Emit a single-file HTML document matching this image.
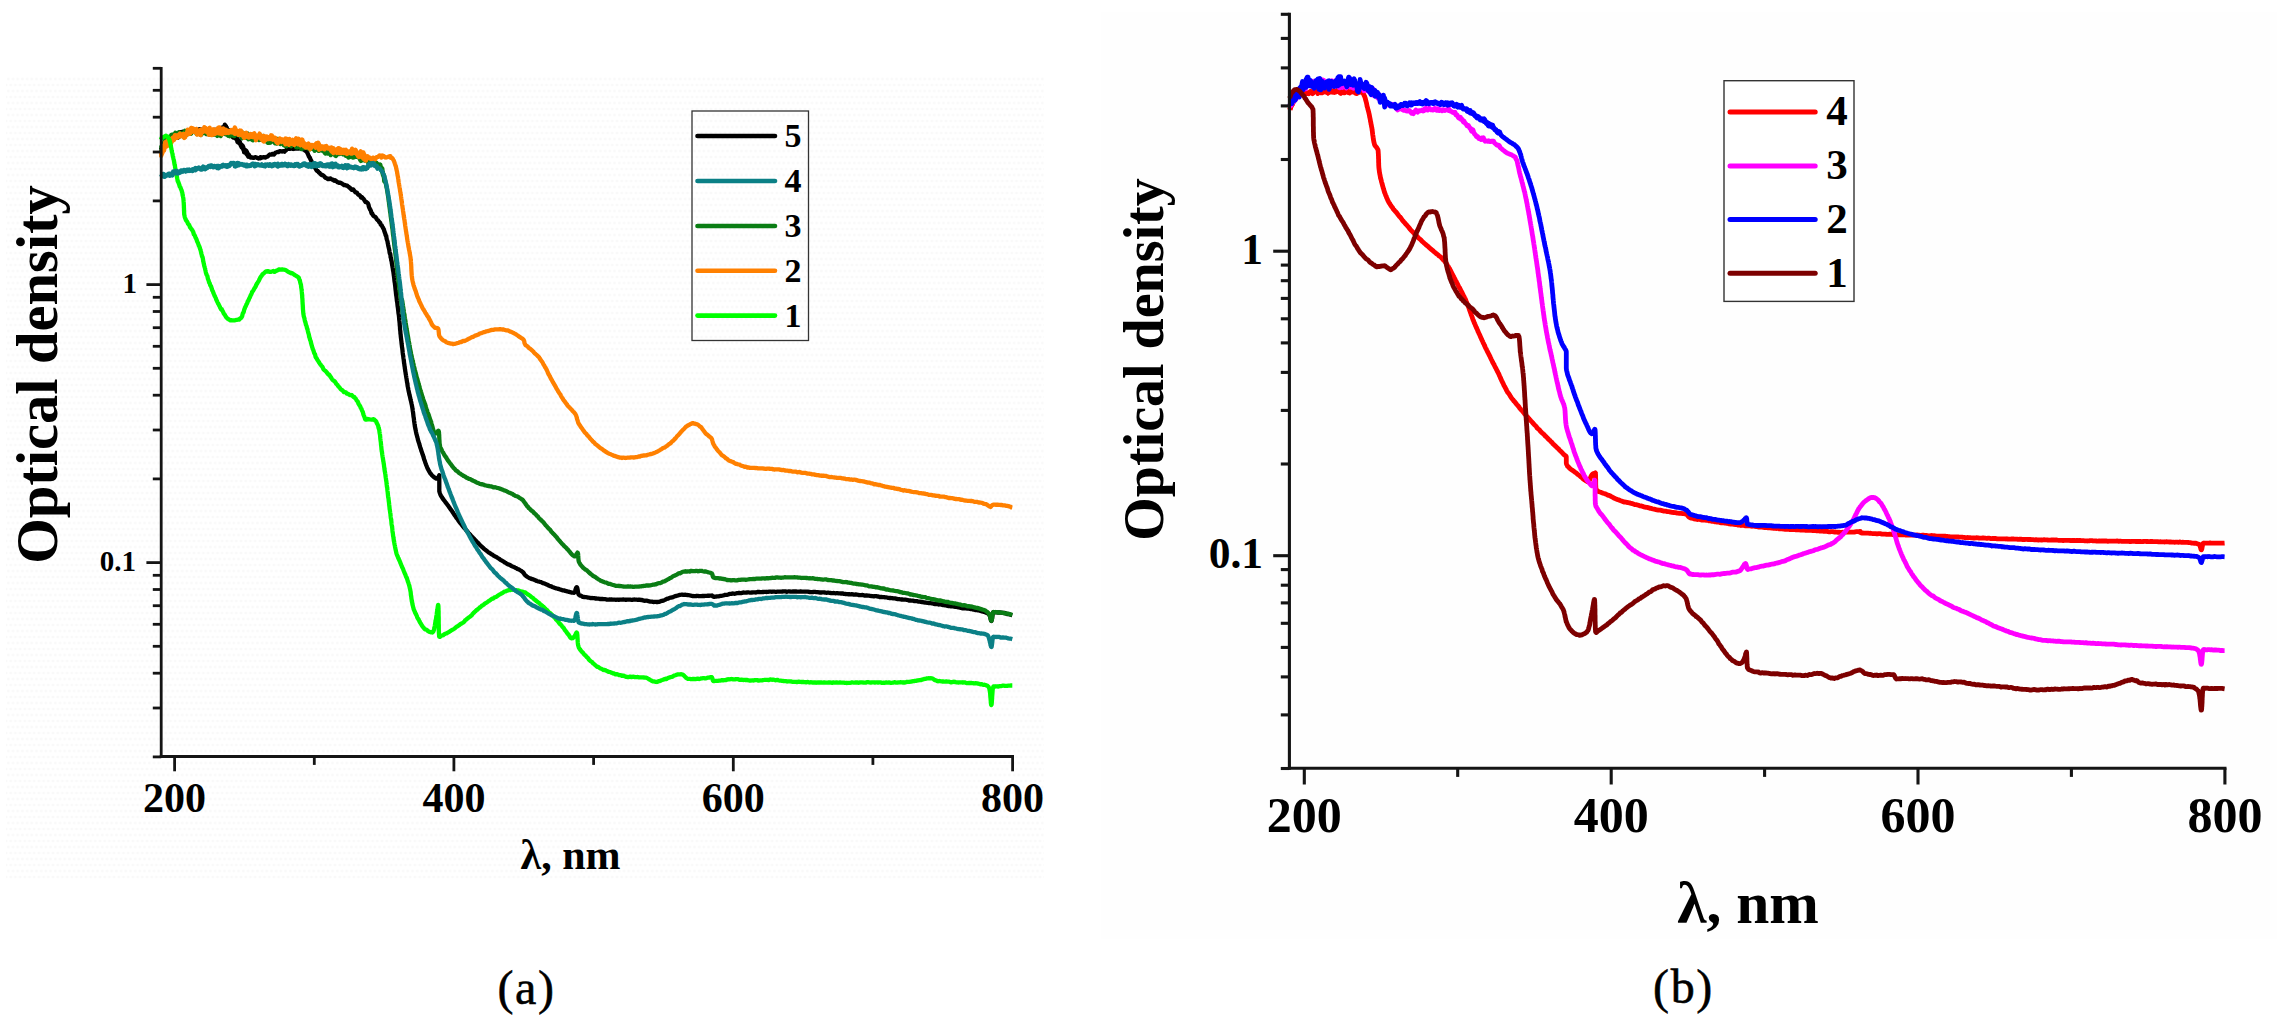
<!DOCTYPE html>
<html lang="en">
<head>
<meta charset="utf-8">
<title>Optical density spectra</title>
<style>
html,body{margin:0;padding:0;background:#fff;}
body{width:2277px;height:1033px;position:relative;overflow:hidden;font-family:"Liberation Serif",serif;}
svg text{font-family:"Liberation Serif",serif;fill:#000;}
svg text.b{font-weight:bold;}
svg text.r{font-weight:normal;stroke:#000;stroke-width:0.55px;}
</style>
</head>
<body>
<svg width="2277" height="1033" viewBox="0 0 2277 1033" style="position:absolute;left:0;top:0;display:block">
<defs>
<pattern id="dz" x="6" y="76" width="9.4" height="12" patternUnits="userSpaceOnUse">
<rect width="9.4" height="12" fill="#ffffff"/>
<circle cx="2.3" cy="3" r="1.3" fill="#f9f9f9"/><circle cx="7" cy="3" r="1.3" fill="#f9f9f9"/>
<circle cx="4.7" cy="9" r="1.3" fill="#f9f9f9"/><circle cx="0" cy="9" r="1.3" fill="#f9f9f9"/><circle cx="9.4" cy="9" r="1.3" fill="#f9f9f9"/>
</pattern>
</defs>
<rect x="0" y="0" width="2277" height="1033" fill="#ffffff"/>
<rect x="6" y="76" width="1038" height="805" fill="url(#dz)"/>
<rect x="1101" y="12" width="1176" height="927" fill="#fefefe"/>
<g id="chart-a">
<path d="M161.0 151.4 L161.3 150.9 L161.7 150.7 L162.1 148.4 L162.5 146.2 L162.9 146.5 L163.3 147.0 L163.8 147.5 L164.3 146.6 L164.8 142.9 L165.1 142.4 L165.4 143.2 L166.0 143.5 L166.6 142.0 L167.3 140.7 L168.0 140.1 L168.8 138.8 L169.6 138.9 L170.4 139.6 L171.2 138.5 L172.0 136.3 L172.8 136.1 L173.2 139.0 L173.5 139.5 L174.3 137.4 L175.1 136.7 L175.9 137.4 L176.7 137.5 L177.6 137.8 L178.4 137.4 L179.2 134.8 L180.0 132.3 L180.9 133.8 L181.7 132.9 L182.6 131.7 L183.4 133.9 L183.7 135.0 L184.3 133.3 L185.2 133.6 L186.0 134.1 L186.9 133.5 L187.8 133.1 L188.7 132.1 L189.6 131.7 L190.5 132.0 L191.4 132.4 L192.3 131.7 L193.2 130.5 L194.1 130.7 L195.1 131.7 L196.0 131.7 L196.5 131.4 L196.9 131.8 L197.8 131.9 L198.7 133.3 L199.6 133.3 L200.5 134.4 L201.4 133.0 L202.3 131.2 L203.2 132.4 L204.1 131.8 L205.0 131.5 L205.9 132.5 L206.8 134.1 L207.7 132.6 L208.6 130.7 L209.5 130.0 L210.4 130.8 L210.4 131.6 L211.3 131.6 L212.2 131.9 L213.1 131.6 L214.0 130.9 L215.0 129.8 L215.9 132.1 L216.8 130.6 L217.7 130.6 L218.5 131.0 L219.3 131.3 L219.7 131.7 L220.1 131.5 L220.8 131.0 L221.5 128.9 L222.2 129.7 L222.9 128.7 L223.5 128.7 L224.2 127.8 L224.8 127.6 L224.9 128.0 L225.4 128.1 L225.9 126.2 L226.5 127.4 L227.0 129.2 L227.5 130.2 L228.1 132.1 L228.6 131.6 L229.0 133.1 L229.2 131.2 L229.8 130.6 L230.4 132.8 L231.1 132.1 L231.7 134.1 L232.4 136.8 L233.1 137.5 L233.8 137.2 L234.4 136.7 L235.1 136.8 L235.7 136.3 L236.0 136.8 L236.3 137.2 L236.9 138.4 L237.5 140.5 L238.1 140.2 L238.6 140.1 L239.2 141.2 L239.7 143.5 L240.3 143.6 L240.6 144.0 L240.8 144.1 L241.2 144.7 L241.7 146.3 L242.1 146.8 L242.5 146.2 L242.9 146.7 L243.4 147.5 L243.8 149.8 L244.2 152.3 L244.7 151.7 L245.2 152.2 L245.3 151.0 L245.8 152.5 L246.4 154.1 L247.0 154.3 L247.6 155.4 L248.3 156.6 L249.0 155.2 L249.7 156.9" fill="none" stroke="#000000" stroke-width="4.3" stroke-linejoin="round" stroke-linecap="butt"/>
<path d="M161.0 149.7 L161.3 148.8 L161.7 148.3 L162.1 148.4 L162.5 147.5 L162.9 147.2 L163.3 147.3 L163.8 146.7 L164.3 145.2 L164.8 143.3 L165.1 142.3 L165.4 142.0 L166.0 142.0 L166.6 141.5 L167.3 140.0 L168.0 139.5 L168.8 139.7 L169.6 138.0 L170.4 138.7 L171.2 139.0 L172.0 137.2 L172.8 136.2 L173.2 136.8 L173.5 138.0 L174.3 136.6 L175.1 134.5 L175.9 135.5 L176.7 137.1 L177.6 137.1 L178.4 135.9 L179.2 133.9 L180.0 132.2 L180.9 133.4 L181.7 133.5 L182.6 133.9 L183.4 134.9 L183.7 134.0 L184.3 133.6 L185.2 133.5 L186.0 132.4 L186.9 131.5 L187.8 131.6 L188.7 133.0 L189.6 132.8 L190.5 132.1 L191.4 133.0 L192.3 131.9 L193.2 130.6 L194.1 131.8 L195.1 131.2 L196.0 130.3 L196.5 131.6 L196.9 131.3 L197.8 131.3 L198.7 131.4 L199.6 129.1 L200.5 129.4 L201.4 131.0 L202.3 131.7 L203.2 130.9 L204.1 130.3 L205.0 130.5 L205.9 131.9 L206.8 132.3 L207.7 130.2 L208.6 129.6 L209.5 131.1 L210.4 131.5 L210.4 131.4 L211.3 132.9 L212.2 133.1 L213.1 131.7 L214.0 131.7 L215.0 132.3 L215.9 131.0 L216.8 129.9 L217.7 130.5 L218.5 130.4 L219.3 130.9 L219.7 130.4 L220.1 130.6 L220.8 130.7 L221.5 129.3 L222.2 127.6 L222.9 127.2 L223.5 129.0 L224.2 127.8 L224.8 124.7 L224.9 124.8 L225.4 126.4 L225.9 126.4 L226.5 127.6 L227.0 129.2 L227.5 129.6 L228.1 129.9 L228.6 130.5 L229.0 131.5 L229.2 132.8 L229.8 134.8 L230.4 134.8 L231.1 134.2 L231.7 135.3 L232.4 134.9 L233.1 133.9 L233.8 135.9 L234.4 137.6 L235.1 137.4 L235.7 138.7 L236.0 138.4 L236.3 138.2 L236.9 138.8 L237.5 142.0 L238.1 142.4 L238.6 142.5 L239.2 141.5 L239.7 141.6 L240.3 144.1 L240.6 144.4 L240.8 145.8 L241.2 146.1 L241.7 147.3 L242.1 145.9 L242.5 145.6 L242.9 148.5 L243.4 149.4 L243.8 150.3 L244.2 151.6 L244.7 150.5 L245.2 150.1 L245.3 150.0 L245.8 150.3 L246.4 151.0 L247.0 152.1 L247.6 153.5 L248.3 154.6 L249.0 155.0 L249.7 156.7 L250.5 157.6 L251.1 157.6 L251.3 157.5 L252.1 157.3 L252.9 157.8 L253.8 157.9 L254.7 157.4 L255.6 157.2 L256.6 157.6 L257.5 158.1 L258.5 158.5 L259.4 158.2 L260.3 158.3 L260.4 157.2 L261.2 157.4 L262.0 157.6 L262.9 157.4 L263.8 157.2 L264.6 157.4 L265.5 157.6 L266.4 156.9 L267.2 156.7 L268.1 156.1 L268.9 155.3 L269.8 154.4 L270.6 154.7 L271.5 154.7 L272.0 154.0 L272.4 153.9 L273.2 154.0 L274.1 154.5 L275.0 153.4 L275.8 152.5 L276.7 152.2 L277.5 151.9 L278.4 152.2 L279.3 151.4 L280.1 151.2 L281.0 151.3 L281.9 151.5 L282.7 151.4 L283.6 151.1 L283.6 151.2 L284.5 151.7 L285.3 150.7 L286.2 150.1 L287.0 149.3 L287.9 148.9 L288.8 148.6 L289.6 148.9 L290.5 148.6 L291.4 148.0 L291.8 147.8 L292.3 148.7 L293.2 149.0 L294.1 148.8 L295.0 148.5 L295.9 148.6 L296.8 148.7 L297.7 148.7 L298.6 148.7 L299.5 148.2 L299.9 148.0 L300.4 147.8 L301.3 148.8 L302.2 148.6 L303.0 149.1 L303.8 149.6 L304.5 149.6 L304.6 149.8 L305.2 150.6 L305.8 151.0 L306.3 151.4 L306.8 152.1 L307.3 152.8 L307.8 153.8 L308.3 155.0 L308.7 156.0 L309.2 157.0 L309.6 157.4 L310.0 157.9 L310.1 158.5 L310.5 159.3 L310.9 160.2 L311.3 160.8 L311.7 161.7 L312.1 162.6 L312.5 163.3 L312.8 163.6 L313.2 164.6 L313.6 165.8 L314.1 167.0 L314.5 167.3 L315.0 167.9 L315.0 167.5 L315.5 167.8 L316.0 169.5 L316.6 170.5 L317.2 171.1 L317.8 171.0 L318.4 172.0 L319.1 172.6 L319.7 172.9 L320.4 173.9 L321.1 174.5 L321.8 175.1 L322.5 175.0 L323.2 175.5 L323.7 175.9 L323.9 175.9 L324.7 177.0 L325.5 177.9 L326.3 178.0 L327.1 178.5 L328.0 179.1 L328.9 179.0 L329.7 178.6 L330.6 178.4 L331.5 179.3 L332.4 179.6 L333.3 179.9 L334.1 180.7 L335.0 180.8 L335.3 180.3 L335.8 180.9 L336.6 181.4 L337.4 182.1 L338.3 182.4 L339.1 182.8 L339.9 182.7 L340.7 182.9 L341.6 183.4 L342.4 183.9 L343.2 184.5 L344.0 185.2 L344.8 185.0 L345.6 185.4 L346.4 185.5 L347.2 185.7 L348.0 186.4 L348.7 186.8 L349.5 187.7 L349.8 187.7 L350.3 188.1 L351.0 189.2 L351.8 189.9 L352.5 189.6 L353.3 189.4 L354.0 190.4 L354.8 191.5 L355.5 192.4 L356.3 192.5 L357.0 192.8 L357.7 194.0 L358.4 194.7 L359.1 194.8 L359.8 195.4 L360.4 196.4 L361.1 197.5 L361.4 196.9 L361.7 196.9 L362.4 197.7 L363.0 198.6 L363.7 199.1 L364.3 200.0 L364.9 201.1 L365.5 202.0 L366.1 201.9 L366.7 202.3 L367.2 202.8 L367.7 203.0 L368.2 204.0 L368.7 205.4 L368.7 206.0 L369.1 207.3 L369.4 208.0 L369.7 208.6 L370.0 209.4 L370.3 209.5 L370.6 210.1 L370.9 211.0 L371.3 212.3 L371.6 213.6 L371.7 213.1 L372.2 213.4 L372.7 214.5 L373.2 215.5 L373.8 216.2 L374.4 216.7 L375.0 216.7 L375.7 217.3 L376.3 218.3 L376.9 219.4 L377.6 220.2 L378.1 220.3 L378.7 221.3 L378.9 221.6 L379.2 222.1 L379.7 222.4 L380.2 223.0 L380.7 224.6 L381.2 225.0 L381.7 225.2 L382.2 226.5 L382.6 227.0 L383.1 228.0 L383.5 228.8 L383.9 229.4 L384.2 230.8 L384.6 231.6 L384.7 232.4 L384.9 232.7 L385.2 233.4 L385.4 234.4 L385.7 235.5 L385.9 235.4 L386.2 235.9 L386.4 237.1 L386.6 238.7 L386.9 239.7 L387.1 240.2 L387.3 240.8 L387.5 241.3 L387.7 243.0 L387.9 243.7 L388.0 244.4 L388.2 245.3 L388.4 246.4 L388.6 247.1 L388.8 248.0 L389.0 248.9 L389.0 248.9 L389.2 249.5 L389.4 250.8 L389.5 251.8 L389.7 253.0 L389.9 253.8 L390.1 253.6 L390.3 254.1 L390.5 255.7 L390.6 257.3 L390.8 257.6 L391.0 258.1 L391.2 259.9 L391.3 260.6 L391.5 260.6 L391.7 261.6 L391.8 262.9 L392.0 263.7 L392.1 264.8 L392.3 265.7 L392.5 266.7 L392.6 267.6 L392.8 268.4 L392.9 269.4 L393.0 270.1 L393.2 270.8 L393.3 271.7 L393.4 272.2 L393.5 272.8 L393.6 273.7 L393.7 274.3 L393.8 275.3 L394.0 276.3 L394.1 277.3 L394.2 278.1 L394.3 279.1 L394.4 280.2 L394.5 280.9 L394.6 281.8 L394.8 282.7 L394.9 283.6 L395.0 284.4 L395.1 285.1 L395.2 286.1 L395.3 286.9 L395.4 288.0 L395.5 289.0 L395.6 289.9 L395.7 290.9 L395.8 291.5 L395.9 292.5 L396.0 293.4 L396.1 294.2 L396.2 295.2 L396.3 295.8 L396.4 296.2 L396.5 297.0 L396.6 297.9 L396.7 298.7 L396.8 299.8 L396.9 300.8 L397.0 301.5 L397.2 302.3 L397.3 303.1 L397.4 304.1 L397.5 305.0 L397.6 305.9 L397.7 306.7 L397.9 307.8 L398.0 308.7 L398.1 309.6 L398.2 310.4 L398.3 311.3 L398.4 312.4 L398.5 313.2 L398.6 313.8 L398.8 314.8 L398.9 315.7 L399.0 316.6 L399.1 317.7 L399.2 318.4 L399.2 318.9 L399.2 319.2 L399.3 320.3 L399.4 321.0 L399.5 321.8 L399.6 322.9 L399.7 323.8 L399.7 324.7 L399.8 325.6 L399.9 326.4 L400.0 327.5 L400.0 328.5 L400.1 329.4 L400.2 330.2 L400.3 331.1 L400.4 331.9 L400.4 332.9 L400.5 333.8 L400.6 334.6 L400.7 334.8 L400.7 335.5 L400.8 336.5 L400.9 337.4 L401.0 338.2 L401.1 339.1 L401.2 340.0 L401.3 340.8 L401.4 341.5 L401.5 342.6 L401.6 343.6 L401.7 344.4 L401.8 345.1 L401.9 346.1 L402.0 347.1 L402.2 347.9 L402.3 348.8 L402.4 349.7 L402.5 350.6 L402.6 351.7 L402.7 352.7 L402.8 353.5 L402.9 354.4 L403.1 355.2 L403.2 355.9 L403.3 356.8 L403.4 357.8 L403.5 358.6 L403.7 359.4 L403.8 360.6 L403.9 361.3 L404.0 362.2 L404.1 363.3 L404.3 364.1 L404.4 365.0 L404.5 365.9 L404.7 366.8 L404.8 367.7 L404.9 368.7 L405.1 369.6 L405.2 370.4 L405.3 371.4 L405.5 372.2 L405.6 373.0 L405.7 374.0 L405.9 374.7 L406.0 375.6 L406.2 376.7 L406.3 377.4 L406.4 378.1 L406.6 379.0 L406.7 380.1 L406.9 381.1 L407.0 382.1 L407.2 382.7 L407.3 383.5 L407.5 384.6 L407.6 385.7 L407.8 386.6 L407.9 387.2 L407.9 387.2 L408.1 388.2 L408.3 389.2 L408.4 389.9 L408.6 390.8 L408.8 391.7 L409.0 392.6 L409.2 393.5 L409.4 394.6 L409.6 395.3 L409.8 396.1 L410.0 396.9 L410.2 397.8 L410.4 398.8 L410.6 399.7 L410.8 400.4 L411.0 401.3 L411.2 402.1 L411.4 403.0 L411.6 404.0 L411.8 404.8 L412.0 405.8 L412.1 406.7 L412.3 407.4 L412.3 407.4 L412.4 408.4 L412.6 409.4 L412.7 410.2 L412.8 411.1 L413.0 412.1 L413.1 412.8 L413.2 413.7 L413.3 414.7 L413.4 415.6 L413.5 416.6 L413.7 417.5 L413.8 418.1 L413.9 418.9 L414.0 420.0 L414.1 421.0 L414.2 421.8 L414.4 422.7 L414.5 423.7 L414.6 424.5 L414.8 425.5 L414.9 426.4 L415.1 427.2 L415.2 427.8 L415.2 428.1 L415.4 429.1 L415.6 429.8 L415.8 430.7 L415.9 431.4 L416.1 432.4 L416.3 433.4 L416.5 434.2 L416.8 435.2 L417.0 436.0 L417.2 436.9 L417.4 437.5 L417.7 438.5 L417.9 439.6 L418.1 440.4 L418.4 441.1 L418.6 441.9 L418.9 442.7 L419.2 443.6 L419.4 444.5 L419.7 445.4 L420.0 446.5 L420.2 447.2 L420.5 448.0 L420.8 448.9 L421.1 449.9 L421.3 450.7 L421.6 451.4 L421.9 452.2 L422.2 453.2 L422.4 453.9 L422.5 453.9 L422.8 455.0 L423.1 455.8 L423.4 456.6 L423.6 457.5 L423.9 458.4 L424.2 459.4 L424.5 460.2 L424.8 461.0 L425.1 462.0 L425.4 463.0 L425.8 463.9 L426.1 464.8 L426.4 465.5 L426.8 466.5 L427.1 467.3 L427.5 468.2 L427.9 469.1 L428.3 469.8 L428.7 470.5 L429.1 471.3 L429.5 471.9 L430.0 472.8 L430.5 473.6 L431.0 474.2 L431.2 474.2 L431.5 474.7 L432.1 475.5 L432.9 476.2 L433.6 476.8 L434.5 477.5 L435.3 478.1 L436.0 478.6 L436.7 478.7 L437.0 478.6 L437.3 478.3 L438.0 477.6 L438.6 476.7 L439.1 475.7 L439.3 475.2 L439.3 475.3 L439.3 475.3 L439.3 475.6 L439.3 476.1 L439.3 476.7 L439.3 477.5 L439.3 478.4 L439.3 479.3 L439.3 480.3 L439.3 481.5 L439.3 482.8 L439.3 483.9 L439.3 485.1 L439.3 486.4 L439.3 487.5 L439.3 488.6 L439.3 489.5 L439.3 490.2 L439.3 490.3 L439.3 491.3 L439.5 491.9 L439.7 492.6 L440.0 493.5 L440.3 494.5 L440.7 495.2 L441.1 496.0 L441.6 496.7 L442.1 497.5 L442.6 498.3 L443.2 499.2 L443.8 500.1 L444.4 500.7 L445.0 501.5 L445.6 502.5 L446.2 503.2 L446.8 503.9 L447.3 504.6 L447.9 505.3 L448.4 506.1 L448.6 506.3 L448.9 506.7 L449.4 507.6 L449.9 508.3 L450.4 509.0 L450.9 509.7 L451.4 510.3 L451.9 511.0 L452.4 511.7 L452.9 512.6 L453.4 513.3 L453.9 514.1 L454.4 514.9 L454.9 515.5 L455.5 516.4 L456.0 517.2 L456.5 517.9 L457.0 518.6 L457.6 519.1 L458.1 520.1 L458.6 520.9 L459.2 521.5 L459.7 522.3 L460.3 523.0 L460.8 523.7 L461.4 524.4 L461.9 525.0 L462.5 525.8 L463.1 526.5 L463.1 526.6 L463.6 527.2 L464.2 527.9 L464.8 528.5 L465.4 529.2 L465.9 529.8 L466.5 530.5 L467.1 531.2 L467.7 531.9 L468.3 532.7 L468.9 533.5 L469.5 533.9 L470.1 534.5 L470.7 535.4 L471.3 536.0 L472.0 536.7 L472.6 537.3 L473.2 537.9 L473.8 538.5 L474.5 539.2 L475.1 540.1 L475.7 540.7 L476.3 541.2 L477.0 542.0 L477.6 542.6 L477.6 542.4 L478.2 543.0 L478.9 543.8 L479.5 544.6 L480.2 545.3 L480.8 545.8 L481.5 546.4 L482.1 547.0 L482.8 547.6 L483.4 548.2 L484.1 548.8 L484.8 549.4 L485.2 549.7 L485.5 549.8 L486.2 550.4 L486.9 550.9 L487.6 551.6 L488.4 552.2 L489.1 552.7 L489.8 553.1 L490.6 553.6 L491.3 554.2 L492.1 554.5 L492.8 555.0 L493.6 555.7 L494.4 556.1 L495.1 556.4 L495.9 556.8 L496.7 557.2 L497.4 557.7 L498.2 558.2 L499.0 558.7 L499.8 559.3 L500.6 560.0 L501.3 560.3 L502.1 560.7 L502.9 561.2 L503.7 561.6 L504.5 562.3 L505.2 562.7 L505.6 562.8 L506.0 563.1 L506.8 563.7 L507.6 564.2 L508.4 564.5 L509.2 564.6 L510.1 565.1 L510.9 565.6 L511.7 566.1 L512.6 566.5 L513.4 566.8 L514.2 567.2 L515.1 567.7 L515.9 568.0 L516.7 568.4 L517.5 569.0 L518.3 569.3 L519.1 569.6 L519.8 570.0 L520.6 570.5 L521.3 570.9 L522.0 571.6 L522.7 571.9 L523.0 572.4 L523.3 572.6 L523.9 573.4 L524.4 574.3 L525.0 575.0 L525.6 575.6 L525.9 575.8 L526.2 576.1 L526.9 576.6 L527.6 577.0 L528.4 577.5 L529.1 577.9 L529.9 578.2 L530.7 578.6 L531.6 578.9 L532.4 579.2 L533.3 579.4 L534.1 579.8 L535.0 580.1 L535.9 580.5 L536.8 581.0 L537.7 581.3 L538.6 581.5 L539.4 581.7 L540.3 582.0 L541.2 582.2 L542.1 582.6 L542.9 583.1 L543.3 583.2 L543.8 583.3 L544.6 583.6 L545.4 583.9 L546.3 584.4 L547.1 584.6 L547.9 585.0 L548.8 585.6 L549.6 585.9 L550.4 586.2 L551.3 586.4 L552.1 586.9 L553.0 587.2 L553.8 587.5 L554.6 587.9 L555.5 588.1 L556.3 588.3 L557.2 588.5 L558.0 588.9 L558.9 589.0 L559.7 589.3 L560.6 589.6 L560.8 589.7 L561.5 589.9 L562.4 590.3 L563.3 590.4 L564.3 590.5 L565.3 590.9 L566.3 591.1 L567.3 591.4 L568.3 591.6 L569.2 591.9 L570.1 592.2 L571.0 592.4 L571.8 592.6 L572.6 592.6 L573.2 592.6 L573.8 592.8 L573.8 592.7 L574.3 592.5 L574.8 591.8 L575.2 590.7 L575.6 589.3 L576.0 588.1 L576.4 587.4 L576.7 587.1 L576.7 587.1 L576.9 587.2 L577.2 587.8 L577.4 588.6 L577.6 589.5 L577.8 590.7 L577.9 591.8 L578.2 593.0 L578.4 594.0 L578.7 594.7 L578.8 594.7 L579.1 594.9 L579.5 595.3 L580.1 595.6 L580.7 595.6 L581.5 595.9 L582.3 596.6 L583.2 596.9 L584.1 597.0 L585.0 597.1 L586.0 597.2 L587.1 597.3 L588.1 597.6 L589.2 597.7 L590.2 598.0 L591.3 598.1 L592.3 598.0 L593.3 598.2 L594.3 598.2 L595.3 598.4 L595.6 598.6 L596.1 598.5 L597.0 598.6 L597.9 598.6 L598.8 598.7 L599.7 599.0 L600.6 599.0 L601.5 599.0 L602.4 598.9 L603.3 599.1 L604.2 599.1 L605.1 599.2 L606.0 599.3 L606.9 599.6 L607.8 599.7 L608.7 599.6 L609.6 599.5 L610.5 599.6 L611.4 599.4 L612.3 599.6 L613.2 599.7 L614.1 599.7 L615.0 599.7 L615.9 599.8 L616.0 599.8 L616.8 599.7 L617.7 599.7 L618.7 599.9 L619.6 599.7 L620.5 599.7 L621.4 599.7 L622.3 599.6 L623.2 599.5 L624.1 599.6 L625.0 599.7 L625.9 599.9 L626.8 599.7 L627.7 599.7 L628.6 599.7 L629.5 599.7 L630.4 599.7 L631.3 599.8 L632.2 599.9 L633.1 599.7 L634.0 599.5 L634.9 599.6 L635.8 599.6 L636.3 599.6 L636.7 599.7 L637.6 599.8 L638.5 599.6 L639.4 599.6 L640.3 599.9 L641.2 600.0 L642.1 600.0 L643.0 600.4 L643.9 600.7 L644.8 600.8 L645.7 600.7 L646.6 600.7 L647.5 600.9 L648.4 601.1 L649.3 601.3 L650.2 601.6 L651.1 601.6 L652.0 601.7 L652.8 601.9 L653.7 602.0 L654.6 601.9 L655.5 601.8 L656.4 601.9 L656.6 602.0 L657.3 601.9 L658.1 602.0 L659.0 601.8 L659.9 601.6 L660.7 601.2 L661.6 600.9 L662.4 600.8 L663.3 600.6 L664.2 600.2 L665.0 599.8 L665.9 599.3 L666.7 598.9 L667.6 598.7 L668.2 598.6 L668.5 598.5 L669.3 598.0 L670.2 597.7 L671.1 597.6 L671.9 597.4 L672.8 597.3 L673.7 596.7 L674.5 596.4 L675.4 596.2 L676.3 595.9 L677.2 595.7 L678.0 595.5 L678.9 595.1 L679.8 594.9 L680.7 594.8 L681.5 594.7 L682.4 594.6 L682.8 594.7 L683.3 594.9 L684.2 594.8 L685.1 594.7 L686.0 594.8 L686.9 595.0 L687.8 595.1 L688.7 595.2 L689.6 595.3 L690.5 595.5 L691.4 595.8 L692.3 596.0 L693.2 596.0 L694.1 596.2 L695.0 596.2 L695.9 596.0 L696.8 596.0 L697.3 595.9 L697.7 595.9 L698.6 596.1 L699.5 596.1 L700.4 596.1 L701.4 596.1 L702.3 596.0 L703.3 596.0 L704.2 596.0 L705.2 595.9 L706.1 595.9 L707.0 595.9 L707.9 595.7 L708.8 595.9 L709.6 595.7 L710.5 595.7 L711.3 595.6 L711.8 595.5 L712.0 595.5 L712.7 596.3 L713.3 596.6 L713.4 596.6 L714.2 596.9 L715.1 596.7 L715.9 596.6 L716.8 596.4 L717.7 596.3 L718.6 596.3 L719.5 596.1 L720.4 595.9 L721.3 595.8 L722.3 595.7 L723.2 595.5 L724.1 595.2 L725.0 594.8 L725.9 594.8 L726.3 594.9 L726.8 594.8 L727.7 594.6 L728.6 594.3 L729.0 594.2 L729.5 593.9 L730.4 593.9 L731.3 593.9 L732.1 593.6 L733.0 593.5 L733.9 593.7 L734.8 593.8 L735.7 593.5 L736.6 593.2 L737.5 593.2 L738.4 593.0 L739.3 592.9 L740.2 593.1 L741.1 593.1 L742.0 592.9 L742.9 592.6 L743.8 592.5 L744.7 592.7 L745.6 592.7 L746.5 592.7 L747.4 592.3 L748.3 592.3 L749.2 592.5 L750.1 592.7 L751.0 592.6 L751.9 592.5 L752.8 592.4 L753.7 592.3 L754.6 592.3 L755.6 592.5 L756.5 592.4 L757.4 592.0 L758.1 592.1 L758.3 591.9 L759.2 592.0 L760.1 592.1 L761.0 592.2 L761.9 592.1 L762.8 592.0 L763.7 592.0 L764.6 591.8 L765.5 591.8 L766.4 592.0 L767.3 591.9 L768.2 591.8 L769.1 591.7 L770.0 591.7 L770.9 591.7 L771.8 591.8 L772.7 591.7 L773.6 591.7 L774.5 591.7 L775.4 591.8 L776.3 591.8 L777.2 591.7 L778.1 591.6 L779.0 591.6 L779.9 591.6 L780.8 591.6 L781.7 591.6 L782.6 591.5 L783.5 591.4 L784.4 591.3 L785.3 591.3 L786.2 591.6 L787.1 591.8 L787.1 591.8 L788.0 591.5 L788.9 591.3 L789.8 591.5 L790.7 591.6 L791.6 591.7 L792.5 591.5 L793.4 591.5 L794.3 591.5 L795.2 591.5 L796.1 591.5 L797.0 591.6 L797.9 591.6 L798.8 591.6 L799.7 591.6 L800.6 591.4 L801.5 591.6 L802.4 591.6 L803.3 591.6 L804.2 591.6 L805.1 591.6 L806.0 591.6 L806.9 591.6 L807.8 591.7 L808.7 591.9 L809.6 592.0 L810.5 592.1 L811.4 592.2 L812.3 592.1 L813.2 592.0 L814.1 591.9 L815.0 591.8 L815.9 592.0 L816.2 592.1 L816.8 592.1 L817.7 592.1 L818.6 592.3 L819.5 592.5 L820.4 592.4 L821.3 592.5 L822.2 592.4 L823.1 592.3 L824.0 592.4 L824.9 592.5 L825.8 592.7 L826.7 592.8 L827.6 592.7 L828.5 592.7 L829.4 592.8 L830.3 592.9 L831.2 593.1 L832.1 593.1 L833.0 593.1 L833.9 593.0 L834.8 593.2 L835.7 593.3 L836.6 593.2 L837.5 593.2 L838.4 593.4 L839.3 593.3 L840.2 593.4 L841.1 593.5 L842.0 593.4 L842.9 593.5 L843.8 593.9 L844.7 593.8 L845.2 593.8 L845.6 594.0 L846.5 594.1 L847.4 594.2 L848.3 594.3 L849.2 594.1 L850.1 594.3 L851.0 594.4 L851.9 594.2 L852.8 594.3 L853.7 594.6 L854.6 594.6 L855.5 594.5 L856.4 594.5 L857.3 594.7 L858.2 594.8 L859.1 595.1 L860.0 595.2 L860.9 595.2 L861.8 595.0 L862.7 595.0 L863.6 595.2 L864.5 595.6 L865.4 595.6 L866.3 595.4 L867.2 595.5 L868.1 595.7 L869.0 595.7 L869.9 595.8 L870.8 596.0 L871.7 596.1 L872.6 596.2 L873.5 596.4 L874.3 596.3 L874.4 596.1 L875.3 596.1 L876.2 596.2 L877.1 596.4 L878.0 596.5 L878.9 596.6 L879.7 597.0 L880.6 597.0 L881.5 597.0 L882.4 597.1 L883.3 597.1 L884.2 597.1 L885.1 597.3 L886.0 597.3 L886.9 597.5 L887.8 597.8 L888.7 597.9 L889.6 598.0 L890.5 598.0 L891.4 598.1 L892.3 598.2 L893.2 598.4 L894.1 598.4 L895.0 598.4 L895.9 598.6 L896.7 598.9 L897.6 599.1 L898.5 599.2 L899.4 599.2 L900.3 599.3 L901.2 599.5 L902.1 599.4 L903.0 599.7 L903.3 599.7 L903.9 599.7 L904.8 599.7 L905.7 599.7 L906.6 599.8 L907.5 600.0 L908.4 600.3 L909.3 600.6 L910.2 600.5 L911.1 600.6 L911.9 600.7 L912.8 600.7 L913.7 600.9 L914.6 601.2 L915.5 601.2 L916.4 601.1 L917.3 601.2 L918.2 601.6 L919.1 601.6 L920.0 601.7 L920.9 601.9 L921.8 602.0 L922.7 602.1 L923.6 602.3 L924.5 602.5 L925.4 602.5 L926.3 602.7 L927.1 602.8 L928.0 602.9 L928.9 603.1 L929.8 603.1 L930.7 603.2 L931.6 603.3 L932.4 603.3 L932.5 603.4 L933.4 603.6 L934.3 603.9 L935.2 604.1 L936.1 604.0 L937.0 604.0 L937.9 604.2 L938.7 604.5 L939.6 604.4 L940.5 604.4 L941.4 604.6 L942.3 604.8 L943.2 605.1 L944.1 605.2 L945.0 605.3 L945.9 605.4 L946.8 605.6 L947.7 605.9 L948.6 606.1 L949.4 606.0 L950.3 606.1 L951.2 606.4 L952.1 606.4 L953.0 606.4 L953.9 606.5 L954.8 606.8 L955.7 606.9 L956.6 606.8 L957.5 607.1 L958.4 607.3 L959.2 607.5 L960.1 607.6 L961.0 607.8 L961.4 607.8 L961.9 608.1 L962.8 608.3 L963.7 608.3 L964.6 608.4 L965.5 608.4 L966.4 608.4 L967.3 608.6 L968.2 608.6 L969.1 608.7 L970.0 609.0 L970.9 609.2 L971.8 609.2 L972.7 609.3 L973.6 609.7 L974.5 609.7 L975.3 610.0 L976.2 610.1 L977.1 610.1 L978.0 610.3 L978.9 610.4 L979.7 610.6 L980.6 611.0 L981.5 611.3 L981.8 611.4 L982.3 611.4 L983.3 611.7 L984.2 612.0 L985.2 612.3 L986.1 612.7 L987.0 613.0 L987.8 613.4 L988.5 613.9 L989.0 614.2 L989.0 614.1 L989.4 614.8 L989.8 615.9 L990.1 617.0 L990.4 618.0 L990.7 619.1 L990.9 620.0 L991.1 620.8 L991.4 621.0 L991.4 620.9 L991.6 620.4 L991.8 619.7 L992.0 618.8 L992.2 617.7 L992.3 616.4 L992.5 615.0 L992.7 613.8 L992.9 612.9 L993.2 612.3 L993.4 612.1 L993.5 612.1 L993.8 612.3 L994.2 612.4 L994.7 612.3 L995.2 612.2 L995.8 612.3 L996.5 612.2 L997.2 612.4 L998.0 612.5 L998.8 612.5 L999.7 612.4 L1000.6 612.6 L1001.6 612.7 L1002.6 612.9 L1003.7 613.0 L1004.8 613.0 L1005.9 613.5 L1007.1 614.0 L1008.4 614.2 L1009.6 614.4 L1010.9 614.8 L1012.3 615.1" fill="none" stroke="#000000" stroke-width="4.3" stroke-linejoin="round" stroke-linecap="butt"/>
<path d="M161.0 148.0 L161.4 146.6 L161.7 146.5 L162.1 145.3 L162.6 146.4 L163.0 148.0 L163.5 145.9 L164.0 144.0 L164.6 141.2 L165.1 140.5 L165.1 142.0 L165.7 139.8 L166.4 139.1 L167.1 140.1 L167.9 139.6 L168.7 139.5 L169.6 138.3 L170.4 138.2 L171.3 134.8 L172.1 134.7 L172.9 135.0 L173.2 136.1 L173.8 135.4 L174.6 136.9 L175.4 135.8 L176.3 136.8 L177.1 136.5 L178.0 137.3 L178.8 136.9 L179.7 134.5 L180.6 134.8 L181.4 135.4 L182.3 135.2 L183.2 136.4 L183.7 136.1 L184.1 133.0 L184.9 130.7 L185.8 133.0 L186.7 134.9 L187.6 132.9 L188.5 131.8 L189.4 132.2 L190.3 133.8 L191.2 133.7 L192.1 130.5 L193.0 132.0 L193.9 130.9 L194.8 130.1 L195.7 132.5 L196.5 131.8 L196.6 131.0 L197.5 131.1 L198.3 130.9 L199.2 132.2 L200.1 132.5 L201.0 135.0 L201.9 133.9 L202.8 132.1 L203.7 131.7 L204.6 131.4 L205.5 133.4 L206.4 133.2 L207.3 130.7 L208.2 132.7 L209.1 134.6 L210.0 134.6 L210.4 132.7 L210.9 132.1 L211.8 133.2 L212.7 134.4 L213.6 134.3 L214.5 133.6 L215.4 132.4 L216.3 131.0 L217.2 130.7 L218.1 132.6 L219.0 132.6 L219.9 134.3 L220.8 136.0 L221.7 132.7 L222.6 133.6 L223.5 132.0 L224.4 131.7 L224.4 131.8 L225.3 132.9 L226.2 133.9 L227.1 134.6 L228.0 135.6 L228.9 133.8 L229.8 134.3 L230.7 132.8 L231.6 132.0 L232.5 132.3 L233.4 132.0 L233.7 135.3 L234.3 136.0 L235.2 133.2 L236.1 132.0 L237.0 134.3 L237.9 135.0 L238.8 135.1 L239.6 133.9 L240.5 135.1 L241.4 137.1 L242.3 138.2 L243.0 135.7 L243.2 136.1 L244.1 135.4 L244.9 136.6 L245.8 137.7 L246.7 134.1 L247.6 133.4 L248.5 135.3 L249.4 137.0 L250.3 139.0 L251.1 137.4 L252.0 139.4 L252.9 138.5 L253.8 138.4 L254.6 136.4 L254.7 134.9 L255.5 137.0 L256.4 138.8 L257.3 137.3 L258.2 137.1 L259.0 138.0 L259.9 135.0 L260.8 137.4 L261.6 139.2 L262.5 137.9 L263.4 138.8 L264.3 140.7 L265.1 139.6 L266.0 138.0 L266.2 138.8 L266.9 138.6 L267.8 141.4 L268.7 142.7 L269.6 142.6 L270.5 142.6 L271.3 140.9 L272.2 138.5 L273.1 139.5 L274.0 141.7 L274.9 143.3 L275.8 143.0 L276.7 143.5 L277.6 141.7 L277.8 141.7 L278.5 139.1 L279.4 141.3 L280.3 141.5 L281.2 142.6 L282.1 142.0 L283.0 141.6 L283.9 143.3 L284.8 144.7 L285.7 145.1 L286.6 146.0 L287.5 143.5 L288.3 142.8 L289.2 142.4 L289.4 143.8 L290.1 145.7 L291.0 146.3 L291.9 143.8 L292.7 141.5 L293.6 142.8 L294.5 144.6 L295.3 145.6 L296.2 147.2 L297.1 147.4 L297.9 144.9 L298.8 143.1 L299.7 143.2 L300.5 146.4 L301.4 149.1 L302.3 148.3 L303.2 148.4 L303.3 145.8 L304.0 145.8 L304.9 146.3 L305.8 145.9 L306.7 146.8 L307.6 148.1 L308.5 148.4 L309.3 149.3 L310.2 149.3 L311.1 148.7 L312.0 147.1 L312.9 147.5 L313.8 148.9 L314.7 150.6 L315.6 149.2 L316.5 148.3 L317.3 148.8 L318.2 150.5 L319.1 149.3 L320.0 147.8 L320.9 147.3 L321.8 148.5 L322.7 150.6 L323.6 149.6 L324.5 152.2 L325.4 153.6 L326.3 151.8 L327.1 153.0 L328.0 153.6 L328.9 150.5 L329.8 152.1 L330.7 155.1 L331.6 153.9 L332.4 153.6 L332.5 153.9 L333.4 152.0 L334.2 152.1 L335.1 153.8 L336.0 156.0 L336.9 154.4 L337.8 151.9 L338.7 154.1 L339.6 153.8 L340.5 153.6 L341.4 153.4 L342.3 153.3 L343.1 154.3 L344.0 152.7 L344.9 154.5 L345.8 155.9 L346.7 155.9 L347.6 155.8 L348.5 157.1 L349.4 157.2 L350.3 156.6 L351.1 156.7 L352.0 155.5 L352.9 157.5 L353.8 157.4 L354.7 154.9 L355.5 155.9 L356.4 156.7 L357.3 154.3 L358.2 155.3 L359.0 157.5 L359.9 159.4 L360.8 160.9 L361.4 159.1 L361.6 155.4 L362.5 154.5 L363.4 155.4 L364.2 157.5 L365.1 158.3 L366.0 157.6 L366.8 158.1 L367.7 160.3 L368.5 162.1 L369.4 162.3 L370.2 160.7 L371.0 160.9 L371.8 159.0 L372.6 160.3 L373.1 162.0 L373.4 161.6 L374.2 161.1 L375.0 161.9 L375.8 163.2 L376.6 165.0 L377.3 165.8 L378.1 164.3 L378.7 165.0 L379.4 167.0 L379.9 166.9 L380.3 166.8 L380.4 167.5 L380.8 168.2 L381.2 167.6 L381.6 169.1 L381.9 168.1 L382.3 168.6 L382.6 171.4 L382.9 173.2 L383.2 173.6 L383.5 175.1 L383.8 176.8 L384.1 179.3 L384.3 181.3 L384.6 179.5 L384.8 178.8" fill="none" stroke="#0a7d14" stroke-width="4.3" stroke-linejoin="round" stroke-linecap="butt"/>
<path d="M161.0 149.5 L161.4 150.4 L161.7 149.2 L162.1 145.8 L162.6 144.4 L163.0 143.9 L163.5 144.3 L164.0 143.6 L164.6 142.6 L165.1 140.3 L165.1 143.1 L165.7 142.2 L166.4 141.6 L167.1 140.2 L167.9 139.4 L168.7 140.2 L169.6 140.2 L170.4 138.5 L171.3 138.1 L172.1 138.2 L172.9 135.7 L173.2 134.8 L173.8 136.5 L174.6 134.9 L175.4 132.8 L176.3 133.6 L177.1 134.0 L178.0 132.7 L178.8 132.3 L179.7 134.5 L180.6 135.7 L181.4 134.0 L182.3 133.0 L183.2 134.3 L183.7 134.8 L184.1 133.8 L184.9 134.6 L185.8 134.9 L186.7 132.9 L187.6 131.8 L188.5 133.0 L189.4 133.7 L190.3 133.6 L191.2 130.7 L192.1 130.3 L193.0 129.8 L193.9 129.2 L194.8 131.6 L195.7 132.4 L196.5 131.8 L196.6 134.0 L197.5 134.1 L198.3 133.5 L199.2 133.4 L200.1 133.1 L201.0 131.1 L201.9 132.9 L202.8 132.8 L203.7 130.5 L204.6 132.2 L205.5 133.0 L206.4 133.7 L207.3 132.7 L208.2 133.0 L209.1 133.2 L210.0 132.3 L210.4 133.5 L210.9 133.5 L211.8 133.5 L212.7 133.1 L213.6 134.7 L214.5 134.4 L215.4 133.4 L216.3 134.4 L217.2 135.9 L218.1 135.3 L219.0 131.9 L219.9 133.6 L220.8 133.9 L221.7 132.4 L222.6 131.9 L223.5 133.5 L224.4 131.8 L224.4 133.6 L225.3 134.2 L226.2 131.0 L227.1 131.0 L228.0 130.9 L228.9 133.3 L229.8 136.2 L230.7 135.7 L231.6 131.1 L232.5 131.7 L233.4 134.6 L233.7 135.9 L234.3 134.2 L235.2 132.5 L236.1 133.5 L237.0 133.6 L237.9 133.1 L238.8 133.0 L239.6 134.5 L240.5 134.9 L241.4 134.4 L242.3 133.7 L243.0 132.7 L243.2 134.2 L244.1 136.5 L244.9 134.9 L245.8 133.9 L246.7 137.1 L247.6 138.2 L248.5 139.2 L249.4 137.0 L250.3 134.9 L251.1 134.8 L252.0 139.1 L252.9 140.3 L253.8 136.7 L254.6 136.1 L254.7 137.4 L255.5 136.4 L256.4 136.7 L257.3 137.3 L258.2 138.7 L259.0 140.0 L259.9 139.6 L260.8 139.9 L261.6 139.0 L262.5 138.5 L263.4 136.0 L264.3 136.9 L265.1 140.0 L266.0 139.9 L266.2 140.9 L266.9 141.9 L267.8 142.9 L268.7 142.8 L269.6 142.5 L270.5 140.8 L271.3 139.5 L272.2 139.4 L273.1 139.6 L274.0 139.2 L274.9 140.1 L275.8 141.3 L276.7 141.8 L277.6 140.5 L277.8 138.9 L278.5 141.0 L279.4 142.8 L280.3 144.1 L281.2 143.3 L282.1 141.3 L283.0 142.0 L283.9 145.4 L284.8 145.5 L285.7 146.2 L286.6 146.3 L287.5 143.0 L288.3 143.4 L289.2 144.3 L289.4 144.5 L290.1 144.5 L291.0 144.2 L291.9 143.3 L292.7 141.8 L293.6 142.8 L294.5 143.3 L295.3 144.3 L296.2 144.6 L297.1 146.2 L297.9 147.1 L298.8 146.7 L299.7 146.6 L300.5 146.3 L301.4 145.8 L302.3 146.0 L303.2 146.3 L303.3 147.2 L304.0 147.5 L304.9 147.4 L305.8 146.2 L306.7 147.8 L307.6 146.7 L308.5 146.4 L309.3 147.2 L310.2 147.5 L311.1 148.2 L312.0 147.3 L312.9 146.5 L313.8 147.7 L314.7 150.5 L315.6 149.2 L316.5 147.6 L317.3 148.1 L318.2 148.2 L319.1 150.8 L320.0 148.7 L320.9 150.2 L321.8 150.4 L322.7 148.5 L323.6 150.6 L324.5 152.3 L325.4 151.9 L326.3 151.8 L327.1 152.5 L328.0 151.9 L328.9 151.7 L329.8 151.7 L330.7 151.9 L331.6 151.0 L332.4 152.3 L332.5 151.0 L333.4 150.4 L334.2 153.0 L335.1 155.4 L336.0 154.4 L336.9 152.7 L337.8 153.3 L338.7 152.6 L339.6 152.8 L340.5 152.2 L341.4 150.2 L342.3 152.3 L343.1 152.0 L344.0 151.7 L344.9 150.9 L345.8 150.9 L346.7 152.7 L347.6 156.1 L348.5 157.5 L349.4 156.2 L350.3 156.5 L351.1 154.5 L352.0 152.6 L352.9 155.1 L353.8 156.3 L354.7 155.7 L355.5 156.7 L356.4 156.9 L357.3 154.9 L358.2 154.1 L359.0 155.9 L359.9 156.7 L360.8 157.3 L361.4 159.7 L361.6 160.5 L362.5 158.5 L363.4 159.5 L364.2 160.5 L365.1 160.7 L366.0 160.7 L366.8 159.6 L367.7 161.5 L368.5 163.5 L369.4 162.1 L370.2 160.4 L371.0 162.2 L371.8 163.7 L372.6 162.6 L373.1 162.1 L373.4 163.5 L374.2 161.8 L375.0 163.2 L375.8 163.3 L376.6 163.0 L377.3 166.1 L378.1 165.9 L378.7 164.7 L379.4 166.7 L379.9 166.0 L380.3 164.5 L380.4 166.1 L380.8 168.9 L381.2 170.4 L381.6 170.6 L381.9 171.2 L382.3 172.2 L382.6 172.9 L382.9 175.0 L383.2 175.1 L383.5 175.8 L383.8 176.3 L384.1 175.2 L384.3 176.9 L384.6 180.7 L384.8 180.6 L385.0 180.5 L385.3 181.4 L385.5 182.3 L385.7 183.2 L385.9 184.0 L386.1 184.9 L386.1 185.1 L386.3 186.0 L386.4 186.7 L386.6 187.4 L386.8 188.4 L387.0 189.3 L387.1 190.2 L387.3 191.0 L387.4 192.2 L387.6 193.2 L387.7 193.8 L387.8 194.7 L388.0 195.6 L388.1 196.4 L388.2 197.1 L388.4 198.0 L388.5 199.2 L388.6 200.1 L388.7 201.1 L388.9 201.8 L389.0 202.9 L389.1 204.0 L389.2 204.5 L389.3 205.3 L389.4 206.3 L389.6 207.3 L389.7 208.2 L389.8 209.0 L389.9 209.8 L390.0 210.9 L390.1 212.0 L390.3 212.8 L390.4 213.2 L390.5 214.1 L390.5 214.3 L390.6 215.3 L390.7 216.3 L390.9 217.4 L391.0 218.2 L391.1 219.0 L391.2 219.8 L391.3 220.7 L391.5 221.6 L391.6 222.6 L391.7 223.4 L391.8 224.2 L391.9 225.3 L392.0 226.1 L392.1 226.9 L392.2 227.7 L392.4 228.5 L392.5 229.3 L392.6 230.1 L392.7 231.4 L392.8 232.4 L392.9 233.2 L393.0 234.2 L393.1 235.1 L393.2 235.8 L393.4 236.4 L393.5 237.5 L393.6 238.7 L393.7 239.7 L393.8 240.6 L393.9 241.4 L394.0 241.9 L394.1 242.7 L394.2 243.9 L394.3 244.9 L394.4 245.8 L394.5 246.6 L394.6 247.4 L394.7 248.2 L394.8 249.1 L394.9 249.2 L395.0 250.2 L395.1 251.1 L395.2 252.0 L395.3 252.9 L395.4 253.8 L395.5 254.7 L395.6 255.6 L395.7 256.3 L395.8 257.3 L395.9 258.4 L396.0 259.2 L396.1 260.1 L396.2 261.0 L396.3 261.7 L396.4 262.6 L396.5 263.6 L396.6 264.5 L396.7 265.4 L396.8 266.1 L396.9 267.0 L397.0 268.1 L397.1 269.1 L397.2 269.6 L397.3 270.7 L397.4 271.6 L397.5 272.5 L397.6 273.4 L397.7 274.4 L397.8 275.5 L397.9 276.2 L398.0 277.1 L398.1 277.9 L398.2 278.7 L398.3 279.7 L398.4 280.5 L398.5 281.4 L398.6 282.3 L398.8 283.3 L398.9 284.2 L399.0 285.1 L399.1 285.9 L399.2 287.1 L399.2 287.2 L399.3 288.0 L399.4 288.8 L399.6 289.7 L399.7 290.7 L399.8 291.8 L400.0 293.0 L400.1 294.0 L400.3 295.0 L400.4 296.2 L400.6 297.4 L400.8 298.6 L400.9 299.7 L401.1 300.9 L401.2 302.2 L401.4 303.4 L401.6 304.4 L401.7 305.9 L401.9 307.2 L402.0 308.0 L402.2 309.2 L402.3 310.1 L402.5 311.0 L402.6 312.0 L402.7 312.9 L402.9 314.0 L403.0 314.8 L403.1 315.3 L403.2 316.0 L403.3 316.5 L403.3 317.2 L403.4 317.8 L403.5 317.9 L403.5 318.3 L403.5 318.7 L403.6 319.0 L403.6 319.1 L403.6 318.8 L403.5 318.6 L403.5 318.3 L403.5 317.7 L403.4 317.0 L403.3 316.3 L403.3 315.3 L403.2 313.9 L403.1 312.6 L403.0 311.3 L402.9 309.7 L402.8 308.5 L402.7 307.2 L402.6 306.3 L402.5 305.0 L402.4 303.7 L402.3 302.5 L402.2 301.4 L402.2 301.0 L402.1 300.6 L402.1 300.1 L402.1 300.1 L402.1 300.1 L402.1 299.9 L402.1 300.3 L402.1 300.5 L402.2 300.6 L402.2 300.8 L402.3 301.1 L402.3 301.3 L402.4 301.8 L402.5 302.4 L402.5 302.8 L402.6 303.5 L402.7 303.9 L402.8 304.3 L402.9 305.2 L403.0 305.9 L403.1 306.7 L403.3 307.5 L403.4 308.5 L403.5 309.2 L403.7 310.2 L403.8 311.0 L403.9 312.0 L404.1 313.2 L404.3 314.1 L404.4 314.9 L404.6 315.9 L404.7 317.3 L404.9 318.4 L405.1 319.3 L405.3 320.4 L405.5 321.4 L405.6 322.5 L405.8 323.7 L406.0 325.0 L406.2 326.2 L406.4 327.3 L406.6 328.7 L406.8 329.9 L407.0 331.0 L407.2 332.2 L407.4 333.3 L407.6 334.5 L407.8 335.7 L408.0 336.9 L408.2 338.0 L408.4 339.1 L408.6 340.4 L408.8 341.3 L409.0 342.4 L409.2 343.4 L409.4 344.8 L409.6 346.0 L409.8 347.0 L409.9 347.9 L410.1 348.6 L410.3 349.6 L410.5 350.6 L410.7 351.5 L410.8 352.4 L410.9 352.6 L411.0 353.4 L411.2 354.3 L411.4 355.0 L411.6 355.8 L411.8 356.8 L412.0 357.9 L412.2 358.8 L412.4 359.7 L412.6 360.6 L412.8 361.2 L413.0 362.1 L413.2 363.0 L413.4 363.8 L413.6 364.7 L413.8 365.9 L414.0 366.8 L414.3 367.7 L414.5 368.4 L414.7 369.2 L414.9 370.2 L415.1 371.0 L415.4 371.9 L415.6 372.9 L415.8 373.6 L416.0 374.4 L416.3 375.3 L416.5 376.3 L416.7 377.2 L417.0 378.0 L417.2 378.8 L417.4 379.4 L417.7 380.4 L417.9 381.4 L418.2 382.1 L418.4 382.9 L418.6 383.8 L418.9 384.7 L419.1 385.6 L419.4 386.5 L419.5 387.2 L419.6 387.7 L419.9 388.5 L420.1 389.4 L420.4 390.1 L420.6 390.8 L420.9 391.7 L421.2 392.5 L421.4 393.5 L421.7 394.3 L422.0 395.4 L422.2 396.1 L422.5 396.7 L422.8 397.9 L423.1 398.9 L423.3 399.5 L423.6 400.4 L423.9 401.0 L424.2 402.0 L424.5 402.8 L424.8 403.7 L425.1 404.3 L425.4 405.2 L425.6 406.4 L425.9 407.5 L426.2 408.1 L426.5 409.0 L426.8 409.8 L427.1 410.6 L427.4 411.6 L427.7 412.5 L428.0 413.1 L428.3 414.1 L428.6 414.9 L428.9 415.6 L429.2 416.8 L429.5 417.7 L429.8 418.3 L430.1 419.3 L430.4 420.0 L430.7 420.9 L431.0 421.9 L431.2 422.1 L431.3 422.7 L431.6 423.8 L431.9 424.8 L432.2 425.8 L432.4 426.5 L432.7 427.7 L433.0 429.0 L433.3 429.9 L433.6 430.9 L433.9 431.7 L434.3 432.4 L434.6 433.0 L435.0 433.6 L435.4 433.6 L435.5 433.6 L436.0 433.4 L436.7 432.7 L437.5 431.5 L438.2 430.8 L438.4 430.7 L438.5 430.8 L438.6 431.0 L438.8 431.2 L438.9 431.8 L439.0 432.5 L439.0 433.4 L439.1 434.3 L439.2 435.2 L439.2 436.4 L439.3 437.8 L439.3 439.1 L439.4 440.0 L439.5 441.3 L439.5 442.4 L439.6 443.1 L439.7 444.1 L439.9 445.0 L439.9 445.3 L440.1 446.5 L440.3 447.2 L440.6 448.0 L440.9 448.6 L441.3 449.1 L441.7 450.0 L442.1 451.1 L442.6 451.9 L443.1 452.6 L443.6 453.5 L444.0 454.2 L444.5 455.2 L445.0 456.0 L445.5 456.5 L445.7 456.7 L446.0 457.4 L446.5 458.0 L446.9 458.9 L447.4 459.5 L447.9 460.4 L448.5 461.2 L449.0 461.8 L449.5 462.5 L450.1 463.3 L450.6 463.9 L451.2 464.7 L451.8 465.5 L452.3 466.3 L452.9 466.9 L453.5 467.8 L454.1 468.3 L454.7 468.9 L455.4 469.8 L456.0 470.5 L456.6 470.8 L457.3 471.3 L457.3 471.3 L458.0 471.8 L458.6 472.5 L459.3 473.2 L460.1 473.6 L460.8 474.1 L461.6 474.6 L462.3 475.0 L463.1 475.6 L463.9 476.1 L464.7 476.4 L465.5 476.9 L466.3 477.6 L467.1 477.8 L467.9 478.2 L468.7 478.8 L469.6 479.0 L470.4 479.2 L471.2 479.8 L471.8 480.0 L472.0 480.1 L472.8 480.6 L473.6 480.9 L474.4 481.2 L475.2 481.6 L476.0 482.1 L476.9 482.6 L477.7 482.8 L478.5 483.2 L479.4 483.7 L479.4 483.6 L480.2 484.0 L481.1 484.3 L481.9 484.2 L482.8 484.3 L483.7 484.8 L484.6 485.1 L485.4 485.3 L486.3 485.5 L487.2 485.8 L488.1 486.0 L489.0 486.0 L489.9 486.3 L490.7 486.4 L491.6 486.5 L492.5 486.8 L493.4 487.3 L494.3 487.3 L495.1 487.2 L496.0 487.5 L496.9 487.8 L497.8 488.0 L498.6 488.2 L499.5 488.4 L499.8 488.7 L500.3 488.8 L501.2 489.1 L502.0 489.4 L502.8 489.7 L503.7 490.2 L504.5 490.5 L505.3 490.7 L506.2 491.0 L507.0 491.5 L507.8 492.0 L508.7 492.4 L509.5 492.7 L510.3 493.0 L511.1 493.5 L511.9 493.8 L512.7 494.1 L513.5 494.8 L514.3 495.0 L514.3 495.1 L515.1 495.7 L515.9 496.0 L516.8 496.3 L517.6 496.6 L518.4 497.0 L519.2 497.7 L520.0 498.2 L520.8 498.6 L521.5 499.2 L522.2 499.5 L522.9 500.1 L523.0 500.4 L523.4 500.9 L523.9 501.6 L524.4 502.2 L524.9 502.9 L525.4 503.6 L525.9 504.3 L525.9 504.4 L526.4 505.1 L527.0 506.0 L527.6 506.5 L528.2 507.1 L528.8 508.2 L529.5 508.6 L530.1 509.1 L530.8 510.0 L531.4 510.7 L532.1 510.9 L532.8 511.4 L533.4 512.2 L534.1 513.1 L534.8 513.6 L535.4 514.1 L536.1 514.8 L536.7 515.6 L537.3 516.0 L537.5 516.1 L538.0 516.7 L538.6 517.7 L539.2 518.4 L539.8 518.9 L540.4 519.4 L541.0 520.0 L541.6 520.5 L542.2 521.3 L542.9 521.8 L543.5 522.4 L544.1 523.2 L544.7 524.0 L545.3 524.8 L545.9 525.5 L546.5 526.1 L547.1 526.7 L547.7 527.5 L548.3 528.2 L548.9 528.9 L549.5 529.2 L550.1 529.8 L550.7 530.7 L551.3 531.7 L551.9 532.3 L552.1 532.3 L552.5 532.9 L553.1 533.6 L553.7 534.2 L554.3 534.7 L554.9 535.4 L555.5 536.1 L556.1 536.7 L556.7 537.3 L557.3 538.2 L557.9 539.0 L558.5 539.7 L559.1 540.3 L559.7 541.0 L560.3 541.8 L560.9 542.4 L561.5 543.1 L562.1 543.8 L562.7 544.3 L563.3 544.9 L563.9 545.7 L564.6 546.4 L565.2 546.9 L565.8 547.5 L566.4 548.1 L566.6 548.2 L567.1 548.9 L567.7 549.5 L568.4 550.1 L569.0 551.0 L569.7 551.7 L570.3 552.6 L571.0 553.5 L571.7 554.2 L572.3 554.9 L573.0 555.3 L573.6 555.8 L574.2 556.2 L574.7 556.4 L574.8 556.3 L575.5 555.7 L576.2 554.7 L576.8 553.7 L577.4 553.0 L577.6 552.6 L577.7 552.7 L577.8 552.9 L578.0 553.5 L578.1 554.3 L578.2 555.5 L578.3 556.4 L578.3 557.6 L578.4 558.8 L578.5 560.0 L578.7 561.0 L578.8 561.5 L578.9 561.7 L579.1 562.3 L579.5 563.0 L579.9 563.7 L580.4 564.5 L580.9 565.1 L581.5 565.8 L582.2 566.6 L582.9 567.5 L583.6 568.1 L584.3 568.7 L585.1 569.4 L585.8 569.7 L586.6 570.1 L587.4 570.9 L588.1 571.6 L588.9 572.4 L589.6 573.0 L589.8 573.0 L590.2 573.6 L590.9 574.2 L591.6 574.6 L592.4 575.2 L593.1 575.9 L593.8 576.2 L594.5 576.6 L595.3 577.1 L596.0 577.6 L596.8 578.2 L597.6 578.8 L598.4 579.3 L599.1 579.7 L599.9 580.1 L600.7 580.7 L601.5 581.0 L602.3 581.4 L603.1 581.6 L603.9 582.0 L604.3 582.2 L604.7 582.3 L605.6 582.5 L606.4 582.7 L607.2 583.1 L608.1 583.6 L609.0 583.9 L609.8 583.9 L610.7 584.1 L611.6 584.5 L612.5 584.8 L613.4 585.0 L614.3 585.3 L615.1 585.7 L616.0 585.9 L616.9 585.9 L617.8 585.8 L618.7 586.0 L618.9 585.9 L619.6 585.9 L620.5 586.2 L621.4 586.2 L622.3 586.3 L623.2 586.5 L624.1 586.6 L625.0 586.6 L625.9 586.7 L626.8 586.6 L627.7 586.4 L628.6 586.5 L629.5 586.6 L630.4 586.5 L631.3 586.6 L632.2 586.7 L633.1 586.9 L633.4 586.9 L634.0 586.8 L634.9 586.7 L635.8 586.7 L636.7 586.6 L637.6 586.6 L638.5 586.6 L639.4 586.5 L640.3 586.3 L641.2 586.4 L642.1 586.2 L643.0 586.1 L643.9 585.8 L644.8 585.8 L645.7 585.6 L646.6 585.4 L647.5 585.4 L648.4 585.7 L649.3 585.4 L650.2 585.3 L650.8 585.3 L651.1 585.2 L652.0 585.0 L652.8 584.7 L653.7 584.6 L654.6 584.5 L655.5 584.4 L656.4 584.1 L657.3 583.6 L658.2 583.3 L659.0 583.2 L659.9 583.2 L660.7 582.9 L661.6 582.5 L662.4 581.9 L662.4 581.9 L663.2 581.7 L664.1 581.5 L664.9 581.1 L665.6 580.8 L666.4 580.3 L667.2 579.7 L668.0 579.2 L668.8 578.9 L669.5 578.4 L670.3 578.0 L671.1 577.7 L671.9 577.1 L672.7 576.5 L673.5 576.0 L674.1 575.8 L674.3 575.8 L675.1 575.5 L675.9 575.0 L676.7 574.6 L677.6 574.1 L678.4 573.5 L679.2 573.1 L680.1 573.3 L680.9 572.9 L681.8 572.3 L682.6 571.8 L683.5 571.7 L684.4 571.7 L685.2 571.2 L685.7 571.4 L686.1 571.6 L687.0 571.5 L687.9 571.4 L688.8 571.4 L689.7 571.5 L690.6 571.0 L691.5 570.9 L692.4 571.1 L693.3 571.2 L694.2 571.1 L695.1 571.1 L696.0 570.9 L696.9 570.8 L697.3 571.1 L697.8 571.3 L698.8 571.2 L699.7 570.9 L700.8 570.8 L701.8 570.9 L702.8 571.2 L703.9 571.5 L704.9 571.5 L705.9 571.5 L706.8 571.8 L707.8 572.1 L708.6 572.3 L709.5 572.5 L710.2 572.7 L710.9 573.1 L711.4 573.3 L711.8 573.5 L711.9 573.5 L712.3 574.3 L712.5 575.3 L712.8 576.2 L713.1 577.2 L713.3 577.3 L713.6 577.6 L714.2 577.7 L714.9 577.9 L715.6 578.1 L716.5 578.2 L717.4 578.2 L718.4 578.2 L719.4 578.6 L720.4 578.4 L721.4 578.6 L722.5 578.9 L723.5 579.0 L724.5 579.1 L725.5 579.4 L726.3 579.6 L726.4 579.6 L727.2 580.0 L728.1 580.0 L728.9 580.2 L729.0 580.2 L729.8 580.1 L730.7 580.3 L731.6 580.4 L732.4 580.1 L733.3 580.1 L734.2 580.2 L735.1 580.3 L736.0 580.4 L736.9 580.3 L737.8 580.1 L738.7 579.9 L739.6 579.9 L740.5 579.8 L741.4 579.6 L742.3 579.7 L743.2 579.7 L744.1 579.6 L745.0 579.6 L745.9 579.8 L746.8 579.7 L747.7 579.5 L748.7 579.3 L749.6 579.1 L750.5 579.1 L751.4 579.2 L752.3 579.1 L753.2 579.0 L754.1 579.1 L755.0 579.0 L755.9 578.7 L756.8 578.7 L757.7 578.7 L758.1 578.7 L758.6 578.6 L759.5 578.6 L760.4 578.7 L761.3 578.6 L762.2 578.4 L763.1 578.4 L764.0 578.4 L764.9 578.5 L765.8 578.4 L766.7 578.2 L767.6 578.1 L768.5 578.3 L769.4 578.2 L770.3 578.1 L771.2 578.0 L772.1 577.7 L773.0 577.8 L773.9 577.8 L774.8 577.9 L775.7 577.6 L776.6 577.3 L777.5 577.4 L778.4 577.6 L779.3 577.7 L780.2 577.7 L781.1 577.8 L782.0 577.7 L782.9 577.7 L783.8 577.5 L784.7 577.2 L785.6 577.4 L786.5 577.4 L787.1 577.3 L787.4 577.4 L788.3 577.4 L789.2 577.3 L790.1 577.3 L791.0 577.3 L791.9 577.4 L792.8 577.4 L793.7 577.4 L794.6 577.2 L795.5 577.3 L796.4 577.3 L797.3 577.4 L798.2 577.6 L799.1 577.7 L800.0 577.7 L800.9 577.8 L801.8 578.0 L802.7 577.8 L803.6 577.9 L804.5 577.8 L805.4 577.9 L806.3 578.0 L807.2 578.0 L808.1 578.2 L809.0 578.3 L809.9 578.2 L810.8 578.3 L811.7 578.3 L812.6 578.2 L813.5 578.4 L814.4 578.6 L815.3 578.8 L816.2 578.8 L816.2 578.9 L817.1 578.9 L818.0 579.2 L818.9 579.2 L819.8 579.2 L820.7 579.3 L821.6 579.4 L822.5 579.6 L823.4 579.7 L824.3 579.5 L825.2 579.3 L826.1 579.4 L827.0 579.7 L827.8 580.0 L828.7 580.1 L829.6 580.1 L830.5 580.2 L831.4 580.2 L832.3 580.4 L833.2 580.6 L834.1 580.5 L835.0 580.8 L835.9 580.8 L836.8 581.0 L837.7 581.1 L838.6 581.2 L839.5 581.2 L840.4 581.4 L841.3 581.6 L842.1 581.8 L843.0 582.2 L843.9 582.1 L844.8 582.1 L845.2 582.1 L845.7 582.0 L846.6 582.1 L847.5 582.4 L848.4 582.7 L849.3 582.6 L850.2 582.8 L851.1 582.9 L852.0 583.2 L852.8 583.4 L853.7 583.6 L854.6 583.7 L855.5 583.7 L856.4 584.0 L857.3 584.0 L858.2 584.2 L859.1 584.4 L860.0 584.4 L860.9 584.4 L861.7 584.7 L862.6 584.7 L863.5 584.8 L864.4 585.0 L865.3 585.4 L866.2 585.4 L867.1 585.4 L868.0 585.9 L868.9 586.3 L869.7 586.4 L870.6 586.3 L871.5 586.4 L872.4 586.7 L873.3 586.9 L874.2 586.9 L874.3 586.8 L875.1 587.1 L876.0 587.3 L876.8 587.2 L877.7 587.4 L878.6 587.7 L879.5 587.9 L880.4 588.1 L881.3 588.3 L882.1 588.5 L883.0 588.5 L883.9 588.5 L884.8 589.0 L885.7 589.4 L886.6 589.6 L887.5 589.5 L888.3 589.6 L889.2 590.0 L890.1 590.2 L891.0 590.3 L891.9 590.4 L892.7 590.4 L893.6 590.7 L894.5 590.8 L895.4 591.0 L896.3 591.2 L897.2 591.2 L898.0 591.3 L898.9 591.6 L899.8 592.0 L900.7 592.1 L901.6 592.3 L902.4 592.6 L903.3 592.9 L903.3 592.8 L904.2 592.8 L905.1 593.0 L906.0 593.2 L906.9 593.3 L907.7 593.4 L908.6 593.7 L909.5 594.0 L910.4 594.5 L911.3 594.5 L912.1 594.6 L913.0 594.8 L913.9 595.2 L914.8 595.2 L915.7 595.3 L916.5 595.5 L917.4 595.7 L918.3 596.0 L919.2 596.3 L920.0 596.2 L920.9 596.6 L921.8 597.0 L922.7 597.0 L923.6 597.1 L924.4 597.1 L925.3 597.2 L926.2 597.7 L927.1 598.1 L928.0 598.1 L928.8 598.1 L929.7 598.5 L930.6 598.8 L931.5 599.1 L932.4 599.2 L932.4 599.1 L933.2 599.2 L934.1 599.3 L935.0 599.7 L935.9 599.9 L936.8 600.2 L937.7 600.4 L938.5 600.4 L939.4 600.5 L940.3 600.5 L941.2 600.6 L942.1 601.0 L943.0 601.2 L943.8 601.3 L944.7 601.6 L945.6 601.8 L946.5 602.0 L947.4 601.9 L948.3 602.0 L949.1 602.5 L950.0 602.7 L950.9 602.8 L951.8 602.9 L952.7 603.1 L953.6 603.3 L954.5 603.3 L955.3 603.4 L956.2 603.8 L957.1 603.8 L958.0 604.1 L958.9 604.3 L959.8 604.5 L960.6 604.6 L961.4 605.0 L961.5 605.1 L962.4 605.3 L963.3 605.4 L964.2 605.2 L965.1 605.3 L966.0 605.7 L966.9 606.2 L967.8 606.3 L968.7 606.2 L969.6 606.4 L970.5 606.5 L971.4 606.5 L972.3 606.7 L973.2 607.0 L974.1 607.4 L975.0 607.5 L975.8 607.8 L976.7 607.8 L977.6 607.9 L978.4 608.4 L979.3 608.5 L980.1 608.8 L981.0 609.2 L981.8 609.2 L981.8 609.1 L982.6 609.7 L983.5 609.9 L984.4 610.1 L985.3 610.5 L986.1 611.2 L987.0 611.8 L987.7 612.3 L988.3 613.0 L988.9 613.7 L989.0 613.9 L989.3 614.4 L989.6 615.1 L989.9 615.9 L990.2 617.3 L990.5 618.4 L990.7 619.3 L990.9 620.0 L991.2 620.4 L991.4 620.7 L991.4 620.8 L991.6 620.4 L991.8 619.7 L992.0 618.7 L992.1 617.7 L992.3 616.3 L992.5 615.0 L992.7 614.0 L992.9 613.0 L993.2 612.3 L993.4 612.1 L993.5 612.2 L993.8 612.2 L994.2 612.2 L994.7 612.1 L995.3 612.0 L995.9 612.1 L996.5 612.2 L997.2 612.4 L998.0 612.5 L998.8 612.3 L999.7 612.5 L1000.6 612.6 L1001.6 612.7 L1002.6 612.8 L1003.7 612.9 L1004.8 613.3 L1005.9 613.5 L1007.1 613.5 L1008.4 613.7 L1009.6 614.1 L1010.9 614.5 L1012.3 615.0" fill="none" stroke="#0a7d14" stroke-width="4.3" stroke-linejoin="round" stroke-linecap="butt"/>
<path d="M161.0 152.9 L161.2 154.2 L161.5 152.4 L161.8 151.4 L162.1 150.7 L162.4 152.8 L162.8 149.0 L163.2 148.0 L163.6 148.5 L164.1 150.6 L164.5 147.4 L165.0 143.7 L165.1 143.6 L165.5 142.6 L166.0 142.0 L166.7 141.9 L167.3 140.8 L168.0 141.6 L168.7 139.0 L169.5 140.6 L170.2 142.2 L170.9 142.4 L171.0 143.6 L171.7 141.7 L172.5 140.8 L173.3 139.5 L174.1 139.9 L174.9 135.2 L175.7 136.4 L176.6 136.7 L177.4 137.6 L178.3 135.6 L179.2 136.1 L180.0 136.4 L180.9 134.7 L181.8 135.6 L182.6 136.2 L183.5 134.4 L183.7 133.7 L184.3 135.4 L185.2 137.1 L186.0 134.2 L186.9 133.5 L187.7 129.6 L188.5 130.0 L189.4 132.5 L190.2 133.4 L191.1 131.9 L191.9 130.9 L192.8 128.2 L193.7 128.9 L194.5 131.5 L195.4 131.2 L196.3 129.6 L196.5 128.9 L197.1 133.4 L198.0 133.9 L198.9 131.4 L199.8 130.8 L200.7 129.6 L201.6 131.7 L202.5 131.6 L203.4 129.6 L204.3 127.3 L205.2 128.1 L206.1 129.1 L207.0 132.2 L207.9 132.3 L208.8 134.7 L209.7 133.3 L210.4 131.8 L210.6 134.6 L211.5 135.1 L212.4 132.0 L213.3 129.2 L214.2 132.5 L215.1 134.0 L216.0 132.8 L216.9 129.9 L217.8 128.1 L218.7 127.4 L219.6 127.4 L220.5 129.7 L221.4 133.6 L222.3 134.3 L223.2 131.4 L224.1 130.8 L224.4 132.8 L225.0 133.1 L225.9 133.1 L226.8 131.5 L227.7 131.3 L228.6 132.9 L229.5 131.2 L230.4 131.9 L231.3 130.7 L232.2 131.3 L233.1 131.2 L233.7 131.1 L234.0 131.5 L234.9 133.9 L235.8 132.4 L236.6 131.2 L237.5 132.5 L238.4 134.9 L239.3 132.4 L240.1 130.5 L241.0 130.7 L241.9 132.8 L242.8 132.7 L243.0 133.0 L243.7 135.3 L244.5 137.8 L245.4 136.7 L246.3 136.1 L247.2 134.6 L248.1 136.3 L249.0 137.1 L249.8 136.7 L250.7 136.0 L251.6 134.6 L252.5 137.0 L253.4 135.6 L254.3 134.4 L254.6 135.9 L255.2 136.6 L256.0 136.4 L256.9 137.5 L257.8 137.8 L258.7 136.2 L259.6 135.5 L260.4 136.1 L261.3 136.4 L262.2 137.4 L263.1 141.0 L264.0 141.6 L264.9 137.0 L265.8 137.6 L266.2 136.6 L266.6 136.4 L267.5 138.4 L268.4 138.6 L269.3 137.1 L270.2 138.9 L271.1 139.0 L272.0 137.8 L272.9 139.7 L273.8 139.4 L274.7 137.9 L275.6 138.1 L276.4 139.7 L277.3 140.7 L277.8 143.3 L278.2 141.0 L279.1 139.9 L280.0 141.5 L280.9 139.9 L281.8 139.7 L282.7 140.0 L283.6 140.7 L284.5 141.8 L285.4 144.4 L286.3 142.0 L287.2 141.7 L288.1 143.7 L289.0 144.8 L289.4 141.1 L289.9 140.3 L290.8 142.5 L291.7 140.8 L292.6 139.9 L293.4 140.7 L294.3 142.6 L295.2 141.0 L296.1 138.2 L297.0 142.1 L297.9 144.2 L298.7 143.1 L299.6 141.9 L300.5 142.2 L301.4 140.5 L302.3 145.0 L303.1 143.7 L304.0 142.9 L304.9 145.7 L305.8 147.6 L306.7 144.6 L307.6 144.3 L308.4 143.6 L309.2 144.4 L309.3 147.5 L310.2 149.2 L311.1 146.4 L312.0 145.0 L312.9 145.5 L313.8 145.7 L314.7 145.0 L315.6 144.3 L316.4 143.3 L317.3 144.1 L318.2 146.6 L319.1 149.7 L320.0 147.3 L320.9 148.8 L321.8 147.0 L322.7 146.5 L323.6 148.5 L324.5 149.3 L325.4 146.6 L326.3 146.0 L327.1 147.7 L328.0 148.3 L328.9 147.9 L329.8 148.1 L330.7 147.7 L331.6 147.4 L332.5 150.3 L333.4 153.1 L334.3 152.1 L335.2 149.9 L336.0 150.2 L336.9 149.7 L337.8 148.6 L338.2 148.5 L338.7 150.0 L339.6 153.1 L340.5 152.1 L341.4 149.5 L342.2 150.0 L343.1 150.6 L344.0 149.8 L344.9 150.3 L345.8 149.7 L346.7 152.2 L347.6 153.4 L348.4 152.1 L349.3 152.7 L350.2 153.2 L351.1 153.7 L352.0 153.7 L352.9 151.3 L353.7 152.6 L354.6 152.9 L355.5 150.8 L356.4 153.8 L357.3 154.8 L358.1 156.2 L359.0 155.8 L359.9 156.5 L360.7 156.7 L361.4 156.1 L361.6 156.6 L362.5 154.8 L363.3 152.4 L364.2 154.3 L365.1 156.6 L365.9 158.3 L366.8 157.3 L367.6 157.9" fill="none" stroke="#ff8000" stroke-width="4.3" stroke-linejoin="round" stroke-linecap="butt"/>
<path d="M161.0 155.2 L161.2 155.9 L161.5 155.0 L161.8 154.4 L162.1 153.5 L162.4 148.6 L162.8 146.8 L163.2 145.8 L163.6 147.3 L164.1 148.6 L164.5 147.0 L165.0 145.2 L165.1 142.4 L165.5 143.4 L166.0 143.7 L166.7 146.5 L167.3 145.9 L168.0 144.3 L168.7 142.4 L169.5 142.4 L170.2 141.8 L170.9 139.6 L171.0 138.9 L171.7 138.8 L172.5 137.8 L173.3 137.3 L174.1 137.2 L174.9 137.1 L175.7 137.7 L176.6 135.6 L177.4 137.2 L178.3 135.9 L179.2 134.4 L180.0 133.5 L180.9 134.7 L181.8 135.2 L182.6 135.1 L183.5 134.2 L183.7 135.8 L184.3 138.0 L185.2 135.7 L186.0 133.7 L186.9 134.7 L187.7 133.8 L188.5 134.0 L189.4 133.5 L190.2 130.6 L191.1 127.9 L191.9 129.9 L192.8 131.6 L193.7 130.7 L194.5 131.7 L195.4 132.1 L196.3 130.8 L196.5 133.2 L197.1 134.5 L198.0 133.9 L198.9 133.8 L199.8 134.5 L200.7 135.0 L201.6 132.5 L202.5 131.5 L203.4 131.7 L204.3 129.2 L205.2 127.8 L206.1 129.4 L207.0 132.1 L207.9 132.0 L208.8 128.5 L209.7 127.8 L210.4 130.2 L210.6 131.4 L211.5 132.1 L212.4 133.7 L213.3 134.5 L214.2 133.3 L215.1 132.4 L216.0 129.6 L216.9 129.2 L217.8 131.8 L218.7 133.3 L219.6 133.5 L220.5 133.4 L221.4 133.6 L222.3 132.2 L223.2 128.4 L224.1 129.4 L224.4 132.1 L225.0 131.8 L225.9 129.8 L226.8 132.3 L227.7 131.2 L228.6 130.9 L229.5 132.2 L230.4 132.1 L231.3 130.0 L232.2 132.5 L233.1 131.8 L233.7 130.2 L234.0 129.5 L234.9 127.5 L235.8 129.6 L236.6 131.6 L237.5 130.9 L238.4 131.4 L239.3 132.3 L240.1 133.6 L241.0 135.0 L241.9 133.8 L242.8 133.5 L243.0 135.7 L243.7 137.5 L244.5 134.9 L245.4 134.0 L246.3 132.8 L247.2 136.3 L248.1 137.4 L249.0 137.5 L249.8 135.2 L250.7 134.0 L251.6 136.8 L252.5 136.9 L253.4 133.9 L254.3 133.2 L254.6 135.9 L255.2 137.6 L256.0 140.3 L256.9 136.6 L257.8 135.4 L258.7 135.4 L259.6 133.6 L260.4 135.7 L261.3 139.6 L262.2 138.0 L263.1 135.9 L264.0 135.8 L264.9 138.8 L265.8 139.9 L266.2 138.9 L266.6 138.1 L267.5 139.1 L268.4 139.2 L269.3 138.3 L270.2 138.5 L271.1 135.2 L272.0 135.7 L272.9 138.1 L273.8 138.5 L274.7 137.8 L275.6 140.3 L276.4 142.2 L277.3 141.5 L277.8 141.2 L278.2 141.9 L279.1 140.7 L280.0 138.5 L280.9 140.2 L281.8 141.9 L282.7 139.4 L283.6 139.9 L284.5 139.6 L285.4 138.5 L286.3 138.7 L287.2 140.8 L288.1 141.9 L289.0 141.1 L289.4 138.8 L289.9 140.2 L290.8 142.4 L291.7 143.8 L292.6 143.9 L293.4 144.3 L294.3 144.9 L295.2 143.8 L296.1 141.5 L297.0 141.8 L297.9 140.2 L298.7 138.8 L299.6 140.1 L300.5 145.3 L301.4 141.5 L302.3 139.6 L303.1 142.5 L304.0 146.4 L304.9 145.3 L305.8 145.0 L306.7 144.4 L307.6 145.3 L308.4 147.6 L309.2 147.2 L309.3 146.0 L310.2 147.4 L311.1 147.7 L312.0 146.0 L312.9 146.3 L313.8 146.1 L314.7 145.7 L315.6 147.7 L316.4 146.4 L317.3 144.4 L318.2 142.7 L319.1 144.5 L320.0 148.1 L320.9 146.2 L321.8 147.1 L322.7 147.2 L323.6 148.5 L324.5 148.5 L325.4 146.6 L326.3 147.0 L327.1 148.1 L328.0 148.4 L328.9 148.1 L329.8 148.2 L330.7 150.2 L331.6 151.6 L332.5 150.1 L333.4 148.2 L334.3 149.4 L335.2 149.9 L336.0 151.3 L336.9 152.9 L337.8 150.4 L338.2 149.2 L338.7 148.2 L339.6 148.7 L340.5 150.0 L341.4 153.0 L342.2 151.7 L343.1 151.0 L344.0 153.1 L344.9 150.4 L345.8 152.5 L346.7 154.0 L347.6 153.0 L348.4 151.6 L349.3 151.4 L350.2 151.9 L351.1 152.1 L352.0 148.7 L352.9 150.6 L353.7 152.5 L354.6 151.1 L355.5 149.7 L356.4 151.6 L357.3 152.7 L358.1 155.6 L359.0 157.0 L359.9 154.1 L360.7 151.2 L361.4 152.8 L361.6 153.5 L362.5 156.7 L363.3 158.8 L364.2 158.4 L365.1 160.2 L365.9 160.6 L366.8 158.4 L367.6 156.2 L368.5 157.2 L369.3 157.3 L370.2 158.6 L371.0 159.0 L371.9 159.5 L372.7 158.7 L373.1 157.6 L373.6 158.8 L374.5 159.6 L375.3 159.3 L376.2 157.5 L377.1 156.9 L377.9 156.9 L378.8 156.0 L379.7 155.4 L380.6 156.0 L381.4 157.6 L381.8 156.3 L382.3 155.5 L383.3 155.8 L384.3 156.5 L385.2 157.4 L386.2 157.5 L387.2 157.2 L388.1 156.8 L389.0 156.6 L389.8 156.1 L390.5 156.2 L390.5 157.8 L391.1 157.5 L391.7 158.0 L392.3 158.1 L392.8 158.9 L393.3 159.8 L393.8 160.6 L394.2 161.7 L394.6 162.8 L394.8 163.6 L394.9 163.7 L395.1 164.5 L395.4 165.3 L395.6 165.9 L395.9 166.6 L396.1 167.6 L396.3 168.8 L396.5 169.6 L396.7 170.4 L396.9 171.2 L397.1 172.1 L397.2 173.3 L397.4 174.1 L397.5 175.0 L397.7 175.8 L397.8 176.5 L398.0 177.2 L398.1 178.3 L398.3 179.0 L398.4 179.9 L398.5 181.3 L398.7 182.3 L398.8 183.1 L399.0 183.9 L399.1 184.8 L399.2 185.3 L399.3 185.7 L399.4 186.6 L399.6 187.4 L399.7 188.1 L399.9 189.2 L400.0 190.1 L400.1 191.1 L400.3 192.0 L400.4 192.7 L400.6 193.8 L400.7 194.7 L400.8 195.3 L401.0 196.2 L401.1 197.1 L401.2 197.8 L401.3 198.8 L401.5 199.9 L401.6 200.6 L401.7 201.4 L401.9 202.5 L402.0 203.7 L402.1 204.6 L402.2 205.2 L402.4 206.0 L402.5 207.0 L402.6 207.9 L402.8 208.7 L402.9 209.6 L403.0 210.7 L403.1 211.5 L403.3 212.1 L403.4 213.3 L403.5 214.3 L403.6 214.5 L403.7 215.1 L403.8 216.1 L403.9 216.9 L404.1 217.5 L404.2 218.7 L404.3 219.5 L404.5 220.1 L404.6 221.0 L404.7 222.1 L404.9 223.0 L405.0 224.1 L405.1 224.9 L405.2 225.8 L405.4 226.8 L405.5 227.6 L405.6 228.6 L405.8 229.5 L405.9 230.3 L406.0 231.3 L406.2 232.1 L406.3 232.7 L406.4 233.7 L406.6 234.6 L406.7 235.4 L406.8 236.2 L407.0 237.2 L407.1 238.3 L407.2 239.2 L407.4 240.2 L407.5 240.9 L407.7 241.7 L407.8 242.6 L407.9 243.2 L408.0 243.4 L408.1 244.2 L408.3 245.3 L408.4 246.4 L408.6 247.3 L408.8 247.9 L408.9 248.9 L409.1 250.0 L409.3 250.7 L409.5 251.6 L409.6 252.5 L409.8 253.5 L410.0 254.5 L410.1 255.4 L410.3 256.2 L410.4 256.9 L410.5 257.6 L410.6 258.5 L410.7 259.4 L410.8 259.9 L410.8 260.3 L410.9 261.4 L411.0 262.2 L411.0 263.1 L411.1 263.9 L411.2 265.0 L411.2 266.0 L411.3 266.7 L411.3 267.7 L411.3 268.6 L411.4 269.5 L411.4 270.4 L411.5 271.2 L411.5 272.1 L411.6 272.9 L411.6 273.8 L411.7 274.7 L411.8 275.8 L411.9 276.6 L412.0 277.5 L412.0 277.6 L412.1 278.3 L412.2 279.3 L412.4 280.1 L412.6 281.2 L412.8 282.1 L413.0 282.7 L413.2 283.5 L413.4 284.5 L413.7 285.7 L414.0 286.3 L414.2 287.0 L414.5 288.1 L414.8 288.9 L415.1 289.7 L415.4 290.4 L415.7 291.1 L416.0 292.1 L416.0 292.3 L416.2 292.9 L416.5 293.8 L416.8 294.7 L417.1 295.8 L417.5 296.7 L417.8 297.5 L418.1 298.1 L418.5 298.9 L418.8 299.9 L419.2 300.9 L419.5 301.7 L419.9 302.4 L420.3 303.2 L420.7 304.0 L421.0 304.7 L421.4 305.5 L421.8 306.5 L421.8 306.3 L422.2 307.2 L422.7 308.2 L423.1 308.9 L423.5 309.6 L424.0 310.3 L424.5 311.1 L424.9 311.9 L425.4 312.8 L425.9 313.6 L426.4 314.3 L426.9 315.3 L427.3 315.9 L427.8 316.5 L428.3 317.2 L428.8 318.0 L428.8 318.1 L429.2 319.1 L429.7 319.8 L430.1 320.5 L430.5 321.3 L431.0 322.2 L431.4 323.2 L431.8 324.3 L432.3 325.0 L432.8 325.6 L433.3 326.2 L433.9 326.6 L434.5 327.3 L434.6 327.5 L435.2 327.8 L436.3 327.9 L437.3 328.1 L438.0 328.4 L438.1 328.5 L438.3 329.1 L438.5 329.7 L438.6 330.6 L438.7 331.5 L438.8 332.5 L438.9 333.7 L439.0 334.7 L439.2 335.7 L439.3 335.6 L439.5 336.2 L439.9 336.9 L440.5 337.6 L441.1 338.4 L441.8 339.2 L442.6 339.8 L443.3 340.4 L444.1 340.8 L444.9 341.1 L445.1 341.1 L445.6 341.8 L446.4 342.3 L447.3 342.5 L448.1 343.0 L449.0 343.2 L449.9 343.4 L450.8 343.6 L451.7 343.7 L452.6 343.9 L453.2 344.1 L453.5 343.9 L454.3 343.8 L455.2 343.8 L456.1 343.5 L457.0 343.2 L457.9 343.0 L458.7 342.7 L459.6 342.3 L460.5 342.0 L461.3 342.1 L461.3 341.9 L462.2 341.4 L463.0 341.0 L463.9 341.0 L464.7 340.9 L465.5 340.6 L466.3 340.2 L467.1 339.8 L467.9 339.2 L468.8 338.8 L469.6 338.5 L470.4 338.0 L471.2 337.5 L472.0 337.0 L472.8 336.8 L473.0 337.0 L473.7 336.5 L474.5 336.0 L475.3 335.4 L476.2 335.4 L477.0 335.1 L477.8 334.8 L478.7 334.3 L479.5 333.7 L480.3 333.3 L481.2 333.2 L482.0 332.9 L482.9 332.5 L483.7 332.2 L484.6 332.0 L484.6 332.1 L485.4 331.7 L486.3 331.4 L487.2 331.2 L488.0 331.0 L488.9 330.9 L489.8 330.5 L490.7 330.1 L491.5 330.0 L492.4 329.9 L493.3 329.8 L494.2 329.6 L495.1 329.4 L496.0 329.4 L496.2 329.4 L496.9 329.3 L497.8 329.4 L498.7 329.4 L499.6 329.2 L500.5 329.2 L501.4 329.4 L502.0 329.5 L502.3 329.5 L503.2 329.4 L504.1 329.7 L505.0 330.0 L505.9 330.3 L506.7 330.3 L507.6 330.4 L508.5 330.6 L509.3 331.2 L510.1 331.6 L510.2 331.4 L511.0 331.8 L511.8 332.3 L512.6 332.6 L513.4 332.9 L514.2 333.4 L515.0 333.8 L515.8 334.2 L516.6 334.8 L517.3 335.3 L518.1 335.7 L518.8 336.4 L519.4 336.9 L519.6 336.7 L520.4 337.4 L521.2 338.0 L522.1 338.4 L522.8 338.9 L523.4 339.5 L523.8 340.3 L523.8 340.1 L524.1 340.8 L524.3 341.6 L524.4 342.8 L524.7 343.6 L524.7 343.4 L525.0 344.2 L525.5 345.0 L526.1 345.5 L526.8 345.9 L527.6 346.5 L528.4 347.4 L529.2 348.2 L529.9 348.5 L530.7 349.2 L531.1 349.5 L531.3 349.7 L532.0 350.4 L532.6 350.9 L533.3 351.6 L534.0 352.6 L534.6 353.2 L535.3 353.7 L535.9 354.3 L536.5 354.7 L537.2 355.4 L537.8 356.2 L538.4 356.6 L539.0 357.2 L539.5 358.0 L540.0 358.6 L540.0 359.0 L540.6 359.7 L541.1 360.4 L541.6 361.1 L542.0 361.6 L542.5 362.4 L543.0 363.4 L543.4 364.2 L543.9 364.9 L544.3 365.6 L544.7 366.4 L545.1 367.3 L545.6 367.8 L546.0 368.6 L546.4 369.4 L546.8 370.1 L547.2 371.0 L547.6 371.9 L548.0 373.1 L548.4 374.0 L548.8 374.6 L549.2 375.1 L549.6 376.0 L550.1 376.9 L550.5 377.7 L550.9 378.5 L551.3 379.3 L551.8 379.9 L552.2 380.8 L552.6 381.7 L552.7 381.8 L553.1 382.6 L553.6 383.3 L554.0 384.0 L554.5 384.8 L554.9 385.6 L555.4 386.4 L555.8 387.1 L556.3 388.2 L556.8 389.0 L557.2 389.6 L557.7 390.4 L558.1 391.3 L558.6 392.0 L559.1 392.7 L559.5 393.4 L560.0 393.9 L560.5 394.7 L560.9 395.8 L561.4 396.6 L561.9 397.4 L562.4 398.1 L562.9 399.0 L563.4 399.8 L563.9 400.6 L564.4 401.0 L564.9 401.7 L565.4 402.5 L565.9 403.2 L566.4 403.8 L567.0 404.5 L567.1 404.8 L567.5 405.6 L568.1 406.2 L568.7 406.7 L569.3 407.4 L570.0 408.1 L570.7 408.8 L571.3 409.4 L572.0 410.1 L572.6 411.0 L573.2 411.6 L573.8 412.1 L574.4 412.7 L574.9 413.4 L575.4 414.1 L575.8 414.9 L575.9 415.0 L576.1 415.6 L576.4 416.4 L576.7 417.3 L576.9 418.4 L577.2 419.5 L577.4 420.0 L577.7 420.8 L578.0 421.9 L578.2 422.5 L578.3 422.9 L578.7 423.6 L579.1 424.3 L579.5 424.8 L580.0 425.5 L580.5 426.4 L581.0 427.3 L581.5 427.8 L582.0 428.4 L582.6 429.3 L583.1 430.1 L583.7 430.8 L584.3 431.7 L584.9 432.6 L585.5 433.1 L586.1 433.6 L586.6 434.3 L587.2 435.1 L587.5 435.3 L587.8 435.9 L588.4 436.4 L589.0 436.9 L589.6 437.8 L590.2 438.5 L590.8 439.3 L591.4 439.7 L592.0 440.5 L592.6 441.2 L593.3 441.9 L593.9 442.3 L594.6 443.0 L595.2 444.0 L595.9 444.4 L596.6 444.8 L597.3 445.4 L597.9 446.0 L598.6 446.5 L599.1 446.9 L599.3 447.2 L600.0 447.7 L600.7 448.3 L601.5 448.8 L602.2 449.1 L603.0 449.7 L603.7 450.4 L604.5 450.7 L605.2 451.4 L606.0 451.9 L606.8 452.4 L607.6 452.9 L608.4 453.3 L609.2 453.7 L610.0 454.0 L610.7 454.2 L610.8 454.2 L611.6 454.7 L612.5 455.0 L613.3 455.5 L614.1 455.9 L615.0 456.0 L615.9 456.4 L616.7 456.6 L617.6 457.0 L618.5 457.1 L619.4 457.5 L620.3 457.6 L621.1 457.7 L622.0 458.0 L622.3 457.9 L622.9 457.6 L623.8 457.7 L624.7 457.8 L625.6 458.0 L626.5 457.8 L627.4 457.7 L628.3 457.7 L629.2 457.7 L630.1 457.5 L631.0 457.4 L632.0 457.4 L632.9 457.4 L633.8 457.5 L634.7 457.4 L635.6 457.2 L636.4 457.1 L636.9 457.1 L637.3 457.0 L638.2 456.6 L639.0 456.5 L639.9 456.5 L640.0 456.3 L640.8 456.0 L641.7 455.9 L642.6 455.6 L643.5 455.5 L644.4 455.5 L645.3 455.3 L646.1 455.4 L647.0 455.1 L647.9 454.8 L648.8 454.5 L649.7 454.3 L650.5 453.9 L650.9 454.1 L651.4 454.1 L652.2 453.8 L653.1 453.4 L653.9 453.2 L654.7 452.8 L655.6 452.4 L656.4 452.0 L657.2 451.7 L658.0 451.2 L658.8 450.7 L659.6 450.3 L660.4 449.8 L661.2 449.2 L661.8 449.0 L662.0 448.8 L662.7 448.2 L663.5 447.8 L664.3 447.7 L665.0 447.2 L665.8 446.7 L666.5 446.1 L667.3 445.7 L668.0 445.0 L668.7 444.3 L669.4 443.9 L670.1 443.6 L670.8 443.0 L671.5 442.2 L672.2 441.4 L672.7 441.0 L672.8 441.0 L673.5 440.5 L674.1 439.7 L674.7 439.0 L675.3 438.5 L675.9 437.8 L676.5 437.0 L677.1 436.1 L677.7 435.6 L678.3 435.1 L678.9 434.4 L679.5 433.9 L679.9 433.2 L680.1 432.9 L680.7 432.3 L681.3 431.6 L682.0 430.8 L682.6 430.2 L683.2 429.6 L683.8 429.1 L684.5 428.3 L685.1 427.6 L685.8 426.8 L686.5 426.3 L686.5 426.4 L687.2 425.9 L688.0 425.4 L688.7 425.1 L689.5 424.6 L690.4 424.0 L690.8 423.9 L691.2 423.9 L692.0 423.4 L692.9 423.1 L693.4 423.2 L693.8 423.5 L694.7 423.6 L695.6 423.9 L696.3 424.1 L696.4 424.1 L697.2 424.3 L698.0 424.8 L698.8 425.4 L699.5 426.2 L700.2 426.7 L700.3 426.7 L700.9 427.0 L701.5 427.7 L702.1 428.6 L702.6 429.4 L703.2 430.1 L703.7 430.8 L704.2 431.4 L704.8 432.3 L705.3 433.0 L705.9 433.7 L706.5 434.3 L706.8 434.2 L707.1 434.5 L707.8 435.1 L708.6 435.9 L709.4 436.6 L710.1 437.1 L710.8 437.7 L711.4 438.1 L711.5 438.3 L711.8 438.8 L712.1 439.7 L712.3 440.5 L712.6 441.5 L712.8 442.5 L713.1 443.2 L713.3 443.8 L713.4 444.0 L713.8 444.7 L714.3 445.5 L714.7 446.5 L715.3 447.2 L715.8 447.7 L716.4 448.6 L716.9 449.4 L717.5 450.2 L718.1 450.9 L718.8 451.6 L719.4 452.1 L719.9 452.7 L720.0 452.8 L720.6 453.6 L721.2 454.3 L721.8 455.1 L722.5 455.6 L723.1 455.9 L723.8 456.3 L724.5 456.9 L725.2 457.7 L725.9 458.3 L726.6 458.6 L727.1 458.9 L727.4 459.3 L728.1 459.9 L728.9 460.5 L729.7 460.9 L730.5 461.1 L731.3 461.4 L732.1 461.7 L732.9 462.0 L733.8 462.5 L734.6 463.2 L735.4 463.6 L736.3 463.9 L737.1 464.0 L738.0 464.3 L738.8 464.5 L739.7 464.7 L740.0 465.0 L740.5 465.3 L741.4 465.6 L742.2 465.8 L743.1 466.0 L743.9 466.6 L744.8 466.8 L745.7 466.7 L746.5 467.1 L747.2 467.5 L747.4 467.6 L748.3 467.4 L749.2 467.6 L750.1 467.9 L750.9 467.8 L751.8 467.8 L752.7 467.8 L753.6 467.9 L754.5 467.9 L755.4 468.1 L756.3 468.0 L757.2 468.2 L758.1 468.4 L759.0 468.4 L759.9 468.3 L760.9 468.3 L761.8 468.4 L762.7 468.4 L763.6 468.6 L764.5 468.6 L765.4 468.8 L766.3 468.9 L767.2 468.7 L768.1 468.6 L769.0 468.6 L769.9 468.9 L770.5 468.9 L770.8 468.8 L771.7 468.8 L772.6 469.1 L773.5 469.4 L774.4 469.5 L775.3 469.4 L776.2 469.3 L777.1 469.4 L778.0 469.4 L778.9 469.4 L779.8 469.6 L780.7 469.9 L781.6 470.0 L782.4 470.1 L783.3 470.0 L784.2 470.1 L785.1 470.5 L786.0 470.6 L786.9 470.7 L787.8 470.7 L788.7 471.0 L789.6 471.0 L790.5 471.0 L791.4 471.2 L792.3 471.6 L793.2 471.7 L794.1 471.6 L795.0 471.6 L795.9 471.7 L796.8 472.2 L797.6 472.3 L798.5 472.2 L799.4 472.2 L799.5 472.0 L800.3 472.4 L801.2 472.7 L802.1 472.8 L803.0 472.9 L803.9 472.9 L804.8 472.9 L805.7 473.0 L806.6 473.3 L807.5 473.6 L808.4 473.6 L809.2 473.6 L810.1 473.8 L811.0 473.9 L811.9 474.4 L812.8 474.4 L813.7 474.3 L814.6 474.6 L815.5 474.9 L816.4 475.0 L817.3 475.2 L818.1 475.1 L819.0 475.4 L819.9 475.5 L820.8 475.7 L821.7 475.9 L822.6 475.6 L823.5 475.7 L824.4 475.9 L825.3 475.9 L826.2 476.0 L827.1 476.4 L828.0 476.7 L828.6 476.7 L828.8 476.9 L829.7 477.1 L830.6 477.1 L831.5 477.0 L832.4 477.2 L833.3 477.3 L834.2 477.4 L835.1 477.6 L836.0 477.7 L836.9 477.9 L837.8 477.9 L838.7 477.9 L839.6 477.8 L840.5 477.9 L841.4 478.1 L842.3 478.3 L843.2 478.5 L844.1 478.5 L845.0 478.7 L845.9 479.1 L846.7 479.1 L847.6 479.1 L848.5 479.1 L849.4 479.4 L850.3 479.6 L851.2 479.5 L852.1 479.6 L853.0 479.8 L853.9 479.7 L854.8 479.7 L855.7 479.8 L856.6 480.2 L857.4 480.4 L857.6 480.6 L858.3 480.7 L859.2 480.9 L860.1 481.0 L861.0 481.1 L861.9 481.2 L862.7 481.3 L863.6 481.4 L864.5 481.7 L865.4 482.0 L866.3 482.1 L867.1 482.4 L868.0 482.7 L868.9 482.5 L869.8 482.8 L870.7 483.1 L871.5 483.3 L872.4 483.4 L873.3 483.8 L874.2 484.3 L874.3 484.0 L875.1 484.2 L875.9 484.4 L876.8 484.5 L877.7 484.7 L878.6 485.0 L879.5 484.9 L880.3 485.1 L881.2 485.5 L882.1 485.7 L883.0 486.1 L883.9 486.2 L884.7 486.6 L885.6 486.7 L886.5 486.9 L887.4 487.0 L888.3 487.1 L889.2 487.3 L890.0 487.6 L890.9 487.6 L891.8 487.8 L892.7 487.8 L893.6 487.9 L894.4 488.4 L895.3 488.6 L896.2 488.6 L897.1 488.9 L898.0 489.0 L898.9 489.0 L899.7 489.3 L900.6 489.7 L901.5 490.0 L902.4 490.2 L903.3 490.5 L903.3 490.3 L904.2 490.2 L905.1 490.3 L905.9 490.7 L906.8 490.8 L907.7 490.8 L908.6 490.9 L909.5 491.1 L910.4 491.4 L911.3 491.7 L912.1 491.8 L913.0 492.0 L913.9 492.2 L914.8 492.1 L915.7 492.2 L916.6 492.4 L917.5 492.4 L918.4 492.8 L919.3 493.1 L920.1 493.1 L921.0 493.1 L921.9 493.3 L922.8 493.5 L923.7 493.5 L924.6 493.6 L925.5 493.9 L926.4 494.1 L927.3 494.2 L928.2 494.6 L929.0 494.9 L929.9 494.9 L930.8 494.8 L931.7 495.0 L932.4 495.3 L932.6 495.3 L933.5 495.4 L934.4 495.5 L935.3 495.6 L936.2 495.9 L937.0 495.9 L937.9 495.9 L938.8 496.0 L939.7 496.5 L940.6 496.6 L941.5 496.6 L942.4 496.6 L943.3 496.6 L944.2 496.7 L945.1 497.1 L945.9 497.2 L946.8 497.4 L947.7 497.7 L948.6 498.0 L949.5 498.0 L950.4 498.0 L951.3 498.2 L952.2 498.2 L953.1 498.3 L954.0 498.6 L954.9 498.9 L955.7 499.0 L956.6 499.0 L957.5 499.2 L958.4 499.2 L959.3 499.2 L960.2 499.7 L961.1 499.8 L961.4 499.6 L962.0 499.6 L962.9 500.0 L963.8 500.3 L964.7 500.4 L965.6 500.7 L966.5 500.7 L967.4 500.8 L968.3 500.8 L969.2 500.8 L970.1 500.9 L971.0 501.0 L971.9 501.0 L972.8 501.2 L973.8 501.6 L974.7 501.8 L975.6 501.9 L976.5 501.9 L977.4 502.0 L978.2 502.4 L979.1 502.5 L980.0 502.5 L980.9 502.7 L981.7 502.8 L982.6 503.0 L983.5 503.6 L984.3 503.8 L985.1 504.0 L985.9 504.3 L986.1 504.1 L986.8 504.5 L987.5 505.1 L988.3 505.6 L989.1 506.2 L989.8 506.5 L990.5 506.8 L990.6 506.9 L991.3 506.2 L992.0 505.4 L992.8 504.9 L993.4 504.9 L993.5 504.7 L994.3 504.6 L995.1 504.7 L996.0 504.8 L996.8 504.6 L997.6 504.7 L998.4 504.9 L999.3 504.9 L1000.1 504.9 L1001.0 505.0 L1001.9 505.0 L1002.8 505.4 L1003.7 505.4 L1004.6 505.4 L1005.5 505.6 L1006.4 505.8 L1007.4 505.9 L1008.3 506.1 L1009.3 506.4 L1010.3 506.7 L1011.3 507.3 L1012.3 507.5" fill="none" stroke="#ff8000" stroke-width="4.3" stroke-linejoin="round" stroke-linecap="butt"/>
<path d="M161.0 139.7 L161.5 138.0 L162.0 137.8 L162.6 137.4 L163.3 137.0 L163.4 137.0 L164.1 136.8 L165.0 136.1 L165.9 135.7 L166.3 135.9 L166.6 136.0 L167.3 136.2 L167.9 137.0 L168.5 138.2 L168.9 139.1 L169.2 139.4 L169.3 139.4 L169.6 140.2 L169.8 141.6 L170.1 142.4 L170.3 143.4 L170.5 144.3 L170.7 145.5 L170.9 146.3 L171.0 147.0 L171.2 147.9 L171.3 148.4 L171.5 149.5 L171.7 150.0 L171.8 151.2 L172.0 152.4 L172.1 152.4 L172.2 152.8 L172.4 153.5 L172.6 154.6 L172.8 155.9 L173.0 156.8 L173.2 157.2 L173.3 157.9 L173.5 159.0 L173.7 159.6 L173.9 160.5 L174.1 161.6 L174.3 162.8 L174.4 163.7 L174.6 164.6 L174.8 165.3 L175.0 166.1 L175.0 166.4 L175.1 167.5 L175.3 168.1 L175.5 169.0 L175.6 169.8 L175.8 170.9 L175.9 171.9 L176.1 172.7 L176.2 173.6 L176.4 174.6 L176.5 175.1 L176.7 175.8 L176.9 176.7 L177.1 177.8 L177.2 178.4 L177.4 179.3 L177.6 180.6 L177.9 181.6 L177.9 181.4 L178.1 181.4 L178.4 182.3 L178.7 183.3 L179.1 184.1 L179.4 185.4 L179.8 186.7 L180.2 187.1 L180.6 187.7 L180.9 188.9 L181.3 189.7 L181.6 190.4 L181.8 191.1 L182.0 191.8 L182.0 192.1 L182.2 192.4 L182.4 193.4 L182.6 195.0 L182.8 195.9 L183.0 196.4 L183.1 197.1 L183.3 198.1 L183.4 198.9 L183.5 200.1 L183.6 201.5 L183.7 202.2 L183.7 202.6 L183.7 202.9 L183.8 203.9 L183.8 204.9 L183.9 205.3 L183.9 206.2 L183.9 207.3 L184.0 208.5 L184.0 209.7 L184.0 210.3 L184.1 210.6 L184.1 211.6 L184.1 212.4 L184.2 213.5 L184.2 214.7 L184.3 214.4 L184.4 215.3 L184.6 216.1 L184.8 217.2 L185.1 218.0 L185.4 218.7 L185.7 219.6 L186.1 220.5 L186.6 220.9 L187.0 221.5 L187.5 222.4 L188.0 223.7 L188.5 224.2 L189.0 224.7 L189.5 225.8 L190.0 227.2 L190.5 227.7 L191.0 228.5 L191.5 229.2 L192.0 229.8 L192.4 230.4 L192.8 231.2 L193.0 231.4 L193.2 231.8 L193.6 233.6 L193.9 234.4 L194.3 234.8 L194.7 235.4 L195.1 236.2 L195.4 237.3 L195.8 238.1 L196.2 238.8 L196.5 239.3 L196.9 240.6 L197.3 241.9 L197.6 242.3 L198.0 243.2 L198.3 244.0 L198.6 245.0 L198.9 245.9 L199.3 246.4 L199.6 247.1 L199.8 248.1 L200.1 248.9 L200.2 249.0 L200.4 249.8 L200.7 250.7 L200.9 251.2 L201.1 252.5 L201.4 253.8 L201.6 254.5 L201.8 255.2 L202.0 256.4 L202.2 256.5 L202.5 256.9 L202.7 257.8 L202.9 258.7 L203.1 260.2 L203.2 261.2 L203.4 261.6 L203.6 262.8 L203.8 263.5 L204.0 264.6 L204.2 265.7 L204.4 266.5 L204.7 267.3 L204.9 268.1 L205.1 268.7 L205.3 269.9 L205.6 271.1 L205.8 272.2 L206.0 273.0 L206.0 273.1 L206.3 273.8 L206.6 274.7 L206.8 275.1 L207.1 275.4 L207.4 276.2 L207.7 277.8 L207.9 278.8 L208.2 279.6 L208.5 280.2 L208.8 281.3 L209.1 282.5 L209.4 282.9 L209.7 283.3 L210.0 284.4 L210.3 285.5 L210.7 285.7 L211.0 286.3 L211.3 287.2 L211.6 288.2 L212.0 289.6 L212.3 290.4 L212.6 290.9 L213.0 291.6 L213.3 292.6 L213.3 292.7 L213.7 293.5 L214.0 294.3 L214.4 295.2 L214.7 296.3 L215.1 296.5 L215.5 297.5 L215.9 298.4 L216.2 299.5 L216.6 300.3 L217.0 301.2 L217.4 302.1 L217.8 302.9 L218.2 303.7 L218.6 304.2 L219.0 305.3 L219.5 306.0 L219.9 307.0 L220.4 308.1 L220.8 308.9 L221.3 309.5 L221.8 309.3 L222.0 309.8 L222.2 310.6 L222.7 311.1 L223.2 312.2 L223.8 313.6 L224.3 314.3 L224.8 314.8 L225.4 315.9 L226.0 316.9 L226.5 317.5 L227.1 318.2 L227.8 318.8 L228.4 319.0 L229.1 319.7 L229.8 319.9 L230.5 320.4 L230.7 320.4 L231.2 320.2 L232.1 320.4 L233.0 320.4 L234.0 320.3 L235.0 320.3 L236.1 319.9 L237.0 319.8 L237.9 319.7 L238.7 319.7 L239.4 319.6 L239.4 318.9 L239.9 318.8 L240.4 318.2 L240.9 318.0 L241.3 317.7 L241.7 317.0 L242.1 316.4 L242.4 315.1 L242.8 313.5 L243.1 312.7 L243.4 312.6 L243.8 311.7 L244.1 310.1 L244.5 308.9 L244.8 308.4 L245.2 307.0 L245.2 307.1 L245.6 306.5 L246.0 305.6 L246.4 304.5 L246.8 303.9 L247.1 303.4 L247.5 302.2 L247.9 301.1 L248.3 300.6 L248.7 299.9 L249.0 299.0 L249.4 298.1 L249.8 297.5 L250.2 296.5 L250.6 295.5 L250.9 294.9 L251.3 294.2 L251.7 293.2 L252.1 292.0 L252.5 291.4 L252.9 291.0 L253.3 290.4 L253.8 289.5 L254.2 288.7 L254.6 288.0 L255.1 287.5 L255.5 286.8 L256.0 285.7 L256.4 284.6 L256.9 283.9 L256.9 283.5 L257.4 283.0 L257.9 282.2 L258.4 281.4 L258.8 280.7 L259.4 279.5 L259.9 278.3 L260.4 277.5 L260.9 276.6 L261.5 275.9 L262.0 275.2 L262.6 274.2 L263.2 273.9 L263.8 273.4 L264.5 272.6 L265.1 272.1 L265.8 271.4 L266.5 271.4 L267.0 271.6 L267.2 271.1 L267.9 271.1 L268.8 271.3 L269.7 271.8 L270.6 271.9 L271.6 271.5 L272.6 271.3 L273.5 270.9 L274.3 271.5 L274.4 271.8 L275.3 271.6 L276.2 270.7 L277.0 270.7 L277.9 270.2 L278.8 269.5 L279.6 269.4 L280.5 269.6 L281.3 269.7 L281.6 269.6 L282.2 269.4 L283.1 269.7 L283.9 269.7 L284.8 269.8 L285.7 270.0 L286.5 270.6 L287.4 271.3 L288.2 271.9 L289.1 272.1 L289.9 272.7 L290.7 273.1 L291.5 273.4 L291.7 273.0 L292.3 273.2 L293.2 273.9 L294.1 274.6 L294.9 275.1 L295.8 275.6 L296.6 276.1 L297.4 276.7 L298.1 277.1 L298.6 277.5 L299.0 278.3 L299.0 278.4 L299.3 279.3 L299.5 279.7 L299.8 280.3 L300.0 281.2 L300.2 282.3 L300.5 283.3 L300.6 283.9 L300.8 284.3 L301.0 285.1 L301.1 286.6 L301.3 287.9 L301.4 288.8 L301.5 289.1 L301.6 290.1 L301.7 290.8 L301.8 291.9 L301.9 292.7 L301.9 293.4 L302.0 294.0 L302.1 294.7 L302.2 295.8 L302.2 297.3 L302.3 298.3 L302.4 298.4 L302.4 299.2 L302.5 300.4 L302.5 301.6 L302.6 302.6 L302.6 303.5 L302.7 303.9 L302.7 304.8 L302.8 305.6 L302.8 306.4 L302.9 307.4 L302.9 308.4 L303.0 309.9 L303.1 310.5 L303.1 310.9 L303.2 312.0 L303.3 313.3 L303.3 313.1 L303.4 314.1 L303.6 315.1 L303.7 316.0 L303.9 316.8 L304.1 317.3 L304.3 317.9 L304.5 318.6 L304.7 319.9 L304.9 320.9 L305.2 321.7 L305.4 322.5 L305.7 323.4 L305.9 324.8 L306.2 325.2 L306.4 325.7 L306.7 326.7 L306.9 327.8 L307.2 328.7 L307.4 329.0 L307.7 330.3 L307.7 330.4 L307.9 331.3 L308.2 332.5 L308.4 333.3 L308.6 333.8 L308.9 334.9 L309.1 336.3 L309.3 337.2 L309.6 337.8 L309.8 338.5 L310.0 339.6 L310.3 340.3 L310.5 340.8 L310.8 341.6 L311.0 342.9 L311.3 343.9 L311.5 344.9 L311.8 345.5 L312.0 346.6 L312.3 347.3 L312.6 348.4 L312.8 349.1 L313.1 349.6 L313.4 350.3 L313.7 351.3 L314.0 352.3 L314.3 353.3 L314.6 353.7 L315.0 354.3 L315.3 355.6 L315.6 357.0 L316.0 357.7 L316.4 357.9 L316.4 358.0 L316.7 358.7 L317.1 359.3 L317.6 360.1 L318.0 360.8 L318.5 361.4 L318.9 362.2 L319.5 363.1 L320.0 363.9 L320.5 364.4 L321.1 365.3 L321.6 365.9 L322.2 366.5 L322.8 367.6 L323.3 369.0 L323.9 369.7 L324.5 370.3 L325.1 370.7 L325.7 371.1 L326.3 371.8 L326.9 372.6 L327.5 373.4 L328.1 374.2 L328.7 374.8 L329.3 374.6 L329.5 375.2 L329.9 376.1 L330.4 376.6 L331.0 377.4 L331.6 378.5 L332.1 379.2 L332.7 380.0 L333.3 380.4 L333.9 380.9 L334.4 381.2 L335.0 381.7 L335.6 382.8 L336.2 383.7 L336.8 384.3 L337.4 384.8 L338.0 385.9 L338.6 386.6 L339.2 387.1 L339.8 387.8 L340.5 388.9 L341.1 389.6 L341.8 389.9 L342.4 390.3 L343.1 391.0 L343.8 392.0 L344.0 392.2 L344.5 392.1 L345.2 392.1 L346.0 392.5 L346.9 393.7 L347.7 393.7 L348.6 394.2 L349.4 394.8 L350.2 395.2 L351.1 395.0 L351.9 395.2 L352.6 396.1 L353.3 396.8 L354.0 397.3 L354.2 396.9 L354.6 397.4 L355.1 398.1 L355.7 398.6 L356.2 399.6 L356.7 400.6 L357.2 401.1 L357.7 401.6 L358.2 402.8 L358.6 403.9 L359.1 404.7 L359.5 405.3 L359.9 405.7 L360.4 406.9 L360.8 407.9 L361.2 408.5 L361.4 408.8 L361.6 409.2 L362.0 410.5 L362.4 411.2 L362.8 412.0 L363.1 413.3 L363.4 414.5 L363.8 415.6 L364.1 416.2 L364.5 417.1 L364.9 418.4 L365.3 419.5 L365.7 419.5 L366.2 419.3 L366.7 419.5 L366.8 419.3 L367.5 419.0 L368.4 419.1 L369.4 419.3 L370.4 419.5 L371.5 419.7 L372.4 419.6 L373.1 419.4 L373.1 419.1 L373.8 419.3 L374.5 419.8 L375.1 420.6 L375.7 420.9 L376.3 421.8 L376.8 423.2 L377.3 424.0 L377.7 424.7 L378.1 425.7 L378.3 426.4 L378.3 426.6 L378.5 427.6 L378.7 428.3 L378.9 428.9 L379.1 429.5 L379.3 430.1 L379.4 431.3 L379.6 432.6 L379.7 433.3 L379.8 433.9 L380.0 434.8 L380.1 435.7 L380.2 437.0 L380.3 438.4 L380.4 439.3 L380.5 440.1 L380.6 440.8 L380.7 441.3 L380.8 442.0 L380.9 443.1 L381.0 444.2 L381.1 445.3 L381.2 446.1 L381.3 446.9 L381.4 448.2 L381.5 449.4 L381.6 449.8 L381.7 450.9 L381.8 451.3 L381.8 451.4 L382.0 452.2 L382.1 453.2 L382.2 454.3 L382.4 455.3 L382.5 456.2 L382.6 456.9 L382.8 457.6 L382.9 458.6 L383.0 459.3 L383.2 460.2 L383.3 461.4 L383.5 462.0 L383.6 462.7 L383.7 463.7 L383.9 464.3 L384.0 465.6 L384.1 466.7 L384.3 467.5 L384.4 468.6 L384.6 470.0 L384.7 470.8 L384.8 471.5 L385.0 472.2 L385.1 472.8 L385.2 473.6 L385.4 474.6 L385.5 475.5 L385.6 476.4 L385.7 477.3 L385.9 478.5 L386.0 479.0 L386.1 480.1 L386.1 480.4 L386.2 480.9 L386.4 481.6 L386.5 482.8 L386.6 484.1 L386.7 484.8 L386.8 485.4 L386.9 486.4 L387.0 487.0 L387.2 487.5 L387.3 488.9 L387.4 490.2 L387.5 491.1 L387.6 491.6 L387.7 492.2 L387.8 493.6 L387.9 494.4 L388.0 495.5 L388.1 496.5 L388.2 497.2 L388.3 497.8 L388.5 498.6 L388.6 499.5 L388.7 500.5 L388.8 501.4 L388.9 502.2 L389.0 502.7 L389.1 503.7 L389.2 504.9 L389.3 505.7 L389.4 506.5 L389.5 507.4 L389.6 508.8 L389.8 509.9 L389.9 510.4 L390.0 511.4 L390.1 511.9 L390.2 512.8 L390.4 513.5 L390.5 514.8 L390.5 515.0 L390.6 515.9 L390.7 517.0 L390.8 517.8 L390.9 518.4 L391.1 519.1 L391.2 520.1 L391.3 520.9 L391.4 522.0 L391.5 523.4 L391.6 524.2 L391.7 524.9 L391.9 525.7 L392.0 526.2 L392.1 527.2 L392.2 527.8 L392.3 528.9 L392.4 530.2 L392.5 531.2 L392.6 532.2 L392.8 532.9 L392.9 533.8 L393.0 534.8 L393.1 536.0 L393.3 536.8 L393.4 537.0 L393.5 538.2 L393.7 539.4 L393.8 540.1 L393.9 540.9 L394.1 541.5 L394.2 542.3 L394.4 543.4 L394.5 544.3 L394.7 545.1 L394.9 545.7 L395.0 546.6 L395.2 547.7 L395.4 548.7 L395.6 549.7 L395.8 550.3 L396.0 551.5 L396.2 552.4 L396.3 552.8 L396.4 553.2 L396.6 553.9 L396.9 554.7 L397.2 555.5 L397.6 556.1 L397.9 557.2 L398.3 558.2 L398.7 558.6 L399.0 559.7 L399.4 560.4 L399.8 561.3 L400.2 562.3 L400.5 563.2 L400.9 564.1 L401.0 564.3 L401.2 565.0 L401.6 565.7 L401.9 566.5 L402.2 567.4 L402.6 568.0 L403.0 568.7 L403.3 569.8 L403.7 570.8 L404.0 571.6 L404.4 572.4 L404.7 573.4 L405.1 574.0 L405.4 574.7 L405.8 575.9 L406.1 576.7 L406.5 577.3 L406.8 578.2 L407.1 578.9 L407.4 579.9 L407.7 581.1 L408.0 581.9 L408.3 582.6 L408.6 583.4 L408.8 584.1 L409.1 585.0 L409.3 585.9 L409.5 586.6 L409.7 587.5 L409.7 587.7 L409.9 588.5 L410.1 589.4 L410.3 590.1 L410.4 590.9 L410.6 591.8 L410.7 592.6 L410.8 593.6 L410.9 594.9 L411.1 596.0 L411.2 596.5 L411.3 597.1 L411.4 598.4 L411.6 599.4 L411.7 600.1 L411.8 601.1 L412.0 601.9 L412.2 602.5 L412.3 603.4 L412.5 604.5 L412.6 604.6 L412.7 605.4 L413.0 606.4 L413.2 607.4 L413.5 608.3 L413.7 609.2 L414.0 610.0 L414.4 610.8 L414.7 611.6 L415.0 612.4 L415.4 613.1 L415.7 613.8 L416.1 614.6 L416.5 615.3 L416.9 616.3 L417.3 617.5 L417.7 618.2 L418.1 618.8 L418.4 619.3 L418.5 619.2 L418.9 620.1 L419.3 621.0 L419.8 622.0 L420.3 622.8 L420.7 623.5 L421.2 624.2 L421.8 625.4 L422.3 626.2 L422.8 626.8 L423.4 627.4 L424.0 628.2 L424.6 629.0 L425.2 629.4 L425.7 629.4 L425.9 629.4 L426.7 629.8 L427.6 630.7 L428.6 631.4 L429.5 631.9 L430.5 632.1 L431.3 632.4 L432.0 632.4 L432.4 632.5 L432.4 632.5 L432.8 632.1 L433.1 631.7 L433.4 631.4 L433.7 630.5 L434.0 629.9 L434.2 628.9 L434.4 628.0 L434.6 626.8 L434.8 625.8 L435.0 624.5 L435.2 623.2 L435.4 622.1 L435.5 620.9 L435.7 620.2 L435.9 619.6 L435.9 619.4 L436.1 618.4 L436.2 617.4 L436.4 616.1 L436.6 615.1 L436.8 613.9 L436.9 612.6 L437.1 611.5 L437.3 610.2 L437.4 609.2 L437.6 608.3 L437.7 607.2 L437.8 606.5 L437.9 606.0 L438.0 605.5 L438.1 605.0 L438.2 605.0 L438.2 604.9 L438.2 604.9 L438.3 605.1 L438.3 605.6 L438.4 605.9 L438.4 606.6 L438.4 607.3 L438.5 608.1 L438.5 608.8 L438.5 609.9 L438.6 611.1 L438.6 612.3 L438.6 613.2 L438.6 614.3 L438.6 615.7 L438.7 616.9 L438.7 618.2 L438.7 619.3 L438.7 620.6 L438.7 622.0 L438.7 623.6 L438.8 625.1 L438.8 626.2 L438.8 627.4 L438.8 628.7 L438.8 630.1 L438.9 631.5 L438.9 632.5 L438.9 633.1 L439.0 633.7 L439.0 634.6 L439.1 635.3 L439.1 636.1 L439.2 636.7 L439.2 636.7 L439.3 636.5 L439.3 636.6 L439.4 636.6 L439.6 636.9 L440.1 636.8 L440.6 636.3 L441.4 635.7 L442.2 635.5 L443.1 635.2 L444.1 634.4 L445.1 633.8 L446.2 633.5 L447.2 633.0 L448.2 632.4 L449.1 631.9 L450.0 631.3 L450.4 631.0 L450.8 630.8 L451.5 630.3 L452.3 629.7 L453.1 629.4 L453.8 629.0 L454.6 628.5 L455.3 627.9 L456.1 627.2 L456.8 626.6 L457.6 626.3 L458.3 625.8 L459.0 625.3 L459.8 624.6 L460.5 624.0 L461.2 623.7 L461.9 623.2 L462.7 622.8 L463.4 622.4 L464.1 621.8 L464.8 621.1 L464.9 620.7 L465.5 620.0 L466.2 619.6 L466.9 619.0 L467.5 618.4 L468.2 618.0 L468.9 617.3 L469.5 617.0 L470.2 616.6 L470.8 616.0 L471.5 615.4 L472.2 614.7 L472.8 613.7 L473.5 613.0 L474.1 612.5 L474.8 611.7 L475.4 611.3 L476.1 610.5 L476.8 609.8 L477.5 609.6 L478.1 608.9 L478.8 608.5 L479.4 607.7 L479.5 607.5 L480.2 607.2 L481.0 606.6 L481.7 605.8 L482.4 605.5 L483.1 605.1 L483.9 604.5 L484.6 603.7 L485.3 603.2 L486.1 602.9 L486.8 602.5 L487.6 601.9 L488.3 601.3 L489.1 600.8 L489.8 600.5 L490.6 599.8 L491.3 599.3 L492.1 598.7 L492.9 598.6 L493.7 598.1 L494.4 597.3 L495.2 597.2 L496.0 597.0 L496.8 596.4 L496.9 596.3 L497.6 595.9 L498.4 595.3 L499.2 594.8 L500.0 594.3 L500.8 593.9 L501.6 593.3 L502.4 593.1 L503.2 592.5 L504.0 591.8 L504.9 591.5 L505.7 591.3 L506.5 590.9 L507.4 590.7 L508.2 590.2 L509.1 589.9 L509.9 590.0 L510.8 590.0 L511.4 589.6 L511.6 589.5 L512.5 589.6 L513.4 589.8 L514.3 589.8 L515.2 590.0 L516.1 590.2 L517.0 590.4 L517.9 590.4 L518.9 590.6 L519.7 591.0 L520.6 591.4 L521.5 591.6 L522.3 591.6 L523.0 591.8 L523.2 592.0 L524.0 592.4 L524.8 592.3 L525.5 592.6 L526.3 593.2 L527.1 593.7 L527.8 594.4 L528.6 594.7 L529.3 595.2 L530.1 595.7 L530.8 596.4 L531.5 597.1 L532.2 597.5 L533.0 598.0 L533.7 598.8 L534.4 599.4 L535.1 599.9 L535.8 600.5 L536.5 601.2 L537.2 601.6 L537.5 601.9 L537.9 602.2 L538.6 602.7 L539.3 603.1 L540.0 603.9 L540.7 604.4 L541.4 605.1 L542.1 605.7 L542.7 606.2 L543.4 606.7 L544.1 607.3 L544.8 608.1 L545.4 608.8 L546.1 609.5 L546.8 610.0 L547.4 610.5 L548.1 611.5 L548.7 612.2 L549.4 612.7 L550.0 613.0 L550.7 613.5 L551.3 614.2 L551.9 614.8 L552.1 615.1 L552.6 615.5 L553.2 616.1 L553.8 616.8 L554.4 617.3 L555.0 617.8 L555.6 618.8 L556.2 619.7 L556.8 620.2 L557.4 620.9 L558.0 621.3 L558.6 622.2 L559.2 623.1 L559.8 623.9 L560.4 624.1 L561.0 624.9 L561.6 625.6 L562.1 626.3 L562.7 627.0 L563.3 627.7 L563.7 628.0 L563.9 628.3 L564.5 629.3 L565.1 630.3 L565.7 631.0 L566.3 631.8 L566.9 632.7 L567.5 633.7 L568.1 634.1 L568.7 634.9 L569.3 635.9 L569.8 636.8 L570.4 637.5 L571.0 638.0 L571.6 638.3 L572.1 638.3 L572.4 638.2 L572.7 638.1 L573.3 637.7 L574.0 636.8 L574.6 636.0 L575.3 635.0 L575.8 633.8 L576.3 632.9 L576.6 632.5 L576.7 632.6 L576.8 632.6 L577.0 632.7 L577.1 633.3 L577.2 634.1 L577.3 634.8 L577.4 635.6 L577.4 636.6 L577.5 637.6 L577.6 638.9 L577.6 640.2 L577.7 641.4 L577.8 642.7 L577.9 643.6 L578.0 644.6 L578.2 645.5 L578.2 645.6 L578.4 646.0 L578.7 647.1 L579.0 648.0 L579.4 648.5 L579.9 649.3 L580.4 650.0 L581.0 650.7 L581.6 651.5 L582.2 652.2 L582.9 652.6 L583.5 653.5 L584.2 654.4 L584.8 655.0 L585.5 655.5 L586.2 656.3 L586.8 657.0 L586.9 657.2 L587.4 657.5 L588.0 658.1 L588.6 659.1 L589.2 659.9 L589.9 660.5 L590.5 661.1 L591.2 661.5 L591.9 661.9 L592.5 662.7 L593.2 663.4 L593.9 663.8 L594.6 664.6 L595.3 665.3 L596.1 665.8 L596.8 666.6 L597.5 666.9 L598.3 667.0 L598.5 667.1 L599.0 667.5 L599.8 668.1 L600.6 668.5 L601.4 668.8 L602.2 669.3 L603.0 669.8 L603.8 670.0 L604.7 670.0 L605.5 670.3 L606.4 670.7 L607.2 671.0 L608.1 671.6 L609.0 671.8 L609.8 672.0 L610.7 672.3 L611.6 672.8 L612.4 673.1 L613.1 673.4 L613.3 673.4 L614.1 673.5 L615.0 674.1 L615.9 674.4 L616.7 674.2 L617.6 674.4 L618.5 674.8 L619.4 675.2 L620.3 675.1 L621.1 675.3 L622.0 675.9 L622.9 675.7 L623.8 675.6 L624.7 676.2 L625.6 676.6 L626.5 676.9 L627.3 677.0 L628.2 677.1 L629.1 676.9 L630.0 676.6 L630.5 676.8 L630.9 677.1 L631.8 677.0 L632.7 676.7 L633.6 676.7 L634.5 677.0 L635.4 677.1 L636.4 677.2 L637.3 677.0 L638.2 677.1 L639.1 677.3 L640.0 677.3 L640.9 677.4 L641.8 677.3 L642.7 677.3 L643.6 677.5 L644.4 677.5 L645.0 677.6 L645.3 677.6 L646.2 677.7 L647.0 678.0 L647.8 678.5 L648.6 679.0 L649.5 679.5 L650.3 680.0 L651.1 680.5 L651.9 680.9 L652.7 681.3 L653.6 681.4 L654.4 681.5 L655.2 681.7 L655.2 681.6 L656.1 681.8 L656.9 682.0 L657.8 681.7 L658.7 681.2 L659.5 681.1 L660.4 680.8 L661.3 680.3 L662.2 680.0 L663.0 679.7 L663.9 679.4 L664.8 679.1 L665.3 678.8 L665.6 679.1 L666.5 679.0 L667.4 678.3 L668.3 677.8 L669.1 677.6 L670.0 677.4 L670.9 677.0 L671.8 676.8 L672.7 676.6 L673.5 675.9 L674.4 675.5 L675.3 675.2 L676.1 674.9 L677.0 674.7 L677.9 674.4 L678.7 674.4 L679.5 674.3 L680.3 674.3 L681.1 674.2 L681.3 674.2 L681.9 674.4 L682.7 674.6 L683.4 675.1 L684.1 675.7 L684.9 676.6 L685.6 677.2 L686.3 678.0 L687.0 678.4 L687.8 678.8 L688.6 678.8 L688.6 678.8 L689.4 678.8 L690.3 679.0 L691.1 679.1 L692.0 679.1 L692.9 679.0 L693.8 678.9 L694.7 679.1 L695.6 679.1 L696.6 678.8 L697.5 678.6 L698.4 678.9 L699.3 679.0 L700.3 678.7 L701.2 678.4 L702.1 678.3 L703.0 678.2 L703.1 678.2 L703.9 678.2 L704.9 678.4 L706.0 678.3 L707.0 677.9 L708.0 677.7 L709.0 677.6 L709.9 677.3 L710.7 677.2 L711.4 677.1 L711.8 677.1 L711.9 677.3 L712.2 677.9 L712.5 678.8 L712.7 679.9 L713.0 680.7 L713.3 680.9 L713.4 681.1 L713.9 681.1 L714.6 680.9 L715.3 680.8 L716.1 680.9 L717.0 680.8 L718.0 680.8 L719.0 680.7 L720.0 680.6 L721.0 680.4 L722.1 680.1 L723.2 680.3 L724.2 680.1 L725.2 680.1 L726.1 680.0 L726.3 679.8 L727.0 679.5 L727.9 679.5 L728.7 679.2 L729.0 679.3 L729.6 679.4 L730.5 679.2 L731.4 679.0 L732.3 679.2 L733.2 679.4 L734.1 679.3 L735.0 679.4 L735.9 679.2 L736.8 679.2 L737.7 679.2 L738.6 679.4 L739.5 679.9 L740.4 679.9 L741.3 679.7 L742.2 679.7 L743.1 680.0 L744.0 679.9 L744.9 679.9 L745.8 680.1 L746.7 679.9 L747.6 680.1 L748.5 680.3 L749.4 680.5 L750.3 680.6 L751.2 680.5 L752.1 680.3 L753.0 680.5 L753.9 680.4 L754.8 680.2 L755.7 680.1 L756.6 680.1 L757.5 680.1 L758.1 680.4 L758.4 680.6 L759.3 680.5 L760.2 680.3 L761.1 680.3 L762.0 680.4 L762.9 680.2 L763.8 680.0 L764.7 679.8 L765.6 679.8 L766.5 679.9 L767.4 679.9 L768.3 680.0 L769.2 680.0 L769.7 679.7 L770.1 679.3 L771.0 679.5 L771.9 679.8 L772.8 679.6 L773.7 679.6 L774.6 680.0 L775.5 680.3 L776.4 680.0 L777.3 679.8 L778.2 680.2 L779.1 680.5 L780.0 680.7 L780.9 680.7 L781.8 680.8 L782.7 680.9 L783.6 681.1 L784.5 681.2 L785.4 681.2 L786.3 681.2 L787.1 681.5 L787.2 681.4 L788.1 681.3 L789.0 681.3 L789.9 681.3 L790.8 681.4 L791.7 681.7 L792.5 681.8 L793.4 681.9 L794.3 681.9 L795.2 681.8 L796.1 681.9 L797.0 682.1 L797.9 681.9 L798.8 681.7 L799.7 681.9 L800.6 681.9 L801.6 682.0 L802.5 682.0 L803.4 682.0 L804.3 682.1 L805.2 682.2 L806.1 682.3 L807.0 682.1 L807.9 682.0 L808.8 682.3 L809.7 682.5 L810.6 682.2 L811.5 682.4 L812.4 682.5 L813.3 682.6 L814.2 682.4 L815.1 682.5 L816.0 682.6 L816.2 682.8 L816.9 682.6 L817.8 682.5 L818.7 682.4 L819.6 682.5 L820.5 682.4 L821.4 682.5 L822.3 682.6 L823.2 682.6 L824.1 682.4 L825.0 682.5 L825.9 682.7 L826.8 682.6 L827.7 682.6 L828.6 682.5 L829.5 682.4 L830.4 682.5 L831.3 682.7 L832.2 682.9 L833.1 682.4 L834.0 682.5 L834.9 682.7 L835.8 682.5 L836.7 682.4 L837.6 682.7 L838.5 682.7 L839.4 682.5 L840.3 682.5 L841.2 682.6 L842.1 682.7 L843.0 682.7 L843.9 682.6 L844.8 682.8 L845.2 682.9 L845.7 682.8 L846.6 683.0 L847.5 682.9 L848.4 682.9 L849.3 682.9 L850.2 682.8 L851.1 682.7 L852.0 682.3 L852.9 682.5 L853.8 682.7 L854.7 682.6 L855.6 682.5 L856.5 682.4 L857.4 682.5 L858.3 682.8 L859.2 682.7 L860.1 682.4 L861.0 682.3 L861.9 682.3 L862.8 682.5 L863.7 682.6 L864.6 682.7 L865.5 682.7 L866.4 682.4 L867.3 682.2 L868.2 682.2 L869.1 682.3 L870.0 682.5 L870.9 682.6 L871.8 682.4 L872.7 682.4 L873.6 682.3 L874.3 682.3 L874.5 682.6 L875.4 682.5 L876.3 682.3 L877.2 682.4 L878.1 682.6 L879.0 682.4 L879.9 682.3 L880.8 682.4 L881.7 682.9 L882.6 682.9 L883.5 682.7 L884.4 682.8 L885.3 682.6 L886.3 682.4 L887.2 682.6 L888.1 682.6 L889.0 682.4 L889.9 682.6 L890.8 682.8 L891.7 682.8 L892.6 682.7 L893.5 682.6 L894.4 682.2 L895.3 682.4 L896.2 682.6 L897.1 682.6 L898.0 682.5 L898.9 682.3 L899.8 682.3 L900.7 682.2 L901.6 682.3 L902.5 682.5 L903.3 682.4 L903.4 682.5 L904.2 682.5 L905.1 682.5 L906.0 682.2 L906.9 681.9 L907.8 681.8 L908.7 681.8 L909.6 681.9 L910.5 681.7 L911.4 681.5 L912.3 681.4 L913.2 681.2 L914.1 681.1 L915.0 680.8 L915.9 680.9 L916.7 680.7 L917.6 680.4 L917.9 680.3 L918.5 680.3 L919.4 680.1 L920.3 680.1 L921.2 680.0 L922.1 679.6 L923.0 679.3 L923.8 679.1 L924.7 678.8 L925.6 678.9 L926.5 678.5 L927.4 678.4 L928.3 678.3 L929.1 678.1 L929.5 678.3 L930.0 678.3 L930.8 678.2 L931.7 678.3 L932.6 678.5 L933.4 679.0 L934.2 679.8 L935.1 680.2 L935.9 680.4 L936.8 680.8 L937.7 681.2 L938.2 681.3 L938.5 681.2 L939.4 681.0 L940.3 681.2 L941.2 681.3 L942.1 681.5 L943.0 681.4 L943.8 681.6 L944.7 681.7 L945.6 681.5 L946.5 681.5 L947.4 681.6 L948.3 681.7 L949.3 681.7 L950.2 682.1 L951.1 682.3 L952.0 682.1 L952.9 682.0 L953.8 681.7 L954.7 681.8 L955.6 682.2 L956.5 682.3 L957.4 682.4 L958.3 682.5 L959.2 682.4 L960.1 682.3 L961.0 682.4 L961.4 682.4 L961.9 682.3 L962.8 682.6 L963.7 682.3 L964.6 682.3 L965.6 682.7 L966.5 683.0 L967.4 683.1 L968.3 683.2 L969.2 682.9 L970.1 682.9 L971.0 683.1 L971.9 683.0 L972.9 683.2 L973.8 683.4 L974.7 683.3 L975.6 683.1 L976.5 683.3 L977.3 683.3 L978.2 683.7 L979.1 683.8 L980.0 684.1 L980.8 684.3 L981.7 684.1 L981.8 684.3 L982.6 684.6 L983.5 684.8 L984.5 684.7 L985.5 685.0 L986.5 685.4 L987.4 685.8 L988.1 686.5 L988.7 687.1 L989.0 687.7 L989.0 687.8 L989.2 688.3 L989.4 688.9 L989.6 690.0 L989.8 691.0 L989.9 691.8 L990.1 692.8 L990.2 694.0 L990.3 695.7 L990.4 696.9 L990.5 697.8 L990.6 699.0 L990.7 700.3 L990.8 701.4 L990.8 702.4 L990.9 703.3 L991.0 703.8 L991.1 704.5 L991.2 704.9 L991.3 705.1 L991.4 704.9 L991.4 704.7 L991.5 704.7 L991.6 704.4 L991.7 703.6 L991.8 702.7 L991.8 701.9 L991.9 700.9 L992.0 699.6 L992.1 698.5 L992.1 697.3 L992.2 696.1 L992.3 694.9 L992.4 693.6 L992.5 692.1 L992.6 690.7 L992.7 689.6 L992.8 689.0 L992.9 688.3 L993.1 687.6 L993.2 687.0 L993.4 686.8 L993.4 686.6 L993.6 686.4 L993.9 686.3 L994.4 686.4 L994.8 686.5 L995.4 686.5 L996.1 686.3 L996.8 686.3 L997.6 686.5 L998.5 686.5 L999.4 686.2 L1000.4 686.1 L1001.4 686.1 L1002.5 685.7 L1003.6 685.6 L1004.8 685.8 L1005.9 685.8 L1007.2 685.8 L1008.4 685.6 L1009.7 685.6 L1011.0 685.5 L1012.3 685.5" fill="none" stroke="#00ff00" stroke-width="4.3" stroke-linejoin="round" stroke-linecap="butt"/>
<path d="M161.0 176.1 L161.9 176.1 L162.8 175.7 L163.6 176.7 L164.5 176.9 L165.3 175.7 L166.2 174.9 L167.1 174.8 L167.9 174.2 L168.8 173.6 L169.7 173.6 L170.5 174.1 L171.4 174.5 L172.3 173.8 L173.2 172.2 L173.2 171.3 L174.0 171.6 L174.9 172.3 L175.8 173.1 L176.7 172.0 L177.6 171.2 L178.4 172.9 L179.3 173.1 L180.2 171.8 L181.1 170.4 L182.0 170.7 L182.9 171.3 L183.8 171.1 L184.6 170.1 L184.9 170.5 L185.5 171.4 L186.4 170.0 L187.3 170.9 L188.2 170.2 L189.1 171.0 L190.0 170.8 L190.8 170.4 L191.7 170.3 L192.6 171.0 L193.5 170.2 L194.4 168.9 L195.3 168.0 L196.2 169.0 L197.1 169.0 L198.0 168.1 L198.8 167.5 L199.7 168.2 L200.6 168.4 L201.5 168.4 L202.3 169.3 L202.4 168.5 L203.3 166.6 L204.2 167.2 L205.1 169.2 L206.0 168.6 L206.9 168.0 L207.8 167.1 L208.7 167.0 L209.6 166.6 L210.5 165.6 L211.4 165.3 L212.3 166.2 L213.2 166.3 L214.1 165.9 L215.0 166.2 L215.9 166.6 L216.8 167.9 L217.6 166.9 L218.5 168.2 L219.4 167.1 L219.7 166.5 L220.3 166.2 L221.2 166.5 L222.1 166.6 L223.0 166.0 L223.9 165.7 L224.8 165.8 L225.7 166.1 L226.6 166.8 L227.5 166.8 L228.4 165.1 L229.3 165.0 L230.2 164.7 L231.1 164.0 L232.0 163.6 L232.9 163.4 L233.8 163.5 L234.7 164.3 L234.8 166.4 L235.5 166.5 L236.4 165.9 L237.3 165.6 L238.2 164.0 L239.1 165.1 L240.0 164.3 L240.9 164.2 L241.8 164.0 L242.7 164.8 L243.6 165.3 L244.5 164.7 L245.4 165.5 L246.4 166.4 L247.3 166.4 L248.2 166.0 L249.1 165.6 L250.0 165.1 L250.9 164.9 L251.8 164.2 L252.7 163.6 L253.6 164.1 L254.5 164.9 L254.6 166.3 L255.4 165.9 L256.3 165.7 L257.2 164.6 L258.1 164.5 L259.0 164.9 L259.9 165.1 L260.8 165.2 L261.7 164.4 L262.6 165.5 L263.5 165.8 L264.4 164.9 L265.3 164.5 L266.2 165.2 L267.1 165.0 L268.0 164.4 L268.9 165.2 L269.8 164.2 L270.7 164.8 L271.6 166.2 L272.5 165.2 L273.4 164.4 L274.3 165.3 L275.2 164.1 L276.1 164.9 L277.0 165.3 L277.8 166.6 L277.9 166.5 L278.8 165.9 L279.7 165.3 L280.6 165.0 L281.5 163.9 L282.4 164.0 L283.3 165.3 L284.2 165.4 L285.1 163.9 L286.0 164.4 L286.9 165.4 L287.8 166.1 L288.7 165.4 L289.6 165.2 L290.5 165.8 L291.4 165.7 L292.3 165.1 L293.2 165.7 L294.1 166.2 L295.0 166.0 L295.9 165.0 L296.8 164.0 L297.7 164.7 L298.6 165.8 L299.5 165.7 L300.4 166.0 L301.3 165.8 L302.2 165.4 L303.1 163.8 L304.0 163.4 L304.9 163.3 L305.8 164.5 L306.7 165.3 L307.6 164.3 L308.5 164.5 L309.4 164.9 L310.0 165.8 L310.3 165.9 L311.2 167.0 L312.1 166.7 L313.0 166.5 L313.9 165.9 L314.8 166.0 L315.7 164.0 L316.6 163.8 L317.5 165.1 L317.9 165.4 L318.4 165.9 L319.3 165.6 L320.2 165.2 L321.1 164.3 L322.0 165.6 L322.9 166.1 L323.8 166.0 L324.7 165.4 L325.6 165.2 L326.5 164.7 L327.4 164.6 L328.3 165.8 L329.2 166.5 L330.1 165.2 L331.0 163.8 L331.9 163.4 L332.8 163.7 L333.7 165.4 L334.6 166.5 L335.5 166.4 L336.4 165.6 L337.3 166.4 L338.2 167.4 L339.1 167.3 L340.0 167.3 L340.9 166.7 L341.8 165.9 L342.7 166.9 L343.6 167.9 L344.5 166.8 L345.4 165.1 L346.3 165.5 L346.9 167.1 L347.2 168.0 L348.1 167.7 L349.0 166.5 L350.0 167.4 L350.9 167.1 L351.9 167.4 L352.8 167.5 L353.8 168.1 L354.8 167.0 L355.7 167.5 L356.7 168.0 L357.6 167.5 L358.5 168.2 L359.5 169.3 L360.4 169.0 L361.2 169.2 L362.1 168.1 L362.9 167.1 L363.7 167.1 L364.5 168.6 L365.2 168.8 L365.8 169.1 L366.0 168.6 L366.6 168.2 L367.2 168.1 L367.8 167.0 L368.3 165.5 L368.9 165.1 L369.5 163.9 L370.1 164.4 L370.2 165.4 L370.8 165.5 L371.6 164.4 L372.4 163.6 L373.3 163.0 L374.1 163.7 L375.0 165.2 L375.9 165.6 L376.7 165.8 L377.5 166.7" fill="none" stroke="#0b8086" stroke-width="4.3" stroke-linejoin="round" stroke-linecap="butt"/>
<path d="M161.0 177.0 L161.9 175.4 L162.8 174.1 L163.6 173.9 L164.5 174.9 L165.3 176.3 L166.2 175.6 L167.1 175.5 L167.9 175.3 L168.8 174.6 L169.7 175.8 L170.5 174.0 L171.4 174.5 L172.3 175.4 L173.2 173.9 L173.2 173.1 L174.0 172.7 L174.9 172.4 L175.8 170.8 L176.7 171.8 L177.6 173.5 L178.4 172.6 L179.3 171.9 L180.2 172.1 L181.1 172.1 L182.0 171.8 L182.9 171.3 L183.8 170.1 L184.6 170.8 L184.9 170.7 L185.5 171.2 L186.4 170.5 L187.3 169.6 L188.2 169.7 L189.1 169.5 L190.0 170.5 L190.8 170.3 L191.7 170.0 L192.6 169.2 L193.5 170.2 L194.4 169.7 L195.3 170.3 L196.2 169.6 L197.1 168.1 L198.0 168.4 L198.8 168.2 L199.7 168.9 L200.6 169.6 L201.5 169.3 L202.3 168.7 L202.4 167.4 L203.3 167.8 L204.2 168.4 L205.1 168.5 L206.0 167.5 L206.9 167.9 L207.8 167.5 L208.7 165.9 L209.6 166.1 L210.5 166.9 L211.4 165.9 L212.3 165.9 L213.2 167.3 L214.1 167.2 L215.0 166.6 L215.9 166.5 L216.8 166.1 L217.6 165.8 L218.5 165.9 L219.4 166.8 L219.7 167.3 L220.3 166.1 L221.2 165.8 L222.1 165.4 L223.0 164.8 L223.9 165.8 L224.8 166.1 L225.7 165.2 L226.6 165.5 L227.5 165.2 L228.4 166.1 L229.3 166.1 L230.2 164.3 L231.1 162.9 L232.0 163.4 L232.9 163.0 L233.8 163.0 L234.7 164.3 L234.8 165.5 L235.5 164.7 L236.4 163.8 L237.3 162.8 L238.2 163.1 L239.1 163.4 L240.0 164.4 L240.9 164.3 L241.8 164.4 L242.7 164.5 L243.6 164.7 L244.5 165.5 L245.4 165.2 L246.4 164.6 L247.3 164.9 L248.2 165.6 L249.1 166.0 L250.0 165.6 L250.9 165.8 L251.8 164.6 L252.7 164.1 L253.6 163.8 L254.5 164.8 L254.6 163.9 L255.4 164.0 L256.3 165.1 L257.2 164.5 L258.1 164.4 L259.0 165.4 L259.9 165.3 L260.8 165.5 L261.7 165.1 L262.6 165.7 L263.5 166.0 L264.4 165.8 L265.3 166.4 L266.2 165.1 L267.1 164.7 L268.0 165.3 L268.9 165.8 L269.8 164.9 L270.7 164.7 L271.6 165.5 L272.5 166.0 L273.4 164.7 L274.3 163.9 L275.2 164.8 L276.1 165.4 L277.0 164.8 L277.8 164.5 L277.9 163.6 L278.8 164.6 L279.7 165.3 L280.6 165.7 L281.5 165.7 L282.4 165.5 L283.3 164.7 L284.2 164.9 L285.1 163.7 L286.0 164.4 L286.9 166.0 L287.8 165.6 L288.7 164.0 L289.6 164.9 L290.5 164.7 L291.4 164.4 L292.3 165.1 L293.2 165.6 L294.1 165.8 L295.0 164.2 L295.9 164.3 L296.8 164.3 L297.7 163.9 L298.6 166.0 L299.5 166.6 L300.4 165.1 L301.3 165.1 L302.2 165.0 L303.1 165.0 L304.0 164.8 L304.9 165.2 L305.8 164.7 L306.7 166.0 L307.6 166.4 L308.5 166.7 L309.4 164.4 L310.0 164.2 L310.3 164.0 L311.2 164.7 L312.1 165.1 L313.0 164.0 L313.9 163.1 L314.8 163.2 L315.7 165.0 L316.6 166.3 L317.5 166.2 L317.9 165.0 L318.4 164.0 L319.3 164.0 L320.2 163.2 L321.1 163.5 L322.0 165.3 L322.9 165.1 L323.8 165.1 L324.7 165.2 L325.6 166.4 L326.5 166.4 L327.4 164.8 L328.3 164.5 L329.2 164.9 L330.1 166.5 L331.0 166.6 L331.9 166.1 L332.8 167.2 L333.7 165.8 L334.6 164.0 L335.5 163.6 L336.4 165.1 L337.3 165.8 L338.2 165.5 L339.1 166.3 L340.0 166.9 L340.9 166.4 L341.8 167.1 L342.7 167.8 L343.6 166.8 L344.5 166.0 L345.4 166.6 L346.3 167.4 L346.9 168.1 L347.2 166.2 L348.1 165.2 L349.0 166.5 L350.0 166.9 L350.9 166.7 L351.9 167.3 L352.8 167.7 L353.8 168.0 L354.8 166.7 L355.7 166.6 L356.7 167.2 L357.6 167.6 L358.5 168.8 L359.5 168.7 L360.4 168.5 L361.2 169.5 L362.1 169.3 L362.9 169.4 L363.7 169.2 L364.5 168.4 L365.2 168.2 L365.8 168.1 L366.0 167.4 L366.6 167.7 L367.2 168.0 L367.8 166.6 L368.3 165.3 L368.9 165.8 L369.5 163.7 L370.1 163.9 L370.2 164.6 L370.8 164.5 L371.6 163.3 L372.4 163.7 L373.3 164.4 L374.1 165.7 L375.0 165.9 L375.9 166.3 L376.7 167.3 L377.5 168.7 L378.3 167.6 L378.9 167.9 L378.9 167.8 L379.6 168.4 L380.2 169.0 L380.8 169.9 L381.4 170.5 L381.9 171.1 L382.4 171.9 L382.9 172.8 L383.2 173.6 L383.2 173.6 L383.6 174.4 L383.9 175.2 L384.2 176.0 L384.4 176.9 L384.7 177.9 L384.9 178.8 L385.2 179.6 L385.4 180.4 L385.6 181.5 L385.8 182.4 L386.0 183.1 L386.2 184.1 L386.4 184.8 L386.6 185.6 L386.7 186.6 L386.9 187.8 L387.1 188.6 L387.3 189.4 L387.4 190.3 L387.6 191.0 L387.6 191.2 L387.8 192.2 L387.9 193.2 L388.1 193.9 L388.2 194.9 L388.4 195.7 L388.5 196.3 L388.7 197.5 L388.8 198.5 L389.0 199.4 L389.1 200.1 L389.3 200.9 L389.4 201.6 L389.5 202.7 L389.7 203.6 L389.8 204.4 L389.9 205.3 L390.1 206.3 L390.2 207.4 L390.3 207.9 L390.4 208.7 L390.5 209.5 L390.7 210.6 L390.8 211.6 L390.9 212.5 L391.0 213.4 L391.2 214.4 L391.3 215.3 L391.4 216.2 L391.5 216.9 L391.6 217.6 L391.8 218.6 L391.9 219.5 L391.9 220.2 L392.0 220.5 L392.1 221.4 L392.2 222.2 L392.4 223.0 L392.5 224.0 L392.6 225.1 L392.7 225.8 L392.8 226.7 L392.9 227.7 L393.1 228.5 L393.2 229.4 L393.3 230.4 L393.4 231.2 L393.5 232.1 L393.6 233.0 L393.7 233.7 L393.8 234.7 L393.9 236.0 L394.1 236.9 L394.2 237.6 L394.3 238.6 L394.4 239.5 L394.5 240.4 L394.6 241.0 L394.7 241.7 L394.8 242.6 L394.9 243.7 L395.0 244.9 L395.1 245.8 L395.3 246.5 L395.4 247.3 L395.5 248.5 L395.6 249.4 L395.7 250.0 L395.8 250.9 L395.9 251.8 L396.0 252.7 L396.1 253.5 L396.2 254.4 L396.3 254.9 L396.3 255.2 L396.5 256.2 L396.6 257.3 L396.7 258.2 L396.8 259.1 L396.9 259.9 L397.0 260.9 L397.1 261.9 L397.3 262.6 L397.4 263.5 L397.5 264.5 L397.6 265.2 L397.7 265.9 L397.8 266.9 L398.0 267.8 L398.1 268.7 L398.2 269.7 L398.3 270.7 L398.4 271.6 L398.5 272.4 L398.6 273.3 L398.8 274.3 L398.9 275.3 L399.0 276.3 L399.1 276.8 L399.2 277.7 L399.3 278.8 L399.4 279.4 L399.5 280.4 L399.7 281.3 L399.8 282.2 L399.9 283.0 L400.0 283.9 L400.1 284.7 L400.2 285.8 L400.3 286.7 L400.4 287.6 L400.5 288.5 L400.6 289.4 L400.7 289.9 L400.7 290.3 L400.8 291.1 L400.9 292.0 L401.0 292.7 L401.1 293.6 L401.2 294.5 L401.2 295.4 L401.3 296.3 L401.4 297.3 L401.5 298.4 L401.6 299.3 L401.7 300.1 L401.7 301.0 L401.8 302.1 L401.9 303.1 L402.0 303.6 L402.1 304.5 L402.1 305.4 L402.2 306.5 L402.3 307.3 L402.4 308.2 L402.5 309.2 L402.6 310.0 L402.7 310.5 L402.7 311.5 L402.8 312.6 L402.9 313.4 L403.0 314.5 L403.1 315.5 L403.2 316.1 L403.3 317.1 L403.5 318.2 L403.6 319.2 L403.6 319.2 L403.7 319.9 L403.8 320.6 L403.9 321.6 L404.1 322.5 L404.2 323.3 L404.3 324.3 L404.5 325.1 L404.6 326.1 L404.8 327.2 L404.9 328.0 L405.1 328.9 L405.3 329.6 L405.4 330.4 L405.6 331.2 L405.7 332.2 L405.9 333.3 L406.1 334.0 L406.3 334.7 L406.4 335.9 L406.6 336.6 L406.8 337.5 L406.9 338.3 L407.1 339.1 L407.3 340.4 L407.4 341.3 L407.6 342.0 L407.8 342.9 L407.9 343.5 L407.9 343.7 L408.1 344.5 L408.3 345.3 L408.4 346.3 L408.6 347.3 L408.8 348.4 L408.9 349.0 L409.1 350.1 L409.3 351.0 L409.4 351.8 L409.6 352.6 L409.7 353.8 L409.9 354.7 L410.1 355.3 L410.2 356.1 L410.4 357.2 L410.6 358.2 L410.7 358.8 L410.9 359.7 L411.1 360.7 L411.2 361.4 L411.4 362.4 L411.6 363.4 L411.7 364.1 L411.9 364.9 L412.1 365.7 L412.2 366.7 L412.4 367.5 L412.6 368.5 L412.8 369.5 L412.9 370.3 L413.1 371.3 L413.3 372.3 L413.5 373.1 L413.7 374.0 L413.8 374.7 L414.0 375.4 L414.2 376.6 L414.4 377.5 L414.6 378.2 L414.8 379.1 L415.0 380.1 L415.2 380.9 L415.4 381.7 L415.6 382.7 L415.8 383.8 L416.0 384.3 L416.2 385.0 L416.4 386.0 L416.6 386.8 L416.6 386.9 L416.8 387.8 L417.0 388.7 L417.3 389.7 L417.5 390.5 L417.7 391.6 L417.9 392.4 L418.2 393.2 L418.4 394.2 L418.6 395.2 L418.9 395.8 L419.1 396.4 L419.3 397.4 L419.6 398.4 L419.8 399.4 L420.1 400.1 L420.3 401.1 L420.6 401.8 L420.9 402.6 L421.1 403.5 L421.4 404.4 L421.6 405.2 L421.9 406.1 L422.2 406.8 L422.4 407.7 L422.7 408.6 L423.0 409.5 L423.3 410.4 L423.5 411.3 L423.8 412.3 L424.1 413.2 L424.4 413.8 L424.7 414.8 L425.0 415.2 L425.3 416.1 L425.5 417.2 L425.8 418.0 L426.1 418.8 L426.4 419.7 L426.7 420.4 L427.0 421.2 L427.3 422.2 L427.6 423.2 L427.9 424.1 L428.2 424.9 L428.3 424.9 L428.6 425.8 L428.9 426.3 L429.3 427.3 L429.6 428.4 L430.0 429.4 L430.4 430.1 L430.8 430.9 L431.2 431.7 L431.6 432.3 L432.0 432.8 L432.4 433.8 L432.8 434.8 L433.2 435.8 L433.6 436.4 L434.0 437.2 L434.4 438.1 L434.7 438.8 L435.1 439.7 L435.4 440.6 L435.8 441.3 L436.1 442.1 L436.4 442.7 L436.6 443.6 L436.8 444.7 L437.0 445.3 L437.1 445.5 L437.2 446.3 L437.4 447.2 L437.6 448.2 L437.7 448.9 L437.9 449.9 L438.0 450.8 L438.2 451.7 L438.3 452.6 L438.4 453.6 L438.5 454.6 L438.7 455.4 L438.8 456.1 L438.9 456.9 L439.0 458.0 L439.2 458.9 L439.3 459.9 L439.5 460.7 L439.7 461.5 L439.8 462.3 L439.9 462.5 L440.0 463.6 L440.2 464.5 L440.4 465.3 L440.7 466.2 L440.9 467.1 L441.1 467.9 L441.4 468.8 L441.6 469.7 L441.9 470.2 L442.2 471.1 L442.5 471.9 L442.7 472.7 L443.0 473.4 L443.3 474.4 L443.6 475.4 L443.9 476.2 L444.2 477.1 L444.5 477.9 L444.9 478.7 L445.2 479.4 L445.5 480.3 L445.8 481.2 L446.1 482.2 L446.4 482.9 L446.8 483.9 L447.1 484.7 L447.4 485.6 L447.7 486.6 L448.0 487.3 L448.3 488.1 L448.6 488.8 L448.7 489.1 L449.0 489.9 L449.3 490.9 L449.6 491.6 L449.9 492.3 L450.2 493.1 L450.5 494.0 L450.9 495.0 L451.2 495.9 L451.5 496.6 L451.8 497.4 L452.2 498.1 L452.5 498.9 L452.8 500.0 L453.2 500.9 L453.5 501.7 L453.8 502.5 L454.2 503.3 L454.5 504.3 L454.8 505.0 L455.2 505.9 L455.5 506.9 L455.9 507.5 L456.2 508.3 L456.6 509.1 L456.9 509.9 L457.3 510.8 L457.6 511.7 L458.0 512.7 L458.4 513.5 L458.7 514.3 L459.1 515.3 L459.4 515.9 L459.8 516.6 L460.2 517.5 L460.6 518.2 L460.9 519.2 L461.3 519.8 L461.7 520.6 L462.1 521.6 L462.5 522.3 L462.8 523.0 L463.1 523.5 L463.2 523.9 L463.6 524.7 L464.0 525.3 L464.4 526.2 L464.8 527.1 L465.2 528.2 L465.6 529.1 L466.0 529.8 L466.4 530.5 L466.9 531.4 L467.3 532.1 L467.7 532.6 L468.1 533.3 L468.5 534.2 L469.0 535.0 L469.4 535.9 L469.8 536.7 L470.3 537.5 L470.7 538.4 L471.2 539.3 L471.6 540.0 L472.1 540.7 L472.5 541.5 L473.0 542.2 L473.4 542.9 L473.9 543.7 L474.4 544.6 L474.8 545.5 L475.3 546.2 L475.8 546.8 L476.2 547.4 L476.7 548.3 L477.2 549.2 L477.6 549.8 L477.7 549.9 L478.2 550.5 L478.7 551.2 L479.2 552.1 L479.7 553.1 L480.2 553.6 L480.7 554.1 L481.2 555.0 L481.7 555.9 L482.2 556.8 L482.7 557.5 L483.2 558.0 L483.8 558.7 L484.3 559.5 L484.8 560.3 L485.4 560.9 L485.9 561.8 L486.5 562.5 L487.0 563.2 L487.6 563.9 L488.1 564.7 L488.7 565.4 L489.3 566.1 L489.8 566.9 L490.4 567.6 L491.0 568.3 L491.6 568.7 L492.2 569.3 L492.7 569.9 L493.3 570.6 L493.9 571.5 L494.0 571.8 L494.5 572.3 L495.1 572.8 L495.8 573.2 L496.4 574.0 L497.0 574.6 L497.6 575.4 L498.3 576.1 L498.9 576.6 L499.6 577.3 L500.2 577.8 L500.9 578.4 L501.6 579.0 L502.2 579.6 L502.9 580.1 L503.6 580.6 L504.3 581.3 L504.9 582.0 L505.6 582.7 L506.3 583.0 L507.0 583.8 L507.7 584.6 L508.4 585.3 L509.1 585.8 L509.8 586.3 L510.5 586.9 L511.2 587.3 L511.9 587.8 L512.6 588.3 L513.3 589.0 L514.0 589.7 L514.3 589.6 L514.7 589.9 L515.4 590.7 L516.2 591.3 L517.0 591.8 L517.7 592.2 L518.5 592.7 L519.3 593.1 L520.0 593.6 L520.8 594.1 L521.5 594.7 L522.1 595.3 L522.8 595.9 L523.0 596.4 L523.3 596.7 L523.8 597.2 L524.3 597.9 L524.8 598.8 L525.3 599.4 L525.8 600.1 L525.9 600.3 L526.4 600.8 L527.0 601.4 L527.7 601.8 L528.3 602.7 L529.0 603.2 L529.8 603.5 L530.5 604.0 L531.3 604.6 L532.1 605.1 L532.9 605.7 L533.7 605.9 L534.5 606.1 L535.3 606.5 L536.2 607.1 L537.0 607.6 L537.9 607.9 L538.7 608.5 L539.5 608.9 L540.4 609.2 L541.2 609.7 L542.0 609.7 L542.8 610.1 L543.3 610.6 L543.6 610.9 L544.4 611.3 L545.2 611.6 L546.0 611.9 L546.8 612.5 L547.6 613.0 L548.4 613.5 L549.2 613.9 L550.0 614.2 L550.8 614.8 L551.7 615.3 L552.5 615.7 L553.3 615.9 L554.1 616.3 L554.9 616.8 L555.7 617.1 L556.6 617.5 L557.4 618.0 L558.2 618.3 L559.1 618.5 L559.9 618.6 L560.8 618.9 L560.8 618.7 L561.7 619.0 L562.6 619.2 L563.6 619.2 L564.6 619.5 L565.7 619.9 L566.7 619.9 L567.7 620.1 L568.7 620.5 L569.7 620.5 L570.6 620.7 L571.5 620.8 L572.2 620.6 L572.9 620.6 L573.5 620.7 L573.8 620.9 L574.0 620.9 L574.4 620.7 L574.8 619.8 L575.1 618.6 L575.4 617.4 L575.7 616.0 L576.0 614.7 L576.3 613.8 L576.5 613.2 L576.7 612.9 L576.8 612.9 L577.0 613.1 L577.2 613.8 L577.3 614.8 L577.5 616.1 L577.6 617.4 L577.8 618.6 L578.0 619.6 L578.2 620.6 L578.4 621.7 L578.6 622.4 L578.8 622.5 L578.9 622.4 L579.4 622.7 L580.0 622.9 L580.6 623.3 L581.4 623.5 L582.3 623.5 L583.2 623.7 L584.2 624.0 L585.3 624.1 L586.4 624.2 L587.4 624.3 L588.5 624.4 L589.6 624.5 L590.6 624.3 L591.6 624.3 L592.6 624.3 L592.7 624.0 L593.5 624.2 L594.4 624.3 L595.3 624.5 L596.2 624.4 L597.1 624.3 L598.0 624.1 L598.9 624.2 L599.8 624.2 L600.7 624.2 L601.6 624.2 L602.5 624.1 L603.4 624.1 L604.3 624.1 L605.2 624.1 L606.1 624.1 L607.0 624.1 L607.9 624.0 L608.8 624.1 L609.7 623.8 L610.2 623.7 L610.6 623.8 L611.5 623.6 L612.4 623.7 L613.3 623.6 L614.2 623.5 L615.1 623.4 L615.9 623.4 L616.8 623.3 L617.7 623.0 L618.6 622.6 L619.5 622.7 L620.4 622.8 L621.3 622.7 L622.2 622.5 L623.1 622.2 L624.0 622.0 L624.9 622.0 L625.8 621.7 L626.6 621.3 L627.5 621.1 L628.4 621.4 L629.3 621.1 L630.2 620.7 L630.5 621.0 L631.1 620.8 L632.0 620.5 L632.8 620.5 L633.7 620.3 L634.6 620.2 L635.5 620.0 L636.4 619.7 L637.2 619.7 L638.1 619.2 L639.0 618.9 L639.9 618.8 L640.7 618.5 L641.6 618.3 L642.5 618.2 L643.4 617.8 L644.3 617.5 L645.1 617.5 L646.0 617.4 L646.9 617.2 L647.8 617.2 L647.9 617.0 L648.7 617.0 L649.6 616.8 L650.5 616.8 L651.4 616.6 L652.3 616.7 L653.2 616.6 L654.1 616.5 L655.0 616.4 L655.9 616.4 L656.8 616.3 L657.7 616.1 L658.6 616.1 L659.5 615.9 L659.5 615.8 L660.3 615.6 L661.2 615.4 L662.0 615.3 L662.8 615.0 L663.7 614.7 L664.5 614.1 L665.3 613.9 L666.1 613.8 L666.9 613.3 L667.7 612.7 L668.5 612.2 L669.3 611.8 L670.1 611.5 L670.9 611.1 L671.8 610.5 L672.6 610.0 L673.4 609.6 L674.1 609.4 L674.2 609.4 L675.0 608.8 L675.8 608.3 L676.6 607.6 L677.4 607.0 L678.2 606.4 L679.0 606.1 L679.8 606.0 L680.6 605.6 L681.4 605.1 L682.2 604.7 L683.1 604.5 L683.9 604.1 L684.2 604.0 L684.7 604.1 L685.6 604.2 L686.5 604.1 L687.4 604.3 L688.3 604.6 L689.2 604.5 L690.1 604.5 L691.0 604.5 L691.9 604.8 L692.8 604.8 L693.7 604.8 L694.6 604.7 L695.6 604.6 L696.5 604.6 L697.3 604.7 L697.4 604.8 L698.3 604.8 L699.2 604.8 L700.1 605.0 L701.0 604.9 L701.9 604.6 L702.8 604.7 L703.8 604.6 L704.7 604.4 L705.6 604.3 L706.5 604.4 L707.4 604.4 L708.3 604.1 L709.2 604.0 L710.0 603.9 L710.9 603.8 L711.8 603.9 L711.8 603.9 L712.6 604.2 L713.4 604.9 L714.2 605.6 L714.7 605.5 L715.0 605.4 L715.8 605.6 L716.7 605.6 L717.6 605.3 L718.5 605.0 L719.3 604.8 L720.2 604.6 L721.1 604.2 L722.0 603.9 L722.9 603.7 L723.8 603.6 L724.7 603.5 L725.6 603.3 L726.3 603.3 L726.5 603.4 L727.4 603.4 L728.3 603.4 L729.0 603.3 L729.2 603.6 L730.1 603.5 L731.0 603.3 L731.9 603.2 L732.8 603.3 L733.7 603.3 L734.6 603.1 L735.5 603.0 L736.4 602.9 L737.3 603.1 L738.2 602.8 L739.1 602.4 L740.0 602.4 L740.8 602.3 L741.7 602.1 L742.6 601.9 L743.5 601.7 L744.4 601.5 L745.3 601.4 L746.2 601.4 L747.1 601.0 L748.0 600.7 L748.8 600.4 L749.7 600.3 L750.6 600.1 L751.5 599.9 L752.4 600.0 L753.3 599.9 L754.2 599.8 L755.1 599.6 L756.0 599.3 L756.9 599.3 L757.7 599.3 L758.1 599.2 L758.6 598.9 L759.5 598.8 L760.4 598.9 L761.3 599.0 L762.2 598.7 L763.1 598.4 L764.0 598.3 L764.9 598.3 L765.8 598.0 L766.7 598.0 L767.6 598.0 L768.5 597.9 L769.4 597.9 L770.3 597.9 L771.2 597.7 L772.1 597.5 L773.0 597.7 L773.9 597.6 L774.8 597.3 L775.7 597.1 L776.6 597.1 L777.5 597.2 L778.4 597.1 L779.3 597.1 L780.2 597.1 L781.1 597.1 L782.0 596.9 L782.9 596.8 L783.8 596.9 L784.7 596.9 L785.6 596.7 L786.5 596.7 L787.1 596.6 L787.4 596.9 L788.3 596.8 L789.2 596.9 L790.1 597.0 L791.0 597.0 L791.9 596.9 L792.8 596.8 L793.7 596.8 L794.6 596.8 L795.5 596.8 L796.4 596.9 L797.3 597.3 L798.2 597.2 L799.1 597.2 L800.0 597.1 L800.9 597.3 L801.8 597.2 L802.7 597.2 L803.6 597.2 L804.5 597.0 L805.4 597.0 L806.3 597.3 L807.2 597.3 L808.1 597.5 L809.0 597.8 L809.9 597.8 L810.4 597.9 L810.8 597.8 L811.7 597.6 L812.6 597.9 L813.5 598.1 L814.4 598.1 L815.2 598.0 L816.1 598.1 L817.0 598.5 L817.9 598.8 L818.8 598.9 L819.7 598.7 L820.6 598.8 L821.5 599.1 L822.4 599.3 L823.3 599.4 L824.2 599.5 L825.1 599.5 L825.9 599.4 L826.8 599.6 L827.7 600.0 L828.6 600.1 L829.5 600.5 L830.4 600.5 L830.7 600.7 L831.3 600.9 L832.2 600.9 L833.1 600.8 L833.9 601.1 L834.8 601.5 L835.7 601.5 L836.6 601.6 L837.5 601.5 L838.4 601.9 L839.3 602.1 L840.1 602.2 L841.0 602.2 L841.9 602.4 L842.8 602.7 L843.7 602.9 L844.6 603.0 L845.4 603.5 L846.3 603.7 L847.2 603.8 L848.1 604.0 L849.0 604.0 L849.8 604.3 L850.7 604.7 L851.6 604.8 L852.5 604.8 L853.4 605.1 L854.3 605.2 L855.1 605.3 L856.0 605.4 L856.9 605.7 L857.8 605.9 L858.7 606.1 L859.5 606.2 L859.8 606.4 L860.4 606.6 L861.3 606.7 L862.2 607.0 L863.1 607.0 L863.9 607.1 L864.8 607.3 L865.7 607.4 L866.6 607.5 L867.5 607.8 L868.3 608.1 L869.2 608.4 L870.1 608.8 L871.0 608.9 L871.8 609.0 L872.7 609.2 L873.6 609.5 L874.5 609.7 L875.4 610.0 L876.2 610.3 L877.1 610.5 L878.0 610.5 L878.9 610.8 L879.7 611.0 L880.6 611.1 L881.5 611.3 L882.4 611.6 L883.2 611.9 L884.1 612.0 L885.0 612.1 L885.9 612.4 L886.8 612.4 L887.6 612.6 L888.5 613.0 L888.8 613.0 L889.4 612.9 L890.3 613.2 L891.1 613.6 L892.0 613.9 L892.9 614.0 L893.8 614.1 L894.6 614.2 L895.5 614.4 L896.4 614.7 L897.3 615.0 L898.1 615.3 L899.0 615.5 L899.9 615.8 L900.8 615.9 L901.6 616.1 L902.5 616.3 L903.4 616.6 L904.3 616.9 L905.1 616.9 L906.0 617.1 L906.9 617.4 L907.8 617.6 L908.6 617.8 L909.5 618.1 L910.4 618.2 L911.3 618.3 L912.2 618.7 L913.0 618.9 L913.9 619.0 L914.8 619.4 L915.7 619.8 L916.5 619.8 L917.4 620.0 L917.9 620.3 L918.3 620.4 L919.2 620.5 L920.0 620.6 L920.9 620.7 L921.8 621.0 L922.7 621.1 L923.5 621.3 L924.4 621.6 L925.3 621.9 L926.2 622.0 L927.1 622.3 L927.9 622.5 L928.8 622.7 L929.7 622.7 L930.6 622.8 L931.4 623.3 L932.3 623.6 L933.2 623.5 L934.1 623.6 L934.9 624.1 L935.8 624.3 L936.7 624.4 L937.6 624.8 L938.5 625.0 L939.3 625.0 L940.2 625.2 L941.1 625.5 L942.0 625.8 L942.9 626.1 L943.7 626.2 L944.6 626.5 L945.5 626.4 L946.4 626.4 L946.9 626.5 L947.3 626.6 L948.1 626.9 L949.0 627.1 L949.9 627.4 L950.8 627.8 L951.7 627.9 L952.5 627.8 L953.4 627.8 L954.3 628.1 L955.2 628.3 L956.1 628.5 L957.0 628.8 L957.9 629.0 L958.7 629.1 L959.6 629.1 L960.5 629.4 L961.4 629.4 L962.3 629.4 L963.2 629.8 L964.1 630.2 L964.9 630.2 L965.8 630.1 L966.7 630.5 L967.6 630.8 L968.5 630.9 L969.4 631.0 L970.2 631.1 L971.1 631.3 L972.0 631.6 L972.9 631.9 L973.8 632.1 L974.6 632.2 L975.5 632.2 L976.0 632.4 L976.4 632.7 L977.3 633.0 L978.3 633.1 L979.3 633.2 L980.4 633.6 L981.4 633.5 L982.4 633.6 L983.3 633.7 L984.3 633.9 L985.1 634.1 L985.9 634.4 L986.6 634.7 L987.2 635.0 L987.6 635.3 L987.7 635.5 L988.1 635.8 L988.4 636.5 L988.8 637.7 L989.1 638.7 L989.4 639.9 L989.7 641.0 L989.9 642.2 L990.2 643.2 L990.4 644.2 L990.6 645.3 L990.9 646.1 L991.1 646.7 L991.3 646.8 L991.4 647.1 L991.5 647.1 L991.7 646.5 L991.8 645.5 L992.0 644.5 L992.1 643.4 L992.3 642.0 L992.4 640.8 L992.6 639.2 L992.7 638.1 L992.9 637.4 L993.2 636.9 L993.4 636.9 L993.4 636.8 L993.7 636.7 L994.1 636.9 L994.6 637.0 L995.1 637.0 L995.7 636.8 L996.4 636.9 L997.1 637.0 L997.9 636.8 L998.7 636.8 L999.6 637.1 L1000.5 637.5 L1001.5 637.6 L1002.5 637.5 L1003.6 637.5 L1004.7 637.7 L1005.9 637.7 L1007.1 638.0 L1008.3 638.4 L1009.6 638.6 L1010.9 638.7 L1012.3 639.1" fill="none" stroke="#0b8086" stroke-width="4.3" stroke-linejoin="round" stroke-linecap="butt"/>
<g stroke="#141414" stroke-width="2.8" fill="none" stroke-linecap="butt">
<path d="M161.2 66.9 V757.9"/>
<path d="M159.8 756.5 H1014.0"/>
<path d="M161.2 756.9 H152.8"/>
<path d="M161.2 708.0 H152.8"/>
<path d="M161.2 673.2 H152.8"/>
<path d="M161.2 646.3 H152.8"/>
<path d="M161.2 624.3 H152.8"/>
<path d="M161.2 605.7 H152.8"/>
<path d="M161.2 589.5 H152.8"/>
<path d="M161.2 575.3 H152.8"/>
<path d="M161.2 562.6 H146.4"/>
<path d="M161.2 478.9 H152.8"/>
<path d="M161.2 430.0 H152.8"/>
<path d="M161.2 395.2 H152.8"/>
<path d="M161.2 368.3 H152.8"/>
<path d="M161.2 346.3 H152.8"/>
<path d="M161.2 327.7 H152.8"/>
<path d="M161.2 311.5 H152.8"/>
<path d="M161.2 297.3 H152.8"/>
<path d="M161.2 284.6 H146.4"/>
<path d="M161.2 200.9 H152.8"/>
<path d="M161.2 152.0 H152.8"/>
<path d="M161.2 117.2 H152.8"/>
<path d="M161.2 90.3 H152.8"/>
<path d="M161.2 68.3 H152.8"/>
<path d="M174.6 756.5 V771.3"/>
<path d="M314.3 756.5 V764.9"/>
<path d="M453.9 756.5 V771.3"/>
<path d="M593.6 756.5 V764.9"/>
<path d="M733.3 756.5 V771.3"/>
<path d="M872.9 756.5 V764.9"/>
<path d="M1012.6 756.5 V771.3"/>
</g>
<rect x="692" y="111" width="116.5" height="229.5" fill="none" stroke="#333" stroke-width="1.3"/>
<path d="M697.5 136.0 H775" stroke="#000000" stroke-width="4.6" stroke-linecap="round"/>
<text x="793" y="147.2" text-anchor="middle" class="b" font-size="34">5</text>
<path d="M697.5 181.0 H775" stroke="#0b8086" stroke-width="4.6" stroke-linecap="round"/>
<text x="793" y="192.2" text-anchor="middle" class="b" font-size="34">4</text>
<path d="M697.5 226.0 H775" stroke="#0a7d14" stroke-width="4.6" stroke-linecap="round"/>
<text x="793" y="237.2" text-anchor="middle" class="b" font-size="34">3</text>
<path d="M697.5 270.7 H775" stroke="#ff8000" stroke-width="4.6" stroke-linecap="round"/>
<text x="793" y="281.9" text-anchor="middle" class="b" font-size="34">2</text>
<path d="M697.5 315.6 H775" stroke="#00ff00" stroke-width="4.6" stroke-linecap="round"/>
<text x="793" y="326.8" text-anchor="middle" class="b" font-size="34">1</text>
<text x="174.6" y="811.7" text-anchor="middle" class="b" font-size="42">200</text>
<text x="453.9" y="811.7" text-anchor="middle" class="b" font-size="42">400</text>
<text x="733.3" y="811.7" text-anchor="middle" class="b" font-size="42">600</text>
<text x="1012.6" y="811.7" text-anchor="middle" class="b" font-size="42">800</text>
<text x="137" y="293.4" text-anchor="end" class="b" font-size="29">1</text>
<text x="136" y="571.4" text-anchor="end" class="b" font-size="29">0.1</text>
<text x="570.5" y="869" text-anchor="middle" class="b" font-size="42">λ, nm</text>
<text transform="translate(56.6 374.5) rotate(-90)" text-anchor="middle" class="b" font-size="58.5">Optical density</text>
</g>
<text x="526.5" y="1004" text-anchor="middle" class="r" font-size="48" letter-spacing="1.6">(a)</text>
<g id="chart-b">
<path d="M1290.0 109.6 L1290.3 108.8 L1290.7 108.1 L1291.0 105.4 L1291.4 103.7 L1291.8 104.7 L1292.2 104.8 L1292.7 103.8 L1293.2 102.4 L1293.7 99.6 L1294.2 98.7 L1294.7 100.0 L1295.2 100.0 L1295.7 98.8 L1296.1 98.1 L1296.3 97.2 L1296.9 96.0 L1297.6 96.3 L1298.2 96.3 L1299.0 94.9 L1299.7 94.5 L1300.5 93.8 L1301.3 94.1 L1302.1 93.6 L1302.9 92.0 L1303.8 91.4 L1304.6 91.7 L1304.9 92.3 L1305.4 92.9 L1306.2 93.6 L1307.1 93.7 L1307.9 93.3 L1308.8 93.0 L1309.6 92.7 L1310.5 92.2 L1311.4 91.8 L1312.3 92.5 L1313.2 93.0 L1314.1 91.1 L1315.0 90.6 L1316.0 91.2 L1316.9 91.4 L1317.8 89.9 L1318.7 91.0 L1319.7 92.2 L1320.6 92.8 L1321.5 92.9 L1322.5 92.8 L1323.4 91.7 L1324.3 90.5 L1325.2 89.8 L1326.2 90.3 L1327.1 91.8 L1328.0 93.1 L1328.1 91.6 L1328.9 91.0 L1329.8 91.0 L1330.7 91.0 L1331.6 90.8 L1332.5 91.2 L1333.4 90.4 L1334.3 91.0 L1335.2 91.2 L1336.1 91.5 L1337.0 91.3 L1337.9 91.3 L1338.8 91.4 L1339.7 92.6 L1340.6 93.2 L1341.5 91.5 L1342.5 91.9 L1343.4 92.7 L1344.3 92.9 L1345.2 90.3 L1346.1 89.9 L1347.0 91.1 L1347.9 92.3 L1348.8 92.5 L1349.7 92.0 L1350.6 91.9 L1351.5 91.4 L1352.4 90.7 L1353.3 91.9 L1354.2 91.3 L1355.0 91.1 L1355.9 91.2 L1356.8 91.5 L1357.1 91.4 L1357.7 91.3 L1358.7 90.6 L1359.7 91.2 L1360.7 92.2 L1361.5 93.4" fill="none" stroke="#ff0000" stroke-width="4.8" stroke-linejoin="round" stroke-linecap="butt"/>
<path d="M1289.8 109.7 L1290.0 108.7 L1290.3 107.9 L1290.7 106.5 L1291.0 106.9 L1291.4 105.6 L1291.8 104.9 L1292.2 104.4 L1292.7 103.2 L1293.2 101.9 L1293.7 100.2 L1294.2 99.9 L1294.7 99.4 L1295.2 98.4 L1295.7 96.7 L1296.1 96.2 L1296.3 97.4 L1296.9 97.4 L1297.6 96.3 L1298.2 94.9 L1299.0 94.5 L1299.7 93.4 L1300.5 92.2 L1301.3 92.0 L1302.1 92.2 L1302.9 92.1 L1303.8 92.3 L1304.6 91.6 L1304.9 92.4 L1305.4 92.7 L1306.2 92.7 L1307.1 92.7 L1307.9 93.5 L1308.8 93.8 L1309.6 92.2 L1310.5 91.4 L1311.4 92.5 L1312.3 93.6 L1313.2 92.4 L1314.1 91.6 L1315.0 91.0 L1316.0 90.6 L1316.9 91.4 L1317.8 93.5 L1318.7 91.7 L1319.7 90.6 L1320.6 91.4 L1321.5 92.0 L1322.5 90.9 L1323.4 90.9 L1324.3 91.7 L1325.2 92.0 L1326.2 91.0 L1327.1 92.0 L1328.0 92.9 L1328.1 91.1 L1328.9 90.6 L1329.8 91.8 L1330.7 92.2 L1331.6 91.6 L1332.5 91.8 L1333.4 92.3 L1334.3 92.5 L1335.2 92.2 L1336.1 91.9 L1337.0 90.6 L1337.9 91.2 L1338.8 91.3 L1339.7 92.1 L1340.6 92.4 L1341.5 93.1 L1342.5 92.4 L1343.4 92.1 L1344.3 92.3 L1345.2 92.4 L1346.1 91.5 L1347.0 90.6 L1347.9 90.9 L1348.8 92.4 L1349.7 93.0 L1350.6 91.8 L1351.5 91.8 L1352.4 91.1 L1353.3 91.9 L1354.2 91.6 L1355.0 92.0 L1355.9 93.4 L1356.8 93.6 L1357.1 91.8 L1357.7 90.7 L1358.7 91.1 L1359.7 92.1 L1360.7 92.2 L1361.5 91.9 L1362.2 92.7 L1362.4 92.8 L1362.7 93.1 L1363.1 93.6 L1363.6 94.2 L1363.9 95.0 L1364.3 95.7 L1364.6 96.5 L1364.9 97.2 L1365.2 98.1 L1365.5 99.3 L1365.7 100.3 L1366.0 101.2 L1366.2 102.0 L1366.5 103.1 L1366.7 104.1 L1366.9 105.1 L1367.1 106.3 L1367.3 106.9 L1367.4 107.2 L1367.6 107.9 L1367.8 108.9 L1368.1 109.8 L1368.3 110.6 L1368.5 111.4 L1368.7 112.2 L1368.9 113.0 L1369.1 113.8 L1369.3 114.7 L1369.5 115.7 L1369.6 116.6 L1369.8 117.4 L1370.0 118.4 L1370.2 119.4 L1370.4 120.4 L1370.5 121.3 L1370.7 122.1 L1370.9 123.0 L1371.0 123.9 L1371.2 124.7 L1371.4 125.5 L1371.5 126.5 L1371.7 127.2 L1371.7 127.3 L1371.9 128.1 L1372.0 129.0 L1372.1 130.0 L1372.3 131.0 L1372.4 131.9 L1372.5 132.7 L1372.6 133.7 L1372.7 134.8 L1372.9 135.7 L1373.0 136.2 L1373.1 137.2 L1373.2 138.0 L1373.4 139.0 L1373.5 140.0 L1373.7 141.0 L1373.9 142.0 L1374.0 142.6 L1374.3 143.5 L1374.5 144.4 L1374.6 144.7 L1374.8 145.1 L1375.2 145.9 L1375.8 146.5 L1376.4 147.2 L1377.0 148.1 L1377.5 148.9 L1377.9 149.6 L1378.1 150.5 L1378.1 150.6 L1378.2 151.2 L1378.2 152.1 L1378.3 152.9 L1378.3 153.6 L1378.4 154.5 L1378.4 155.6 L1378.5 156.5 L1378.5 157.3 L1378.5 158.3 L1378.6 159.3 L1378.6 160.3 L1378.6 161.2 L1378.6 162.2 L1378.7 163.1 L1378.7 163.9 L1378.7 165.0 L1378.8 165.9 L1378.8 166.8 L1378.9 167.7 L1378.9 167.8 L1379.0 168.6 L1379.1 169.4 L1379.2 170.1 L1379.3 171.0 L1379.4 171.9 L1379.6 172.8 L1379.7 173.7 L1379.9 174.6 L1380.1 175.5 L1380.3 176.6 L1380.4 177.5 L1380.6 178.4 L1380.9 179.2 L1381.1 179.9 L1381.3 180.8 L1381.5 181.8 L1381.8 182.7 L1382.0 183.5 L1382.2 184.3 L1382.5 185.3 L1382.7 186.2 L1383.0 187.0 L1383.2 188.0 L1383.3 188.2 L1383.5 188.7 L1383.7 189.6 L1384.0 190.5 L1384.3 191.5 L1384.5 192.3 L1384.8 193.0 L1385.2 193.9 L1385.5 194.8 L1385.8 195.6 L1386.2 196.3 L1386.5 197.4 L1386.9 198.2 L1387.2 199.0 L1387.6 199.9 L1388.0 200.8 L1388.4 201.4 L1388.8 202.3 L1389.1 202.9 L1389.2 203.0 L1389.7 203.5 L1390.1 204.4 L1390.6 205.1 L1391.1 205.9 L1391.6 206.6 L1392.2 207.2 L1392.7 208.1 L1393.3 209.1 L1393.9 209.8 L1394.4 210.3 L1395.0 211.0 L1395.6 211.7 L1396.2 212.2 L1396.8 213.0 L1397.3 213.7 L1397.8 214.4 L1397.9 214.6 L1398.5 215.2 L1399.0 216.0 L1399.6 216.7 L1400.2 217.1 L1400.7 217.8 L1401.3 218.6 L1401.9 219.4 L1402.4 220.2 L1403.0 220.9 L1403.6 221.6 L1404.2 222.2 L1404.7 222.8 L1405.3 223.6 L1405.9 224.2 L1406.5 224.8 L1407.1 225.5 L1407.7 226.2 L1408.2 226.8 L1408.8 227.5 L1409.4 228.3 L1410.0 229.1 L1410.6 229.8 L1411.2 230.5 L1411.8 231.0 L1412.4 231.6 L1413.1 232.3 L1413.7 233.0 L1414.3 233.5 L1414.9 234.3 L1415.2 234.8 L1415.5 235.0 L1416.2 235.5 L1416.8 236.0 L1417.4 236.8 L1418.1 237.4 L1418.7 238.1 L1419.4 238.7 L1420.0 239.2 L1420.7 239.8 L1421.4 240.5 L1422.0 241.2 L1422.7 241.9 L1423.4 242.4 L1424.0 243.0 L1424.7 243.6 L1425.4 244.1 L1426.1 244.9 L1426.7 245.4 L1427.4 245.8 L1428.1 246.5 L1428.8 247.1 L1429.4 247.7 L1430.1 248.4 L1430.8 249.0 L1431.5 249.5 L1432.1 250.1 L1432.7 250.5 L1432.8 250.5 L1433.5 251.2 L1434.2 251.9 L1434.9 252.4 L1435.6 253.0 L1436.3 253.6 L1437.1 254.1 L1437.8 254.6 L1438.5 255.3 L1439.2 256.1 L1439.9 256.4 L1440.6 256.9 L1441.3 257.5 L1441.9 258.3 L1442.6 259.0 L1443.2 259.8 L1443.8 260.4 L1444.3 260.9 L1444.3 260.8 L1444.9 261.6 L1445.4 262.2 L1445.9 262.9 L1446.4 263.5 L1446.9 264.3 L1447.4 265.2 L1447.9 266.0 L1448.3 266.6 L1448.8 267.4 L1449.2 268.3 L1449.7 268.9 L1450.1 269.7 L1450.5 270.6 L1451.0 271.4 L1451.4 272.3 L1451.8 273.2 L1452.2 273.9 L1452.6 274.6 L1453.0 275.4 L1453.5 276.2 L1453.9 277.2 L1454.3 278.1 L1454.7 278.7 L1455.1 279.4 L1455.5 280.3 L1455.9 281.1 L1456.0 281.1 L1456.4 281.9 L1456.8 282.7 L1457.2 283.6 L1457.7 284.5 L1458.1 285.2 L1458.5 286.1 L1458.9 287.0 L1459.4 287.6 L1459.8 288.2 L1460.2 289.0 L1460.6 289.9 L1461.0 290.8 L1461.5 291.6 L1461.9 292.3 L1462.3 293.1 L1462.7 294.0 L1463.1 295.0 L1463.5 295.7 L1463.9 296.3 L1464.3 297.1 L1464.7 298.0 L1465.1 298.8 L1465.5 299.5 L1465.8 300.4 L1466.2 301.5 L1466.6 302.2 L1466.9 303.0 L1467.3 303.8 L1467.5 304.3 L1467.6 304.6 L1468.0 305.4 L1468.3 306.3 L1468.6 307.2 L1468.9 308.0 L1469.2 308.8 L1469.5 309.8 L1469.8 310.6 L1470.1 311.4 L1470.4 312.3 L1470.7 313.1 L1471.0 314.0 L1471.3 315.0 L1471.6 315.6 L1471.9 316.4 L1472.2 317.3 L1472.5 318.2 L1472.8 319.1 L1473.1 319.9 L1473.3 320.4 L1473.5 320.8 L1473.8 321.5 L1474.1 322.3 L1474.5 323.3 L1474.8 324.0 L1475.2 324.8 L1475.5 325.7 L1475.9 326.5 L1476.2 327.3 L1476.6 328.0 L1476.9 328.7 L1477.3 329.6 L1477.7 330.5 L1478.0 331.4 L1478.4 332.2 L1478.8 333.0 L1479.1 333.7 L1479.5 334.5 L1479.9 335.4 L1480.3 336.4 L1480.6 337.2 L1481.0 337.8 L1481.4 338.8 L1481.8 339.8 L1482.1 340.4 L1482.5 341.0 L1482.9 342.1 L1483.3 343.1 L1483.7 343.7 L1484.1 344.5 L1484.4 345.3 L1484.8 346.2 L1485.0 346.5 L1485.2 347.1 L1485.6 348.0 L1486.0 348.6 L1486.4 349.4 L1486.8 350.3 L1487.2 351.1 L1487.6 351.9 L1488.0 352.7 L1488.4 353.4 L1488.8 354.2 L1489.2 355.1 L1489.6 355.7 L1490.0 356.5 L1490.4 357.5 L1490.8 358.3 L1491.2 359.2 L1491.6 360.0 L1492.0 360.8 L1492.4 361.6 L1492.8 362.6 L1493.3 363.4 L1493.7 364.1 L1494.1 364.7 L1494.5 365.7 L1494.9 366.5 L1495.3 367.3 L1495.7 367.9 L1496.1 368.6 L1496.5 369.6 L1496.6 369.7 L1496.9 370.3 L1497.3 371.2 L1497.7 371.9 L1498.1 372.7 L1498.5 373.5 L1498.9 374.2 L1499.2 375.0 L1499.6 376.0 L1500.0 376.8 L1500.4 377.8 L1500.8 378.7 L1501.2 379.4 L1501.5 380.3 L1501.9 381.1 L1502.3 381.8 L1502.7 382.7 L1503.1 383.4 L1503.5 384.3 L1503.9 385.3 L1504.3 386.0 L1504.7 386.6 L1505.1 387.4 L1505.5 388.2 L1506.0 389.0 L1506.4 390.0 L1506.8 390.7 L1507.3 391.6 L1507.7 392.4 L1508.2 392.8 L1508.2 392.8 L1508.7 393.5 L1509.2 394.3 L1509.7 395.1 L1510.2 395.9 L1510.7 396.8 L1511.2 397.6 L1511.8 398.4 L1512.3 399.0 L1512.9 399.5 L1513.4 400.4 L1514.0 401.1 L1514.6 401.6 L1515.1 402.3 L1515.7 403.1 L1516.3 403.8 L1516.8 404.5 L1516.9 404.6 L1517.4 405.1 L1518.0 405.7 L1518.6 406.5 L1519.1 407.2 L1519.7 408.1 L1520.3 408.7 L1520.9 409.5 L1521.5 410.1 L1522.1 410.8 L1522.7 411.5 L1523.3 412.2 L1523.9 412.9 L1524.5 413.7 L1525.0 414.2 L1525.6 414.8 L1525.6 414.8 L1526.2 415.6 L1526.8 416.4 L1527.4 416.8 L1528.0 417.5 L1528.6 418.2 L1529.2 418.9 L1529.8 419.7 L1530.4 420.3 L1531.0 421.0 L1531.6 421.5 L1532.2 422.2 L1532.8 422.9 L1533.4 423.6 L1534.0 424.3 L1534.6 425.0 L1535.2 425.5 L1535.8 426.0 L1536.4 426.7 L1537.0 427.7 L1537.2 428.1 L1537.6 428.4 L1538.2 428.9 L1538.9 429.4 L1539.5 430.0 L1540.1 430.8 L1540.8 431.6 L1541.4 432.3 L1542.0 432.9 L1542.7 433.4 L1543.3 433.9 L1544.0 434.4 L1544.6 435.2 L1545.2 436.0 L1545.9 436.5 L1546.5 437.1 L1547.2 437.8 L1547.8 438.5 L1548.5 439.2 L1549.1 439.8 L1549.7 440.2 L1550.4 441.0 L1551.0 441.7 L1551.7 442.3 L1551.8 442.2 L1552.3 442.9 L1552.9 443.8 L1553.6 444.4 L1554.2 444.9 L1554.8 445.5 L1555.5 446.0 L1556.1 446.7 L1556.8 447.4 L1557.4 448.0 L1558.0 448.4 L1558.7 449.2 L1559.3 449.9 L1559.9 450.5 L1560.6 451.1 L1561.2 451.8 L1561.9 452.4 L1562.5 453.0 L1563.1 453.7 L1563.4 454.1 L1563.8 454.5 L1564.6 455.1 L1565.4 455.8 L1566.1 456.3 L1566.3 456.9 L1566.3 457.0 L1566.3 457.8 L1566.3 458.5 L1566.3 459.4 L1566.3 460.4 L1566.3 461.5 L1566.3 462.3 L1566.3 462.5 L1566.3 463.1 L1566.5 464.0 L1566.7 464.5 L1567.1 465.3 L1567.5 466.1 L1568.1 466.6 L1568.7 467.3 L1569.4 468.0 L1570.1 468.7 L1570.9 469.3 L1571.7 469.9 L1572.6 470.4 L1573.4 471.0 L1574.3 471.7 L1575.1 472.3 L1575.9 472.7 L1576.7 473.4 L1577.5 474.2 L1577.9 474.5 L1578.2 474.6 L1578.9 475.1 L1579.6 475.8 L1580.4 476.5 L1581.2 477.1 L1582.0 477.7 L1582.8 478.5 L1583.5 479.2 L1584.3 479.8 L1585.1 480.2 L1585.8 480.7 L1586.5 481.1 L1587.2 481.6 L1587.8 481.8 L1588.1 481.8 L1588.3 481.6 L1588.8 481.0 L1589.3 480.5 L1589.7 479.8 L1590.1 478.8 L1590.5 477.6 L1590.9 476.6 L1591.4 475.6 L1591.9 474.9 L1592.4 474.3 L1592.5 474.1 L1593.4 473.6 L1594.4 473.3 L1595.2 473.2 L1595.3 473.0 L1595.4 472.9 L1595.4 473.0 L1595.5 473.6 L1595.5 474.2 L1595.6 474.8 L1595.6 475.6 L1595.6 476.8 L1595.6 478.0 L1595.7 479.2 L1595.7 480.3 L1595.7 481.5 L1595.7 482.7 L1595.7 484.0 L1595.7 485.1 L1595.8 486.1 L1595.8 487.2 L1595.9 488.1 L1595.9 488.7 L1595.9 488.9 L1596.0 489.2 L1596.3 489.6 L1596.8 490.0 L1597.4 490.8 L1598.2 491.4 L1599.1 491.7 L1600.0 492.0 L1601.0 492.3 L1602.0 492.8 L1603.0 493.2 L1604.1 493.5 L1605.1 493.8 L1606.0 494.2 L1606.9 494.5 L1607.0 494.6 L1607.7 495.2 L1608.5 495.4 L1609.3 495.5 L1610.2 495.9 L1611.0 496.4 L1611.8 496.8 L1612.6 497.3 L1613.4 497.8 L1614.3 498.2 L1615.1 498.6 L1615.9 498.9 L1616.8 499.3 L1617.6 499.7 L1618.4 499.8 L1619.3 500.1 L1620.1 500.5 L1620.9 500.8 L1621.8 501.0 L1622.6 501.5 L1623.5 501.9 L1624.4 502.1 L1624.4 502.0 L1625.2 502.0 L1626.1 502.2 L1627.0 502.5 L1627.9 502.5 L1628.7 502.7 L1629.6 503.0 L1630.5 503.3 L1630.7 503.2 L1631.4 503.4 L1632.3 503.7 L1633.1 503.9 L1634.0 504.3 L1634.9 504.6 L1635.8 504.7 L1636.6 504.7 L1637.5 505.0 L1638.4 505.3 L1639.2 505.6 L1640.1 505.8 L1641.0 505.9 L1641.9 506.2 L1642.7 506.4 L1643.6 506.7 L1644.5 507.1 L1645.4 507.1 L1646.2 507.3 L1647.1 507.4 L1648.0 507.6 L1648.8 507.9 L1649.7 508.1 L1650.6 508.4 L1651.5 508.5 L1652.4 508.8 L1653.2 509.0 L1654.0 509.2 L1654.1 509.1 L1655.0 509.3 L1655.9 509.6 L1656.8 509.8 L1657.7 510.0 L1658.5 510.1 L1659.4 510.2 L1660.3 510.1 L1661.2 510.3 L1662.1 510.6 L1663.0 510.8 L1663.9 511.1 L1664.8 511.2 L1665.6 511.2 L1666.5 511.4 L1667.4 511.6 L1668.3 511.7 L1669.2 511.7 L1670.1 512.0 L1671.0 512.1 L1671.9 512.3 L1672.8 512.5 L1673.7 512.4 L1674.3 512.5 L1674.6 512.6 L1675.5 512.7 L1676.4 512.9 L1677.3 513.1 L1678.2 513.2 L1679.2 513.3 L1680.1 513.3 L1681.0 513.3 L1682.0 513.5 L1682.8 513.6 L1683.7 513.7 L1684.6 513.8 L1685.4 514.0 L1685.9 513.9 L1686.1 514.1 L1686.8 514.6 L1687.5 515.3 L1688.2 516.2 L1688.8 516.9 L1689.5 517.3 L1690.2 517.8 L1690.3 517.9 L1691.0 518.0 L1691.7 518.1 L1692.6 518.3 L1693.4 518.6 L1694.2 518.9 L1695.1 519.0 L1696.0 519.2 L1696.9 519.4 L1697.8 519.5 L1698.7 519.3 L1699.6 519.4 L1700.6 519.7 L1701.5 520.0 L1702.4 520.0 L1703.4 520.0 L1704.3 520.1 L1705.2 520.2 L1706.2 520.3 L1707.1 520.3 L1708.0 520.4 L1708.9 520.7 L1709.2 520.9 L1709.8 520.8 L1710.7 521.0 L1711.6 521.3 L1712.4 521.3 L1713.3 521.2 L1714.2 521.6 L1715.1 521.8 L1716.0 521.9 L1716.9 522.0 L1717.8 522.2 L1718.7 522.2 L1719.6 522.4 L1720.5 522.7 L1721.4 522.9 L1722.2 522.8 L1723.1 522.8 L1724.0 523.0 L1724.9 523.2 L1725.8 523.2 L1726.7 523.4 L1727.6 523.4 L1728.5 523.6 L1729.4 523.9 L1730.3 524.0 L1731.2 524.1 L1732.1 524.0 L1732.4 524.0 L1733.0 524.1 L1733.8 524.3 L1734.7 524.5 L1735.6 524.5 L1736.5 524.5 L1737.4 524.9 L1738.3 525.1 L1739.2 525.0 L1740.1 525.2 L1741.0 525.5 L1741.9 525.3 L1742.8 525.3 L1743.7 525.4 L1744.6 525.6 L1745.5 525.8 L1746.4 525.9 L1747.3 525.7 L1748.2 525.9 L1749.1 525.9 L1750.0 525.9 L1750.9 526.0 L1751.8 526.3 L1752.7 526.2 L1753.6 526.2 L1754.5 526.3 L1755.4 526.3 L1756.3 526.6 L1757.2 526.7 L1758.1 526.9 L1759.0 527.1 L1759.9 527.1 L1760.8 527.1 L1761.4 527.0 L1761.6 526.9 L1762.5 527.2 L1763.4 527.4 L1764.3 527.5 L1765.2 527.6 L1766.1 527.5 L1767.0 527.7 L1767.9 527.8 L1768.8 527.7 L1769.7 527.8 L1770.6 527.9 L1771.5 528.1 L1772.4 528.2 L1773.3 528.3 L1774.2 528.3 L1775.1 528.3 L1776.0 528.5 L1776.9 528.4 L1777.8 528.4 L1778.7 528.6 L1779.6 528.9 L1780.5 528.9 L1781.4 528.8 L1782.3 528.9 L1783.2 529.0 L1784.1 528.9 L1785.0 529.3 L1785.9 529.3 L1786.8 529.3 L1787.7 529.1 L1788.6 529.2 L1789.5 529.5 L1790.4 529.5 L1790.5 529.5 L1791.3 529.5 L1792.2 529.6 L1793.1 529.6 L1794.0 529.6 L1794.9 529.7 L1795.8 529.8 L1796.7 529.9 L1797.6 529.9 L1798.5 529.8 L1799.4 529.9 L1800.3 530.0 L1801.2 530.1 L1802.1 530.2 L1803.0 530.2 L1803.9 530.1 L1804.8 530.1 L1805.7 530.3 L1806.6 530.3 L1807.5 530.3 L1808.4 530.2 L1809.3 530.3 L1810.2 530.3 L1811.1 530.3 L1812.0 530.5 L1812.9 530.5 L1813.8 530.5 L1814.7 530.7 L1815.6 530.7 L1816.5 530.8 L1817.4 530.7 L1818.3 530.8 L1819.2 530.9 L1819.5 531.1 L1820.1 530.9 L1821.0 530.9 L1821.9 531.0 L1822.8 531.2 L1823.7 531.3 L1824.6 531.4 L1825.5 531.2 L1826.4 531.2 L1827.3 531.4 L1828.2 531.7 L1829.1 531.9 L1830.0 531.9 L1830.9 531.7 L1831.8 531.6 L1832.7 531.7 L1833.6 531.9 L1834.5 532.0 L1835.4 532.0 L1836.3 532.1 L1837.2 532.1 L1838.1 532.3 L1839.0 532.2 L1839.9 532.3 L1840.8 532.3 L1841.7 532.3 L1842.6 532.2 L1842.8 532.2 L1843.5 532.3 L1844.5 532.3 L1845.6 532.2 L1846.7 532.0 L1847.9 532.2 L1849.1 532.2 L1850.3 532.2 L1851.5 532.2 L1852.6 532.1 L1853.8 532.1 L1854.9 532.0 L1855.9 531.7 L1856.9 531.6 L1857.7 531.6 L1858.5 531.6 L1859.1 531.6 L1859.6 531.5 L1860.0 531.4 L1860.2 531.4 L1860.2 531.5 L1860.1 531.9 L1860.0 532.4 L1860.0 532.2 L1860.2 532.3 L1860.6 532.6 L1861.2 532.9 L1861.9 533.0 L1862.7 533.0 L1863.7 533.1 L1864.7 533.1 L1865.8 533.2 L1867.0 533.1 L1868.2 533.2 L1869.4 533.3 L1870.6 533.2 L1871.7 533.5 L1872.8 533.7 L1873.8 533.6 L1874.5 533.6 L1874.8 533.6 L1875.7 533.6 L1876.6 533.8 L1877.5 533.9 L1878.4 533.7 L1879.3 533.7 L1880.2 533.7 L1881.1 533.9 L1882.0 534.1 L1882.9 534.1 L1883.8 534.1 L1884.7 534.1 L1885.6 534.1 L1886.5 534.3 L1887.4 534.4 L1888.3 534.3 L1889.0 534.3 L1889.2 534.2 L1890.1 534.2 L1891.0 534.3 L1891.9 534.3 L1892.8 534.6 L1893.7 534.6 L1894.6 534.6 L1895.5 534.7 L1896.4 534.6 L1897.3 534.7 L1898.2 534.8 L1899.1 534.9 L1900.0 534.9 L1900.9 534.8 L1901.8 534.9 L1902.7 534.9 L1903.6 534.9 L1904.5 534.8 L1905.4 535.0 L1906.3 535.0 L1907.2 535.0 L1908.1 535.1 L1909.0 535.2 L1909.9 535.0 L1910.8 535.2 L1911.7 535.1 L1912.6 535.1 L1913.5 535.2 L1914.4 535.2 L1915.3 535.2 L1916.2 535.1 L1917.1 535.0 L1918.0 535.1 L1918.1 535.2 L1918.9 535.2 L1919.8 535.3 L1920.7 535.4 L1921.6 535.4 L1922.5 535.2 L1923.4 535.2 L1924.3 535.4 L1925.2 535.5 L1926.1 535.5 L1927.0 535.5 L1927.9 535.7 L1928.8 535.8 L1929.7 535.9 L1930.6 535.7 L1931.5 535.5 L1932.4 535.6 L1933.3 535.8 L1934.2 535.7 L1935.1 535.8 L1936.0 536.1 L1936.9 536.2 L1937.8 536.2 L1938.7 536.2 L1939.6 536.2 L1940.5 536.2 L1941.4 536.2 L1942.3 536.2 L1943.2 536.1 L1944.1 536.2 L1945.0 536.2 L1945.9 536.4 L1946.8 536.5 L1947.1 536.4 L1947.7 536.6 L1948.6 536.6 L1949.5 536.7 L1950.4 536.8 L1951.3 536.9 L1952.2 536.8 L1953.1 536.8 L1954.0 536.8 L1954.9 536.9 L1955.8 537.0 L1956.7 536.9 L1957.6 536.9 L1958.5 537.0 L1959.4 537.2 L1960.3 537.2 L1961.2 537.1 L1962.1 537.2 L1963.0 537.4 L1963.9 537.4 L1964.8 537.5 L1965.7 537.7 L1966.6 537.7 L1967.5 537.5 L1968.4 537.6 L1969.3 537.6 L1970.2 537.7 L1971.1 537.8 L1972.0 537.8 L1972.9 538.0 L1973.8 538.0 L1974.7 538.0 L1975.6 537.9 L1976.2 537.8 L1976.5 537.7 L1977.4 537.9 L1978.3 537.9 L1979.2 538.1 L1980.1 538.2 L1981.0 538.2 L1981.9 538.1 L1982.8 537.9 L1983.7 538.0 L1984.6 538.1 L1985.5 538.2 L1986.4 538.3 L1987.3 538.4 L1988.2 538.2 L1989.1 538.2 L1990.0 538.3 L1990.9 538.6 L1991.8 538.6 L1992.7 538.5 L1993.6 538.5 L1994.5 538.4 L1995.4 538.5 L1996.3 538.6 L1997.2 538.8 L1998.1 538.8 L1999.0 538.8 L1999.9 538.8 L2000.8 538.9 L2001.7 538.8 L2002.6 538.8 L2003.5 538.8 L2004.4 538.8 L2005.3 538.9 L2006.2 539.0 L2007.1 538.8 L2008.0 539.1 L2008.9 539.1 L2009.8 539.1 L2010.7 539.1 L2011.6 539.0 L2012.5 538.9 L2013.4 539.0 L2014.3 539.1 L2015.2 539.2 L2016.1 539.1 L2017.0 539.1 L2017.9 539.3 L2018.8 539.3 L2019.7 539.1 L2020.6 539.1 L2021.5 539.4 L2022.4 539.5 L2023.3 539.5 L2024.3 539.5 L2025.2 539.5 L2026.1 539.3 L2027.0 539.4 L2027.9 539.5 L2028.8 539.5 L2029.7 539.5 L2030.6 539.5 L2031.5 539.6 L2032.4 539.6 L2033.3 539.7 L2034.2 539.8 L2034.3 539.8 L2035.1 539.8 L2036.0 539.6 L2036.9 539.8 L2037.8 540.0 L2038.7 540.0 L2039.6 539.9 L2040.5 539.8 L2041.4 540.1 L2042.3 540.0 L2043.2 539.8 L2044.1 539.7 L2045.0 539.8 L2045.9 539.8 L2046.8 539.9 L2047.7 540.0 L2048.6 540.1 L2049.5 540.2 L2050.4 540.1 L2051.3 540.0 L2052.2 539.9 L2053.1 540.0 L2054.0 540.0 L2054.9 540.1 L2055.8 540.0 L2056.7 540.0 L2057.6 540.2 L2058.5 540.3 L2059.4 540.3 L2060.3 540.3 L2061.2 540.3 L2062.1 540.4 L2063.0 540.5 L2063.9 540.5 L2064.8 540.3 L2065.7 540.3 L2066.6 540.4 L2067.5 540.3 L2068.4 540.4 L2069.3 540.4 L2070.2 540.5 L2071.1 540.6 L2072.0 540.5 L2072.9 540.5 L2073.8 540.4 L2074.7 540.5 L2075.6 540.6 L2076.5 540.5 L2077.4 540.4 L2078.3 540.6 L2079.2 540.5 L2080.1 540.5 L2081.0 540.6 L2081.9 540.7 L2082.8 540.6 L2083.7 540.7 L2084.6 540.8 L2085.5 540.8 L2086.4 540.8 L2087.3 541.0 L2088.2 540.8 L2089.1 540.8 L2090.0 540.6 L2090.9 540.6 L2091.8 540.6 L2092.4 540.8 L2092.7 540.8 L2093.6 540.9 L2094.5 540.9 L2095.4 540.9 L2096.3 541.0 L2097.2 541.1 L2098.1 541.1 L2099.0 541.0 L2099.9 541.0 L2100.8 541.1 L2101.7 541.0 L2102.6 541.0 L2103.5 541.0 L2104.4 541.0 L2105.3 541.0 L2106.2 541.0 L2107.1 541.1 L2108.0 541.3 L2109.0 541.2 L2109.9 541.1 L2110.8 541.1 L2111.7 541.2 L2112.6 541.1 L2113.5 541.1 L2114.4 541.1 L2115.3 541.1 L2116.2 541.1 L2117.1 541.0 L2118.0 541.1 L2118.9 541.3 L2119.8 541.2 L2120.7 541.2 L2121.6 541.3 L2122.5 541.3 L2123.4 541.3 L2124.3 541.3 L2125.2 541.3 L2126.1 541.3 L2127.0 541.3 L2127.9 541.3 L2128.8 541.4 L2129.7 541.5 L2130.6 541.6 L2131.5 541.4 L2132.4 541.3 L2133.3 541.4 L2134.2 541.4 L2135.1 541.4 L2136.0 541.5 L2136.9 541.5 L2137.8 541.4 L2138.7 541.5 L2139.6 541.5 L2140.5 541.5 L2141.4 541.6 L2142.3 541.6 L2143.2 541.5 L2144.1 541.4 L2145.0 541.3 L2145.9 541.4 L2146.8 541.6 L2147.7 541.5 L2148.6 541.6 L2149.5 541.6 L2150.4 541.5 L2150.5 541.6 L2151.3 541.5 L2152.2 541.5 L2153.1 541.6 L2154.0 541.6 L2154.9 541.7 L2155.8 541.6 L2156.7 541.7 L2157.6 541.6 L2158.5 541.8 L2159.4 541.8 L2160.3 541.7 L2161.2 541.8 L2162.1 541.9 L2163.0 541.8 L2163.9 541.9 L2164.8 542.0 L2165.7 541.8 L2166.6 541.7 L2167.5 541.8 L2168.4 541.9 L2169.3 542.0 L2170.2 541.9 L2171.1 542.0 L2172.0 542.2 L2172.9 542.2 L2173.8 542.2 L2174.7 542.3 L2175.6 542.2 L2176.5 542.2 L2177.4 542.2 L2178.3 542.3 L2179.2 542.1 L2179.5 542.0 L2180.1 542.0 L2181.0 542.3 L2181.9 542.3 L2182.8 542.2 L2183.8 542.3 L2184.7 542.3 L2185.6 542.4 L2186.5 542.4 L2187.4 542.4 L2188.3 542.5 L2189.2 542.6 L2190.1 542.6 L2191.0 542.8 L2191.9 543.1 L2192.8 543.2 L2193.6 543.1 L2194.1 543.3 L2194.5 543.3 L2195.5 543.2 L2196.5 543.4 L2197.5 543.8 L2198.3 544.0 L2199.0 544.2 L2199.3 544.6 L2199.5 544.9 L2199.9 545.7 L2200.3 546.8 L2200.6 547.9 L2200.8 548.9 L2201.1 549.6 L2201.3 549.9 L2201.4 549.9 L2201.7 549.3 L2201.9 548.6 L2202.1 547.3 L2202.4 546.0 L2202.6 544.7 L2202.9 543.7 L2203.2 543.3 L2203.4 543.3 L2203.6 543.1 L2204.0 543.0 L2204.5 543.1 L2205.0 543.1 L2205.5 543.1 L2206.1 543.2 L2206.8 543.1 L2207.5 543.1 L2208.3 543.2 L2209.1 543.1 L2209.9 543.0 L2210.8 543.0 L2211.7 543.2 L2212.7 543.1 L2213.7 543.1 L2214.7 543.2 L2215.8 543.2 L2216.9 543.1 L2218.1 543.1 L2219.3 543.1 L2220.6 543.2 L2221.9 543.2 L2223.2 543.2 L2224.6 543.1" fill="none" stroke="#ff0000" stroke-width="4.8" stroke-linejoin="round" stroke-linecap="butt"/>
<path d="M1290.2 102.1 L1290.6 102.9 L1291.0 104.3 L1291.5 101.6 L1291.9 103.0 L1292.4 102.0 L1292.9 100.7 L1293.4 99.7 L1293.9 96.9 L1294.4 98.3 L1294.9 100.0 L1295.4 99.1 L1296.0 96.5 L1296.1 97.2 L1296.5 96.9 L1297.1 94.8 L1297.7 94.6 L1298.2 95.1 L1298.8 95.9 L1299.4 93.8 L1300.1 90.2 L1300.7 89.9 L1301.3 91.1 L1302.0 90.2 L1302.7 89.0 L1303.3 87.8 L1304.0 85.5 L1304.7 84.3 L1305.5 85.1 L1306.2 85.7 L1306.9 85.2 L1307.7 84.0 L1307.8 85.1 L1308.4 83.5 L1309.2 82.8 L1310.1 82.7 L1310.9 82.6 L1311.8 83.4 L1312.7 83.6 L1313.6 81.2 L1314.5 83.1 L1315.5 83.1 L1316.4 82.4 L1317.3 81.7 L1318.3 80.1 L1319.2 80.1 L1320.2 82.7 L1321.1 84.3 L1322.0 83.4 L1322.3 79.8 L1322.9 79.8 L1323.8 80.5 L1324.7 84.0 L1325.6 84.7 L1326.5 84.8 L1327.4 85.7 L1328.3 85.6 L1329.2 85.6 L1330.1 82.9 L1331.0 83.2 L1331.9 82.6 L1332.8 81.5 L1333.7 83.3 L1334.6 83.0 L1335.5 81.1 L1336.4 81.7 L1337.3 82.5 L1338.2 84.1 L1339.1 86.1 L1340.0 85.6 L1340.9 84.9 L1341.8 83.6 L1342.6 83.8 L1342.7 83.7 L1343.6 84.5 L1344.5 82.3 L1345.4 83.8 L1346.3 88.1 L1347.2 85.2 L1348.1 84.1 L1349.0 84.4 L1349.9 87.0 L1350.8 86.9 L1351.7 83.6 L1352.6 87.7 L1353.5 88.3 L1354.4 87.5 L1355.3 85.6 L1356.2 85.5 L1357.1 86.7 L1358.0 84.0 L1358.8 83.7 L1359.7 84.3 L1360.1 85.6 L1360.5 86.6 L1361.4 86.1 L1362.3 88.4 L1363.1 88.5 L1364.0 89.2 L1364.8 89.7 L1365.7 89.9 L1366.5 88.7 L1367.4 88.0 L1368.2 88.4 L1369.1 87.0 L1369.9 87.5 L1370.7 89.0 L1371.6 91.8 L1372.4 90.6 L1373.2 89.2 L1374.0 91.8 L1374.7 94.9 L1375.5 93.6 L1376.3 93.4 L1377.0 95.3 L1377.5 97.7 L1377.7 98.0 L1378.4 96.7 L1379.1 97.5 L1379.8 96.7 L1380.4 96.1 L1381.1 97.6 L1381.7 97.0 L1382.3 99.3 L1382.9 99.8 L1383.6 101.4 L1384.2 100.1 L1384.9 100.9" fill="none" stroke="#ff00ff" stroke-width="4.8" stroke-linejoin="round" stroke-linecap="butt"/>
<path d="M1289.8 106.2 L1290.2 104.2 L1290.6 105.0 L1291.0 105.6 L1291.5 102.6 L1291.9 100.0 L1292.4 100.6 L1292.9 102.8 L1293.4 99.7 L1293.9 97.0 L1294.4 97.5 L1294.9 98.2 L1295.4 98.5 L1296.0 99.2 L1296.1 95.9 L1296.5 93.9 L1297.1 96.5 L1297.7 95.5 L1298.2 93.6 L1298.8 91.2 L1299.4 90.7 L1300.1 92.1 L1300.7 88.4 L1301.3 87.2 L1302.0 87.5 L1302.7 89.9 L1303.3 88.4 L1304.0 86.4 L1304.7 88.1 L1305.5 88.8 L1306.2 84.6 L1306.9 83.6 L1307.7 85.3 L1307.8 85.0 L1308.4 83.0 L1309.2 83.2 L1310.1 84.7 L1310.9 85.0 L1311.8 82.8 L1312.7 84.7 L1313.6 86.3 L1314.5 86.2 L1315.5 81.1 L1316.4 81.9 L1317.3 83.8 L1318.3 85.2 L1319.2 82.3 L1320.2 82.3 L1321.1 84.0 L1322.0 84.9 L1322.3 84.0 L1322.9 82.9 L1323.8 85.6 L1324.7 83.8 L1325.6 84.5 L1326.5 85.2 L1327.4 83.9 L1328.3 83.5 L1329.2 81.5 L1330.1 82.4 L1331.0 82.0 L1331.9 80.7 L1332.8 81.3 L1333.7 82.3 L1334.6 84.3 L1335.5 82.2 L1336.4 80.8 L1337.3 82.6 L1338.2 84.6 L1339.1 87.7 L1340.0 87.8 L1340.9 84.9 L1341.8 84.2 L1342.6 87.5 L1342.7 84.9 L1343.6 81.8 L1344.5 83.0 L1345.4 82.4 L1346.3 85.7 L1347.2 85.2 L1348.1 82.6 L1349.0 81.8 L1349.9 81.8 L1350.8 86.5 L1351.7 86.4 L1352.6 86.9 L1353.5 87.5 L1354.4 85.1 L1355.3 84.1 L1356.2 84.7 L1357.1 85.6 L1358.0 84.5 L1358.8 85.2 L1359.7 86.6 L1360.1 86.4 L1360.5 85.0 L1361.4 84.3 L1362.3 85.7 L1363.1 88.7 L1364.0 90.7 L1364.8 90.2 L1365.7 88.6 L1366.5 89.6 L1367.4 90.6 L1368.2 91.4 L1369.1 89.7 L1369.9 91.7 L1370.7 91.6 L1371.6 92.2 L1372.4 95.0 L1373.2 95.3 L1374.0 90.7 L1374.7 92.4 L1375.5 95.0 L1376.3 95.2 L1377.0 92.9 L1377.5 94.5 L1377.7 94.7 L1378.4 94.3 L1379.1 96.2 L1379.8 95.7 L1380.4 95.9 L1381.1 96.1 L1381.7 98.7 L1382.3 99.8 L1382.9 98.8 L1383.6 98.6 L1384.2 100.5 L1384.9 102.0 L1385.6 102.1 L1386.2 102.6 L1386.3 103.2 L1387.0 103.0 L1387.8 103.8 L1388.5 105.0 L1389.3 104.1 L1390.1 104.7 L1390.9 105.3 L1391.7 104.8 L1392.6 104.5 L1393.4 104.8 L1394.2 105.1 L1395.1 106.6 L1395.9 107.7 L1396.7 108.9 L1397.6 109.9 L1397.8 108.9 L1398.4 108.8 L1399.3 109.1 L1400.1 108.4 L1401.0 107.9 L1401.8 108.7 L1402.7 109.9 L1403.6 110.3 L1404.4 110.4 L1405.3 110.4 L1406.2 110.9 L1407.1 111.0 L1408.0 111.0 L1408.8 110.4 L1409.7 110.8 L1410.6 112.1 L1411.5 113.2 L1412.3 112.6 L1412.4 113.0 L1413.3 113.7 L1414.1 112.6 L1415.0 111.2 L1415.9 110.1 L1416.8 111.2 L1417.7 112.1 L1418.6 110.8 L1419.5 110.6 L1420.4 110.8 L1421.3 110.7 L1422.2 110.1 L1423.1 111.0 L1424.0 110.7 L1424.9 108.7 L1425.8 108.3 L1426.7 109.7 L1427.5 110.1 L1428.4 109.3 L1429.3 108.1 L1429.8 108.5 L1430.2 109.3 L1431.1 109.8 L1432.0 109.9 L1433.0 110.1 L1433.9 108.7 L1434.8 108.4 L1435.7 109.7 L1436.6 110.3 L1437.5 108.7 L1438.4 108.8 L1439.3 110.6 L1440.3 109.8 L1441.2 110.2 L1442.1 110.8 L1443.0 109.6 L1443.8 110.0 L1444.7 110.5 L1445.6 110.1 L1446.5 109.7 L1447.2 109.5 L1447.3 110.0 L1448.2 110.5 L1449.1 109.2 L1449.9 110.6 L1450.8 111.3 L1451.6 111.6 L1452.5 112.1 L1453.3 112.6 L1454.1 112.9 L1454.9 112.2 L1455.6 114.1 L1455.9 114.8 L1456.4 114.5 L1457.1 115.0 L1457.8 116.6 L1458.4 117.7 L1459.1 118.3 L1459.7 118.2 L1460.4 117.2 L1461.0 119.4 L1461.6 119.5 L1462.2 119.5 L1462.8 120.9 L1463.4 121.8 L1464.0 121.1 L1464.6 122.7 L1465.2 123.2 L1465.9 123.9 L1466.5 124.7 L1467.1 125.8 L1467.5 125.8 L1467.8 125.2 L1468.4 125.6 L1469.1 126.7 L1469.7 128.0 L1470.4 128.3 L1471.0 130.0 L1471.6 131.2 L1472.3 130.6 L1472.9 129.9 L1473.6 131.9 L1474.2 133.4 L1474.8 134.3 L1475.5 134.8 L1476.2 136.2 L1476.8 136.8 L1477.5 136.5 L1478.2 137.5 L1478.9 138.6 L1479.6 138.6 L1480.3 138.9 L1481.1 139.5 L1481.8 138.1 L1482.1 139.3 L1482.6 138.6 L1483.4 137.9 L1484.2 140.2 L1485.1 141.2 L1486.0 140.6 L1486.9 141.0 L1487.8 141.4 L1488.7 140.8 L1489.6 141.3 L1490.5 141.7 L1491.4 141.1 L1492.2 141.3 L1493.1 141.1 L1493.7 141.3 L1493.8 142.1 L1494.6 143.1 L1495.3 143.6 L1496.1 144.4 L1496.8 145.1 L1497.5 145.4 L1498.1 145.1 L1498.8 145.3 L1499.5 146.0 L1500.1 147.5 L1500.8 148.1 L1501.5 148.6 L1502.1 149.3 L1502.8 149.9 L1503.5 150.4 L1504.2 150.9 L1504.9 151.5 L1505.3 151.9 L1505.7 152.2 L1506.5 152.6 L1507.3 153.1 L1508.2 153.5 L1509.1 153.8 L1510.1 154.3 L1511.0 154.5 L1511.8 155.0 L1512.7 155.5 L1513.5 156.1 L1514.2 156.4 L1514.8 156.8 L1515.3 157.2 L1515.5 157.5 L1515.6 158.1 L1516.0 158.9 L1516.3 159.4 L1516.6 159.9 L1516.9 160.6 L1517.2 161.5 L1517.4 162.5 L1517.6 163.6 L1517.8 164.5 L1518.0 165.3 L1518.2 166.1 L1518.4 166.9 L1518.6 167.9 L1518.8 168.9 L1519.0 169.8 L1519.2 170.9 L1519.4 171.8 L1519.6 172.8 L1519.8 173.5 L1519.8 173.6 L1520.1 174.6 L1520.3 175.5 L1520.5 176.4 L1520.8 177.3 L1521.0 177.9 L1521.2 178.7 L1521.5 179.7 L1521.7 180.7 L1521.9 181.6 L1522.1 182.4 L1522.4 183.2 L1522.6 184.0 L1522.8 185.1 L1523.0 185.9 L1523.3 186.8 L1523.5 187.8 L1523.7 188.7 L1523.9 189.3 L1524.1 190.3 L1524.3 191.2 L1524.6 191.8 L1524.8 192.8 L1525.0 193.8 L1525.2 194.6 L1525.3 195.4 L1525.5 196.4 L1525.6 196.8 L1525.7 197.4 L1525.9 198.2 L1526.1 199.0 L1526.3 200.1 L1526.5 200.9 L1526.6 201.8 L1526.8 202.7 L1527.0 203.5 L1527.2 204.3 L1527.3 205.3 L1527.5 206.3 L1527.7 207.1 L1527.8 207.9 L1528.0 209.0 L1528.1 209.7 L1528.3 210.5 L1528.5 211.4 L1528.6 212.3 L1528.8 213.3 L1528.9 214.2 L1529.1 214.9 L1529.3 215.8 L1529.4 216.9 L1529.6 217.8 L1529.7 218.5 L1529.9 219.6 L1530.0 220.4 L1530.2 221.3 L1530.3 222.2 L1530.5 223.1 L1530.6 223.9 L1530.8 224.8 L1530.9 225.6 L1531.1 226.6 L1531.2 227.4 L1531.4 228.3 L1531.4 228.8 L1531.5 229.3 L1531.7 230.2 L1531.8 231.0 L1531.9 231.9 L1532.1 232.9 L1532.2 233.9 L1532.4 234.7 L1532.5 235.5 L1532.7 236.3 L1532.8 237.2 L1533.0 238.2 L1533.1 239.2 L1533.2 240.1 L1533.4 240.9 L1533.5 241.7 L1533.7 242.6 L1533.8 243.6 L1533.9 244.4 L1534.1 245.1 L1534.2 246.1 L1534.3 247.0 L1534.5 247.7 L1534.6 248.6 L1534.7 249.6 L1534.9 250.6 L1535.0 251.5 L1535.1 252.4 L1535.3 253.4 L1535.4 254.3 L1535.5 255.0 L1535.7 256.0 L1535.8 257.1 L1535.9 257.9 L1536.1 258.6 L1536.2 259.5 L1536.3 260.4 L1536.5 261.2 L1536.6 262.0 L1536.7 263.0 L1536.9 264.1 L1537.0 264.9 L1537.1 265.7 L1537.2 266.6 L1537.3 266.8 L1537.4 267.5 L1537.5 268.2 L1537.6 269.0 L1537.8 270.1 L1537.9 271.0 L1538.0 272.0 L1538.1 273.1 L1538.3 274.0 L1538.4 274.8 L1538.5 275.7 L1538.6 276.7 L1538.8 277.4 L1538.9 278.1 L1539.0 279.0 L1539.1 280.1 L1539.2 281.1 L1539.4 281.7 L1539.5 282.6 L1539.6 283.5 L1539.7 284.5 L1539.8 285.4 L1539.9 286.4 L1540.0 287.2 L1540.2 288.3 L1540.3 289.2 L1540.4 289.8 L1540.5 290.6 L1540.6 291.5 L1540.7 292.5 L1540.9 293.4 L1541.0 294.3 L1541.1 295.2 L1541.2 296.1 L1541.3 297.0 L1541.4 297.9 L1541.6 299.0 L1541.7 299.9 L1541.8 300.6 L1541.9 301.5 L1542.0 302.4 L1542.1 303.3 L1542.3 304.0 L1542.4 305.0 L1542.5 306.0 L1542.6 306.8 L1542.7 307.7 L1542.9 308.6 L1543.0 309.6 L1543.1 310.5 L1543.2 311.2 L1543.4 312.0 L1543.5 313.1 L1543.6 314.0 L1543.7 314.8 L1543.9 315.8 L1544.0 316.8 L1544.1 317.8 L1544.3 318.5 L1544.4 319.5 L1544.5 320.4 L1544.7 321.2 L1544.8 322.0 L1545.0 322.9 L1545.1 323.9 L1545.2 324.6 L1545.4 325.6 L1545.5 326.5 L1545.7 327.3 L1545.8 328.1 L1546.0 329.0 L1546.0 329.2 L1546.1 330.0 L1546.3 330.8 L1546.4 331.7 L1546.6 332.7 L1546.8 333.5 L1546.9 334.4 L1547.1 335.2 L1547.3 336.1 L1547.4 337.0 L1547.6 338.0 L1547.8 338.8 L1548.0 339.6 L1548.1 340.6 L1548.3 341.5 L1548.5 342.6 L1548.7 343.3 L1548.9 344.1 L1549.1 345.0 L1549.3 345.8 L1549.4 346.8 L1549.6 347.7 L1549.8 348.7 L1550.0 349.7 L1550.2 350.5 L1550.4 351.2 L1550.6 352.0 L1550.8 353.0 L1551.0 353.7 L1551.2 354.7 L1551.4 355.7 L1551.6 356.5 L1551.8 357.3 L1552.0 358.5 L1552.2 359.3 L1552.4 360.1 L1552.6 361.1 L1552.7 362.0 L1552.9 362.6 L1553.1 363.4 L1553.2 363.7 L1553.3 364.2 L1553.5 365.3 L1553.7 366.3 L1553.9 367.3 L1554.1 368.2 L1554.3 368.9 L1554.5 369.4 L1554.6 370.4 L1554.8 371.6 L1555.0 372.5 L1555.2 373.2 L1555.4 374.2 L1555.6 375.1 L1555.8 375.9 L1555.9 376.5 L1556.1 377.5 L1556.3 378.3 L1556.5 379.2 L1556.7 380.3 L1556.9 381.2 L1557.1 382.1 L1557.3 383.0 L1557.5 383.7 L1557.7 384.5 L1557.9 385.5 L1558.1 386.4 L1558.3 387.2 L1558.5 388.2 L1558.7 389.2 L1558.9 389.9 L1559.1 390.7 L1559.4 391.5 L1559.6 392.4 L1559.8 393.4 L1560.0 394.3 L1560.3 395.2 L1560.5 395.9 L1560.5 396.2 L1560.8 397.1 L1561.1 397.8 L1561.4 398.8 L1561.7 399.7 L1562.1 400.3 L1562.4 401.1 L1562.8 402.1 L1563.1 402.9 L1563.4 403.4 L1563.7 404.2 L1564.0 405.3 L1564.3 406.4 L1564.5 407.2 L1564.7 407.9 L1564.8 408.6 L1564.8 408.8 L1564.9 409.5 L1565.0 410.4 L1565.1 411.5 L1565.1 412.4 L1565.2 413.2 L1565.2 414.1 L1565.3 415.0 L1565.3 415.9 L1565.4 416.8 L1565.4 417.8 L1565.5 418.7 L1565.5 419.7 L1565.6 420.3 L1565.7 421.3 L1565.7 421.9 L1565.7 422.3 L1565.9 423.1 L1566.0 423.9 L1566.1 425.0 L1566.3 425.9 L1566.4 426.8 L1566.6 427.7 L1566.8 428.5 L1567.1 429.4 L1567.3 430.1 L1567.5 431.0 L1567.8 431.9 L1568.0 432.6 L1568.3 433.5 L1568.6 434.5 L1568.8 435.4 L1569.1 436.4 L1569.4 437.2 L1569.7 437.9 L1570.0 438.8 L1570.3 439.7 L1570.6 440.5 L1570.9 441.4 L1571.1 442.2 L1571.4 443.1 L1571.7 443.8 L1572.0 444.6 L1572.1 445.2 L1572.3 445.7 L1572.5 446.5 L1572.8 447.4 L1573.1 448.3 L1573.4 449.2 L1573.7 450.0 L1573.9 451.0 L1574.2 451.9 L1574.5 452.8 L1574.8 453.4 L1575.1 454.3 L1575.4 455.3 L1575.7 455.8 L1576.0 456.6 L1576.4 457.5 L1576.7 458.5 L1577.0 459.4 L1577.3 460.2 L1577.7 461.1 L1578.0 461.9 L1578.3 462.6 L1578.7 463.5 L1579.0 464.4 L1579.4 465.3 L1579.7 466.1 L1580.1 466.8 L1580.5 467.6 L1580.8 468.6 L1580.8 468.7 L1581.2 469.4 L1581.6 470.1 L1582.0 470.9 L1582.4 472.0 L1582.7 472.7 L1583.2 473.3 L1583.6 474.2 L1584.0 475.2 L1584.4 476.0 L1584.9 476.7 L1585.3 477.3 L1585.8 478.0 L1586.3 478.8 L1586.7 479.7 L1587.3 480.5 L1587.8 481.2 L1588.1 481.6 L1588.3 481.9 L1588.9 482.5 L1589.6 483.3 L1590.3 484.2 L1591.0 485.1 L1591.7 485.7 L1592.2 485.9 L1592.4 485.8 L1592.7 485.7 L1593.1 485.1 L1593.6 484.0 L1594.0 482.8 L1594.3 481.6 L1594.6 480.6 L1594.7 480.2 L1594.8 480.3 L1594.8 480.2 L1594.8 480.2 L1594.9 480.5 L1594.9 481.0 L1594.9 481.5 L1595.0 482.2 L1595.0 482.8 L1595.0 483.6 L1595.0 484.6 L1595.0 485.4 L1595.0 486.4 L1595.1 487.7 L1595.1 488.8 L1595.1 489.9 L1595.1 491.1 L1595.1 492.2 L1595.1 493.4 L1595.1 494.6 L1595.1 495.8 L1595.2 497.0 L1595.2 498.3 L1595.2 499.5 L1595.2 500.6 L1595.3 501.5 L1595.3 502.3 L1595.3 503.1 L1595.3 503.5 L1595.4 504.1 L1595.6 505.0 L1595.8 505.8 L1596.1 506.6 L1596.4 507.1 L1596.8 507.8 L1597.3 508.6 L1597.8 509.4 L1598.3 510.3 L1598.8 511.3 L1599.4 512.1 L1600.0 512.9 L1600.6 513.7 L1601.2 514.3 L1601.8 514.9 L1602.4 515.6 L1603.0 516.4 L1603.5 517.1 L1604.1 518.0 L1604.1 518.0 L1604.6 518.6 L1605.1 519.4 L1605.6 520.0 L1606.2 520.8 L1606.7 521.4 L1607.3 522.2 L1607.8 522.8 L1608.4 523.3 L1609.0 524.0 L1609.5 524.7 L1610.1 525.6 L1610.7 526.4 L1611.3 527.2 L1611.9 527.9 L1612.5 528.4 L1613.0 529.3 L1613.6 530.1 L1614.2 530.6 L1614.8 531.1 L1615.5 531.7 L1616.1 532.5 L1616.7 533.2 L1617.3 533.8 L1617.9 534.6 L1618.5 535.3 L1618.6 535.4 L1619.1 536.1 L1619.7 536.5 L1620.3 537.1 L1620.9 537.8 L1621.5 538.4 L1622.1 539.2 L1622.7 539.9 L1623.3 540.6 L1623.9 541.4 L1624.6 542.1 L1625.2 542.7 L1625.8 543.3 L1626.4 543.9 L1627.1 544.5 L1627.7 545.2 L1628.3 546.0 L1629.0 546.7 L1629.6 547.3 L1630.3 547.9 L1631.0 548.4 L1631.7 548.8 L1632.3 549.5 L1633.0 550.2 L1633.6 550.6 L1633.7 550.5 L1634.5 550.8 L1635.2 551.5 L1635.9 552.0 L1636.7 552.3 L1637.5 552.8 L1638.2 553.4 L1639.0 553.8 L1639.8 554.3 L1640.6 554.7 L1641.4 555.1 L1642.2 555.3 L1643.0 555.9 L1643.9 556.3 L1644.7 556.7 L1645.5 557.0 L1646.3 557.5 L1647.2 557.8 L1648.0 558.3 L1648.9 558.6 L1649.7 559.0 L1650.5 559.2 L1651.4 559.6 L1652.2 559.9 L1653.1 560.2 L1653.9 560.5 L1654.0 560.4 L1654.7 561.0 L1655.6 561.3 L1656.4 561.4 L1657.3 561.6 L1658.1 561.8 L1659.0 562.0 L1659.9 562.4 L1660.7 562.7 L1661.6 563.1 L1662.5 563.4 L1663.3 563.6 L1664.2 563.7 L1665.1 563.9 L1665.9 564.2 L1666.8 564.5 L1667.7 564.7 L1668.6 565.0 L1669.4 565.2 L1670.3 565.3 L1671.2 565.6 L1672.1 565.8 L1673.0 566.0 L1673.8 566.1 L1674.3 566.4 L1674.7 566.5 L1675.6 566.8 L1676.5 566.9 L1677.4 566.9 L1678.4 567.3 L1679.3 567.3 L1680.2 567.4 L1681.1 567.7 L1682.0 568.0 L1682.9 568.3 L1683.7 568.5 L1684.6 568.8 L1685.3 569.2 L1685.9 569.5 L1686.0 569.6 L1686.7 570.0 L1687.3 570.6 L1687.8 571.6 L1688.4 572.5 L1688.9 573.2 L1689.5 573.8 L1690.2 574.2 L1690.3 574.2 L1690.9 574.0 L1691.6 574.3 L1692.4 574.5 L1693.3 574.5 L1694.1 574.6 L1695.0 574.6 L1695.9 574.6 L1696.8 574.6 L1697.8 574.6 L1698.7 574.8 L1699.7 575.0 L1700.7 575.1 L1701.6 574.9 L1702.6 574.8 L1703.6 574.9 L1704.5 575.1 L1705.4 575.2 L1706.2 575.1 L1706.3 575.0 L1707.2 575.1 L1708.1 575.1 L1709.0 575.0 L1709.9 575.0 L1710.8 575.0 L1711.7 574.7 L1712.6 574.7 L1713.5 574.8 L1714.4 574.6 L1715.3 574.5 L1716.2 574.3 L1717.1 574.2 L1718.0 574.2 L1718.9 574.2 L1719.8 574.3 L1720.7 574.1 L1721.6 573.8 L1722.5 573.6 L1723.4 573.6 L1723.7 573.5 L1724.3 573.5 L1725.2 573.5 L1726.1 573.3 L1727.1 573.2 L1728.0 573.1 L1729.0 573.2 L1729.9 573.1 L1730.9 572.7 L1731.8 572.4 L1732.8 572.2 L1733.7 572.1 L1734.6 572.1 L1735.5 572.2 L1736.3 571.9 L1737.2 571.6 L1737.9 571.4 L1738.7 571.2 L1739.4 570.8 L1739.7 570.7 L1740.1 570.6 L1740.8 569.9 L1741.4 568.9 L1742.0 568.1 L1742.6 567.2 L1743.2 566.4 L1743.8 565.3 L1744.3 564.4 L1744.8 564.0 L1745.2 563.6 L1745.5 563.4 L1745.6 563.5 L1745.9 563.9 L1746.2 564.8 L1746.4 566.1 L1746.7 567.5 L1747.0 568.6 L1747.3 569.1 L1747.5 569.2 L1747.7 569.5 L1748.2 569.3 L1748.9 569.0 L1749.6 568.9 L1750.4 568.9 L1751.3 568.8 L1752.2 568.4 L1753.1 568.2 L1754.1 567.9 L1755.2 567.7 L1756.2 567.6 L1757.2 567.4 L1758.3 567.2 L1759.3 566.8 L1760.2 566.4 L1761.2 566.4 L1761.4 566.2 L1762.0 566.2 L1762.9 566.2 L1763.8 565.9 L1764.7 565.7 L1765.6 565.4 L1766.5 565.2 L1767.4 565.2 L1768.2 565.0 L1769.1 564.9 L1770.0 564.6 L1770.9 564.3 L1771.8 564.2 L1772.7 564.1 L1773.5 563.9 L1774.4 563.9 L1775.3 563.4 L1776.2 563.2 L1777.0 563.0 L1777.9 562.9 L1778.8 562.6 L1778.9 562.5 L1779.6 562.3 L1780.5 562.1 L1781.3 561.8 L1782.2 561.4 L1783.0 561.4 L1783.9 561.2 L1784.7 560.9 L1785.6 560.6 L1786.4 560.0 L1787.3 559.5 L1788.1 559.3 L1788.9 559.1 L1789.8 558.7 L1790.6 558.2 L1791.5 557.9 L1792.3 557.5 L1793.1 557.1 L1794.0 556.9 L1794.8 556.6 L1795.7 556.4 L1796.3 556.4 L1796.5 556.2 L1797.4 555.9 L1798.2 555.6 L1799.1 555.2 L1799.9 555.0 L1800.8 554.7 L1801.7 554.4 L1802.5 554.2 L1803.4 553.7 L1804.2 553.5 L1805.1 553.2 L1805.9 553.0 L1806.8 552.6 L1807.7 552.4 L1808.5 552.1 L1809.4 551.7 L1810.2 551.5 L1811.1 551.4 L1811.9 551.0 L1812.8 550.8 L1813.6 550.5 L1813.7 550.5 L1814.5 550.1 L1815.3 549.8 L1816.2 549.5 L1817.1 549.3 L1817.9 549.1 L1818.8 548.8 L1819.7 548.4 L1820.6 548.1 L1821.4 547.8 L1822.3 547.6 L1823.2 547.3 L1824.0 547.1 L1824.9 546.8 L1825.7 546.4 L1826.6 546.0 L1827.4 545.5 L1828.2 545.1 L1829.0 544.8 L1829.8 544.6 L1830.6 544.4 L1831.2 544.0 L1831.4 543.8 L1832.1 543.3 L1832.9 543.1 L1833.6 542.7 L1834.4 542.0 L1835.1 541.6 L1835.8 540.8 L1836.5 540.1 L1837.2 539.5 L1837.9 539.0 L1838.6 538.5 L1839.3 537.8 L1840.0 537.3 L1840.6 536.8 L1841.3 536.0 L1841.9 535.2 L1842.5 534.7 L1842.8 534.5 L1843.1 534.2 L1843.7 533.3 L1844.3 532.7 L1844.9 532.2 L1845.4 531.5 L1846.0 530.7 L1846.6 529.8 L1847.1 529.2 L1847.7 528.4 L1848.2 527.6 L1848.7 526.9 L1849.2 526.3 L1849.7 525.6 L1850.2 524.7 L1850.7 524.1 L1851.2 523.2 L1851.5 522.6 L1851.7 522.3 L1852.2 521.7 L1852.6 521.0 L1853.0 520.3 L1853.5 519.3 L1853.9 518.5 L1854.3 517.7 L1854.7 516.9 L1855.1 516.1 L1855.5 515.1 L1855.9 514.3 L1856.3 513.6 L1856.7 512.8 L1857.1 512.1 L1857.5 511.0 L1857.9 510.4 L1858.4 509.6 L1858.8 508.6 L1859.3 508.0 L1859.8 507.3 L1860.2 506.7 L1860.3 506.7 L1860.9 506.0 L1861.4 505.3 L1862.0 504.5 L1862.6 503.7 L1863.2 503.0 L1863.8 502.4 L1864.5 501.8 L1865.2 501.2 L1865.8 500.7 L1866.5 500.2 L1867.3 499.7 L1867.3 499.6 L1868.0 499.1 L1868.8 498.6 L1869.7 498.1 L1870.6 497.6 L1871.4 497.5 L1872.3 497.4 L1873.1 497.4 L1873.1 497.5 L1873.9 497.5 L1874.7 497.7 L1875.5 498.1 L1876.3 498.6 L1877.1 499.2 L1877.8 499.8 L1878.5 500.5 L1878.9 501.0 L1879.1 501.4 L1879.7 502.1 L1880.2 502.5 L1880.8 503.0 L1881.3 503.8 L1881.8 504.7 L1882.3 505.6 L1882.8 506.2 L1883.2 506.9 L1883.7 507.8 L1884.1 508.7 L1884.5 509.5 L1885.0 510.2 L1885.4 511.0 L1885.8 511.8 L1886.1 512.4 L1886.2 512.7 L1886.6 513.5 L1887.0 514.5 L1887.4 515.3 L1887.8 515.9 L1888.1 516.9 L1888.5 517.8 L1888.9 518.3 L1889.2 519.0 L1889.6 519.9 L1889.9 520.8 L1890.3 521.5 L1890.6 522.6 L1891.0 523.5 L1891.3 524.3 L1891.6 525.1 L1891.9 526.0 L1892.2 526.8 L1892.6 527.5 L1892.9 528.4 L1893.2 529.4 L1893.4 530.1 L1893.5 530.2 L1893.7 531.3 L1894.0 532.1 L1894.3 532.8 L1894.5 533.6 L1894.8 534.5 L1895.0 535.4 L1895.3 536.3 L1895.5 537.0 L1895.8 537.8 L1896.0 538.7 L1896.3 539.6 L1896.5 540.5 L1896.8 541.4 L1897.0 542.3 L1897.3 543.3 L1897.6 544.0 L1897.8 544.5 L1897.9 544.7 L1898.2 545.7 L1898.5 546.7 L1898.8 547.5 L1899.1 548.3 L1899.4 549.1 L1899.7 549.9 L1900.1 550.7 L1900.4 551.6 L1900.7 552.4 L1901.1 553.3 L1901.4 554.2 L1901.8 555.0 L1902.1 555.8 L1902.5 556.7 L1902.9 557.4 L1903.2 558.2 L1903.6 559.3 L1904.0 560.0 L1904.4 560.5 L1904.8 561.4 L1905.2 562.3 L1905.6 563.0 L1906.0 563.8 L1906.4 564.6 L1906.5 564.9 L1906.8 565.6 L1907.2 566.6 L1907.7 567.2 L1908.1 567.9 L1908.6 568.7 L1909.0 569.4 L1909.5 570.3 L1910.0 571.0 L1910.5 571.5 L1910.9 572.3 L1911.4 573.3 L1911.9 574.2 L1912.5 574.8 L1913.0 575.6 L1913.5 576.5 L1914.0 577.0 L1914.5 577.6 L1915.1 578.4 L1915.6 579.3 L1916.2 580.1 L1916.7 580.8 L1917.3 581.4 L1917.8 582.1 L1918.1 582.5 L1918.4 582.8 L1919.0 583.4 L1919.6 584.2 L1920.1 585.0 L1920.7 585.6 L1921.4 586.2 L1922.0 586.8 L1922.6 587.4 L1923.2 588.1 L1923.9 588.8 L1924.5 589.4 L1925.2 590.2 L1925.8 590.6 L1926.5 591.0 L1927.2 591.7 L1927.8 592.4 L1928.5 593.0 L1929.2 593.6 L1929.7 594.1 L1929.9 594.2 L1930.6 594.8 L1931.4 595.3 L1932.1 595.7 L1932.8 595.9 L1933.6 596.4 L1934.3 597.0 L1935.1 597.7 L1935.9 598.2 L1936.7 598.6 L1937.4 598.9 L1938.2 599.3 L1939.0 599.7 L1939.8 600.4 L1940.6 600.9 L1941.4 601.2 L1942.2 601.5 L1943.0 602.0 L1943.9 602.5 L1944.7 602.9 L1945.5 603.4 L1946.3 603.8 L1947.1 604.1 L1947.1 604.1 L1947.9 604.3 L1948.7 604.9 L1949.5 605.3 L1950.3 605.6 L1951.1 606.0 L1951.9 606.4 L1952.7 607.0 L1953.5 607.4 L1954.3 607.7 L1955.2 608.0 L1956.0 608.3 L1956.8 608.6 L1957.6 609.0 L1958.5 609.3 L1959.3 609.6 L1960.1 610.1 L1960.9 610.6 L1961.8 611.0 L1962.6 611.1 L1963.4 611.5 L1964.3 611.9 L1965.1 612.2 L1965.9 612.4 L1966.7 612.8 L1967.6 613.2 L1968.4 613.6 L1969.2 614.0 L1970.1 614.4 L1970.9 614.8 L1971.7 615.2 L1972.5 615.5 L1973.4 616.0 L1974.2 616.4 L1975.0 616.8 L1975.8 617.1 L1976.2 617.4 L1976.6 617.6 L1977.4 617.8 L1978.3 618.1 L1979.1 618.5 L1979.9 618.9 L1980.7 619.3 L1981.5 619.9 L1982.3 620.2 L1983.1 620.5 L1983.9 620.9 L1984.7 621.2 L1985.5 621.5 L1986.4 622.1 L1987.2 622.6 L1988.0 622.8 L1988.8 623.3 L1989.6 623.9 L1990.4 624.3 L1991.2 624.6 L1992.0 625.0 L1992.8 625.6 L1993.6 626.0 L1994.5 626.4 L1995.3 626.5 L1996.1 626.7 L1996.9 627.3 L1997.8 627.5 L1998.6 628.0 L1999.4 628.2 L1999.4 628.1 L2000.2 628.5 L2001.1 628.8 L2001.9 629.1 L2002.8 629.4 L2003.6 629.8 L2004.4 630.2 L2005.3 630.5 L2006.1 630.9 L2007.0 631.2 L2007.8 631.3 L2008.7 631.7 L2009.5 632.2 L2010.4 632.6 L2011.2 632.7 L2012.1 632.9 L2013.0 633.3 L2013.8 633.6 L2014.7 633.8 L2015.5 634.1 L2016.4 634.5 L2017.3 634.5 L2018.1 634.8 L2019.0 635.1 L2019.9 635.3 L2020.7 635.6 L2021.6 635.8 L2022.5 635.9 L2022.7 636.2 L2023.3 636.3 L2024.2 636.4 L2025.1 636.6 L2025.9 636.8 L2026.8 637.1 L2027.7 637.3 L2028.6 637.5 L2029.5 637.7 L2030.3 637.8 L2031.2 638.0 L2032.1 638.0 L2033.0 638.2 L2033.9 638.3 L2034.8 638.6 L2035.7 638.9 L2036.6 639.1 L2037.4 639.1 L2038.3 639.5 L2039.2 639.6 L2040.1 639.6 L2041.0 639.8 L2041.9 640.1 L2042.8 640.3 L2043.7 640.4 L2044.6 640.4 L2045.5 640.4 L2045.9 640.5 L2046.4 640.4 L2047.3 640.6 L2048.1 640.8 L2049.0 640.7 L2049.9 640.7 L2050.8 640.9 L2051.7 640.9 L2052.6 640.9 L2053.5 641.0 L2054.4 641.2 L2055.3 641.1 L2056.2 641.3 L2057.1 641.4 L2058.0 641.2 L2058.9 641.2 L2059.8 641.4 L2060.7 641.5 L2061.6 641.6 L2062.5 641.6 L2063.4 641.8 L2064.3 641.8 L2065.2 641.8 L2066.1 641.8 L2067.0 641.9 L2067.9 641.9 L2068.8 641.8 L2069.7 641.9 L2070.6 641.9 L2071.5 642.0 L2072.4 642.2 L2073.3 642.2 L2074.2 642.2 L2075.1 642.4 L2076.0 642.4 L2076.9 642.3 L2077.8 642.4 L2077.9 642.4 L2078.7 642.4 L2079.6 642.4 L2080.5 642.7 L2081.4 642.6 L2082.3 642.6 L2083.2 642.7 L2084.1 642.8 L2085.0 642.9 L2085.9 642.7 L2086.8 642.9 L2087.7 643.2 L2088.6 643.1 L2089.5 643.1 L2090.4 643.1 L2091.3 643.3 L2092.2 643.3 L2093.1 643.1 L2094.0 643.3 L2094.9 643.4 L2095.8 643.6 L2096.7 643.7 L2097.6 643.5 L2098.5 643.5 L2099.4 643.7 L2100.3 643.6 L2101.2 643.7 L2102.1 643.8 L2103.0 643.9 L2103.9 643.8 L2104.8 643.9 L2105.7 644.0 L2106.6 644.1 L2107.5 644.2 L2108.4 644.2 L2109.3 644.2 L2110.2 644.2 L2111.1 644.1 L2112.0 644.1 L2112.9 644.1 L2113.8 644.2 L2114.7 644.4 L2115.6 644.5 L2116.5 644.5 L2117.4 644.7 L2118.3 644.9 L2119.2 644.8 L2120.1 644.9 L2121.0 645.0 L2121.4 645.0 L2121.9 644.9 L2122.8 644.8 L2123.7 644.9 L2124.6 644.9 L2125.5 644.9 L2126.4 645.1 L2127.3 645.1 L2128.2 645.1 L2129.1 645.4 L2130.0 645.4 L2130.9 645.2 L2131.8 645.2 L2132.7 645.3 L2133.6 645.6 L2134.5 645.5 L2135.4 645.3 L2136.3 645.4 L2137.2 645.7 L2138.1 645.7 L2139.0 645.8 L2139.9 645.7 L2140.8 645.6 L2141.7 645.9 L2142.6 645.8 L2143.5 645.8 L2144.4 645.9 L2145.3 645.9 L2146.2 646.1 L2147.1 646.0 L2148.0 646.0 L2148.9 646.2 L2149.8 646.2 L2150.7 646.1 L2151.6 646.1 L2152.5 646.2 L2153.4 646.4 L2154.3 646.3 L2155.2 646.5 L2156.1 646.5 L2157.0 646.5 L2157.9 646.3 L2158.8 646.3 L2159.7 646.3 L2160.6 646.4 L2161.5 646.5 L2162.4 646.7 L2163.3 646.8 L2164.2 646.8 L2165.0 646.7 L2165.1 646.8 L2166.0 646.8 L2166.9 646.7 L2167.8 646.8 L2168.7 646.9 L2169.6 646.8 L2170.6 646.9 L2171.5 647.1 L2172.4 647.1 L2173.3 647.0 L2174.2 647.2 L2175.2 647.2 L2176.1 647.1 L2177.0 647.2 L2177.9 647.3 L2178.9 647.1 L2179.8 647.2 L2180.7 647.3 L2181.6 647.3 L2182.5 647.4 L2183.4 647.4 L2184.3 647.4 L2185.2 647.5 L2186.1 647.7 L2187.0 647.6 L2187.9 647.6 L2188.8 647.7 L2189.6 647.7 L2190.5 647.9 L2191.4 648.0 L2192.2 648.1 L2193.1 648.2 L2193.9 648.3 L2194.1 648.3 L2194.8 648.5 L2195.7 648.8 L2196.6 649.2 L2197.5 649.9 L2198.1 650.3 L2198.4 650.6 L2198.5 650.8 L2198.8 651.7 L2199.1 652.5 L2199.4 653.4 L2199.6 654.3 L2199.8 655.5 L2200.0 656.7 L2200.2 658.0 L2200.3 659.2 L2200.5 660.3 L2200.6 661.4 L2200.7 662.3 L2200.9 663.1 L2201.0 663.8 L2201.2 664.1 L2201.3 664.3 L2201.3 664.4 L2201.4 664.2 L2201.6 663.8 L2201.7 663.0 L2201.8 662.1 L2201.9 661.1 L2202.0 660.0 L2202.1 658.7 L2202.2 657.4 L2202.3 656.0 L2202.4 654.7 L2202.5 653.5 L2202.6 652.4 L2202.8 651.7 L2202.9 650.8 L2203.1 650.1 L2203.3 649.7 L2203.4 649.7 L2203.5 649.7 L2203.8 649.5 L2204.1 649.5 L2204.6 649.7 L2205.1 649.6 L2205.7 649.8 L2206.3 649.8 L2207.0 649.9 L2207.8 649.7 L2208.6 649.7 L2209.4 649.7 L2210.4 649.8 L2211.3 649.7 L2212.4 649.9 L2213.4 650.1 L2214.5 650.0 L2215.7 649.9 L2216.8 650.1 L2218.1 650.2 L2219.3 650.2 L2220.6 650.6 L2221.9 650.4 L2223.2 650.6 L2224.6 650.6" fill="none" stroke="#ff00ff" stroke-width="4.8" stroke-linejoin="round" stroke-linecap="butt"/>
<path d="M1290.2 102.9 L1290.6 101.8 L1291.0 102.1 L1291.5 101.0 L1291.9 101.7 L1292.4 97.9 L1292.9 93.4 L1293.4 97.8 L1293.9 100.2 L1294.4 99.0 L1294.9 97.9 L1295.4 98.2 L1296.0 98.5 L1296.1 94.3 L1296.5 91.5 L1297.1 91.0 L1297.6 90.9 L1298.2 90.8 L1298.8 91.7 L1299.4 88.4 L1300.0 89.6 L1300.6 88.6 L1301.2 89.4 L1301.8 88.5 L1302.5 88.8 L1303.1 89.9 L1303.8 87.3 L1304.5 84.5 L1305.2 81.6 L1305.9 79.9 L1306.6 78.5 L1307.3 77.2 L1307.8 78.8 L1308.1 82.6 L1308.9 81.9 L1309.7 80.5 L1310.5 80.5 L1311.4 84.5 L1312.3 86.5 L1313.2 85.9 L1314.1 88.2 L1315.1 83.0 L1316.0 80.6 L1317.0 82.6 L1317.9 78.8 L1318.9 78.8 L1319.8 78.4 L1320.7 81.7 L1321.6 84.4 L1322.3 81.4 L1322.6 82.4 L1323.5 85.2 L1324.4 84.7 L1325.3 83.1 L1326.2 83.3 L1327.1 83.6 L1328.0 86.5 L1328.9 89.4 L1329.8 87.4 L1330.7 81.4 L1331.6 81.3 L1332.5 85.9 L1333.4 85.1 L1334.3 84.5 L1335.2 82.7 L1336.1 80.4 L1337.0 81.2 L1337.9 77.6 L1338.8 76.7 L1339.7 76.6 L1340.6 76.6 L1341.5 83.8 L1342.4 83.4 L1342.6 82.2 L1343.3 81.2 L1344.2 81.0 L1345.1 82.5 L1346.0 84.6 L1346.9 86.8 L1347.8 82.7 L1348.7 78.7 L1349.6 78.0 L1350.5 81.7 L1351.3 81.4 L1352.2 82.7 L1353.1 85.2 L1354.0 84.0 L1354.9 82.3 L1355.8 83.3 L1356.7 85.3 L1357.5 88.8 L1358.4 87.2 L1359.3 85.9 L1360.1 82.7 L1360.1 79.5 L1361.0 83.2 L1361.8 86.3 L1362.7 85.4 L1363.6 87.9 L1364.4 88.5 L1365.3 83.8 L1366.1 82.3 L1367.0 83.8 L1367.8 86.8 L1368.6 88.8 L1369.5 91.4 L1370.3 93.2 L1371.1 94.7 L1371.9 93.5 L1372.7 90.0 L1373.5 92.7 L1374.3 91.2 L1375.1 90.6 L1375.9 92.3 L1376.6 94.5 L1377.4 92.2 L1377.5 93.2 L1378.1 96.9 L1378.8 94.4 L1379.5 95.5 L1380.2 97.7 L1380.8 96.2 L1381.5 98.3 L1382.1 99.3 L1382.8 98.1 L1383.4 95.1 L1384.1 102.2 L1384.7 107.1 L1385.4 103.3 L1386.0 102.6 L1386.7 102.3 L1387.4 102.2 L1388.1 103.5 L1388.9 103.7 L1389.1 103.4 L1389.7 104.3 L1390.5 106.2 L1391.3 106.1 L1392.2 106.0 L1393.1 105.6 L1394.0 105.0 L1394.9 104.3 L1395.8 105.5 L1396.7 106.3 L1397.6 106.6 L1397.8 106.8 L1398.4 106.1 L1399.3 106.7 L1400.2 105.3 L1401.1 104.6 L1402.0 105.5 L1402.8 105.7 L1403.7 105.2 L1404.6 103.6 L1405.5 103.2 L1406.4 105.1 L1407.3 105.9 L1408.2 104.3 L1409.0 103.8 L1409.4 102.8 L1409.9 103.0 L1410.8 105.2 L1411.7 105.1 L1412.6 103.6 L1413.5 103.0 L1414.4 103.5 L1415.3 103.7 L1416.2 103.2 L1417.1 102.5 L1418.0 103.0 L1418.9 103.1 L1419.8 103.2 L1420.7 103.6 L1421.6 102.3 L1422.5 102.4 L1423.4 102.5 L1424.3 102.5 L1425.2 103.5 L1426.1 103.7 L1426.9 103.5 L1427.0 102.0 L1427.9 102.4 L1428.8 103.1 L1429.7 102.9 L1430.6 102.6 L1431.5 102.4 L1432.4 102.5 L1433.3 103.5 L1434.2 102.0 L1435.1 101.7 L1436.0 102.9 L1436.9 103.1 L1437.8 103.6 L1438.7 103.5 L1439.6 104.3 L1440.5 103.3 L1441.4 102.2 L1442.3 102.6 L1443.2 103.3 L1444.1 104.8 L1444.3 103.4 L1445.0 102.9 L1445.9 103.2 L1446.8 104.3 L1447.7 105.2 L1448.6 104.6 L1449.5 104.8 L1450.4 104.0 L1451.3 103.9 L1452.2 102.9 L1453.0 104.0 L1453.9 106.0 L1454.8 106.0 L1455.7 105.1 L1456.5 104.3 L1457.4 105.6 L1458.2 107.1 L1458.8 105.7 L1459.1 105.6 L1459.9 107.1 L1460.7 106.0 L1461.6 105.3 L1462.4 107.3 L1463.2 108.5 L1464.0 108.5 L1464.8 108.8 L1465.6 109.2 L1466.4 109.0 L1467.1 109.3 L1467.9 111.4 L1468.7 111.9 L1469.5 111.9 L1470.2 110.5 L1471.0 112.6 L1471.8 113.3 L1472.6 113.8 L1473.3 113.8 L1473.3 112.9 L1474.1 114.9 L1474.9 115.5 L1475.6 116.1 L1476.4 116.9 L1477.2 118.2 L1478.0 118.2 L1478.7 117.5 L1479.5 118.5 L1480.2 120.0 L1481.0 120.0 L1481.8 120.4 L1482.5 119.8 L1483.3 120.3 L1484.0 121.4 L1484.8 120.8 L1485.5 121.4 L1486.2 122.4 L1487.0 122.5 L1487.7 124.6 L1488.4 125.9 L1489.2 126.1 L1489.9 125.9 L1490.6 125.2 L1490.8 125.3 L1491.3 125.3 L1492.0 125.0 L1492.7 125.3 L1493.4 127.3 L1494.0 128.4 L1494.7 129.6 L1495.4 130.1 L1496.0 129.9 L1496.7 131.2 L1497.3 132.4 L1498.0 132.8 L1498.7 132.6 L1499.3 131.7 L1500.0 132.5" fill="none" stroke="#0000ff" stroke-width="4.8" stroke-linejoin="round" stroke-linecap="butt"/>
<path d="M1289.8 105.4 L1290.2 104.4 L1290.6 103.7 L1291.0 102.9 L1291.5 103.5 L1291.9 103.6 L1292.4 101.8 L1292.9 99.5 L1293.4 96.8 L1293.9 98.6 L1294.4 98.1 L1294.9 100.3 L1295.4 99.0 L1296.0 93.5 L1296.1 96.7 L1296.5 93.2 L1297.1 90.5 L1297.6 91.9 L1298.2 93.8 L1298.8 96.8 L1299.4 97.0 L1300.0 88.1 L1300.6 87.1 L1301.2 88.4 L1301.8 84.8 L1302.5 81.5 L1303.1 83.8 L1303.8 85.4 L1304.5 85.5 L1305.2 84.8 L1305.9 87.4 L1306.6 86.2 L1307.3 85.0 L1307.8 79.4 L1308.1 77.2 L1308.9 83.7 L1309.7 85.8 L1310.5 85.8 L1311.4 84.3 L1312.3 82.7 L1313.2 83.6 L1314.1 85.4 L1315.1 82.3 L1316.0 82.2 L1317.0 83.6 L1317.9 86.4 L1318.9 89.2 L1319.8 86.4 L1320.7 89.9 L1321.6 86.3 L1322.3 83.5 L1322.6 83.3 L1323.5 87.1 L1324.4 88.0 L1325.3 82.7 L1326.2 82.3 L1327.1 82.4 L1328.0 81.1 L1328.9 80.8 L1329.8 84.4 L1330.7 86.1 L1331.6 84.4 L1332.5 82.6 L1333.4 84.4 L1334.3 86.5 L1335.2 86.2 L1336.1 86.1 L1337.0 84.4 L1337.9 85.8 L1338.8 85.2 L1339.7 82.2 L1340.6 81.8 L1341.5 81.4 L1342.4 82.9 L1342.6 83.0 L1343.3 83.2 L1344.2 82.7 L1345.1 82.2 L1346.0 83.2 L1346.9 80.9 L1347.8 80.5 L1348.7 77.1 L1349.6 79.7 L1350.5 84.6 L1351.3 84.2 L1352.2 83.9 L1353.1 80.8 L1354.0 78.8 L1354.9 80.6 L1355.8 83.6 L1356.7 85.5 L1357.5 91.1 L1358.4 91.9 L1359.3 88.9 L1360.1 84.6 L1360.1 85.2 L1361.0 84.6 L1361.8 84.3 L1362.7 85.4 L1363.6 86.5 L1364.4 86.5 L1365.3 85.6 L1366.1 82.6 L1367.0 85.8 L1367.8 90.3 L1368.6 89.8 L1369.5 86.6 L1370.3 89.3 L1371.1 89.4 L1371.9 87.4 L1372.7 90.6 L1373.5 92.6 L1374.3 93.6 L1375.1 96.2 L1375.9 92.9 L1376.6 93.7 L1377.4 95.4 L1377.5 94.9 L1378.1 93.7 L1378.8 95.8 L1379.5 98.5 L1380.2 102.3 L1380.8 101.9 L1381.5 99.5 L1382.1 100.6 L1382.8 97.6 L1383.4 100.6 L1384.1 102.8 L1384.7 98.1 L1385.4 101.8 L1386.0 102.5 L1386.7 102.3 L1387.4 103.2 L1388.1 102.9 L1388.9 104.2 L1389.1 104.4 L1389.7 104.6 L1390.5 104.0 L1391.3 105.2 L1392.2 105.7 L1393.1 105.2 L1394.0 106.4 L1394.9 106.0 L1395.8 108.0 L1396.7 108.1 L1397.6 106.6 L1397.8 107.4 L1398.4 107.0 L1399.3 106.6 L1400.2 105.9 L1401.1 104.5 L1402.0 105.1 L1402.8 105.4 L1403.7 105.0 L1404.6 103.3 L1405.5 104.4 L1406.4 105.1 L1407.3 104.2 L1408.2 104.5 L1409.0 104.5 L1409.4 103.9 L1409.9 104.2 L1410.8 104.1 L1411.7 102.8 L1412.6 103.5 L1413.5 103.4 L1414.4 103.1 L1415.3 102.7 L1416.2 102.7 L1417.1 103.5 L1418.0 103.4 L1418.9 102.3 L1419.8 101.5 L1420.7 102.7 L1421.6 103.7 L1422.5 104.1 L1423.4 102.6 L1424.3 102.4 L1425.2 101.6 L1426.1 100.5 L1426.9 101.3 L1427.0 102.4 L1427.9 102.5 L1428.8 103.8 L1429.7 103.3 L1430.6 102.7 L1431.5 103.2 L1432.4 102.8 L1433.3 103.4 L1434.2 103.3 L1435.1 103.0 L1436.0 102.4 L1436.9 102.8 L1437.8 103.2 L1438.7 103.4 L1439.6 104.0 L1440.5 104.6 L1441.4 103.3 L1442.3 102.7 L1443.2 103.5 L1444.1 103.5 L1444.3 104.3 L1445.0 103.3 L1445.9 102.8 L1446.8 103.4 L1447.7 102.8 L1448.6 103.4 L1449.5 104.0 L1450.4 103.0 L1451.3 103.9 L1452.2 104.2 L1453.0 104.8 L1453.9 105.8 L1454.8 105.8 L1455.7 105.8 L1456.5 105.7 L1457.4 106.9 L1458.2 106.3 L1458.8 105.2 L1459.1 106.5 L1459.9 106.2 L1460.7 107.3 L1461.6 106.9 L1462.4 108.0 L1463.2 109.0 L1464.0 108.6 L1464.8 109.2 L1465.6 109.4 L1466.4 109.0 L1467.1 111.2 L1467.9 111.2 L1468.7 111.5 L1469.5 112.2 L1470.2 113.0 L1471.0 112.6 L1471.8 112.4 L1472.6 113.4 L1473.3 112.7 L1473.3 113.7 L1474.1 113.7 L1474.9 115.6 L1475.6 116.3 L1476.4 116.0 L1477.2 116.1 L1478.0 116.5 L1478.7 116.9 L1479.5 118.3 L1480.2 119.2 L1481.0 119.5 L1481.8 118.7 L1482.5 118.9 L1483.3 119.2 L1484.0 118.8 L1484.8 119.8 L1485.5 122.1 L1486.2 123.3 L1487.0 122.6 L1487.7 123.0 L1488.4 124.4 L1489.2 123.6 L1489.9 124.8 L1490.6 124.5 L1490.8 125.6 L1491.3 126.4 L1492.0 127.2 L1492.7 127.5 L1493.4 127.5 L1494.0 128.0 L1494.7 128.8 L1495.4 130.0 L1496.0 129.9 L1496.7 131.3 L1497.3 131.2 L1498.0 131.4 L1498.7 133.1 L1499.3 132.4 L1500.0 132.7 L1500.6 134.5 L1501.3 135.3 L1501.9 136.0 L1502.6 136.6 L1503.3 137.0 L1504.0 137.6 L1504.6 138.1 L1505.3 138.5 L1505.3 138.6 L1506.0 139.1 L1506.8 139.8 L1507.5 140.3 L1508.3 140.9 L1509.1 141.5 L1509.9 142.1 L1510.8 142.6 L1511.6 142.9 L1512.4 143.5 L1513.2 144.1 L1513.9 144.4 L1514.7 144.9 L1515.4 145.6 L1516.0 146.2 L1516.7 146.7 L1517.2 147.4 L1517.8 147.9 L1518.2 148.4 L1518.4 148.8 L1518.6 149.4 L1519.0 150.2 L1519.3 151.0 L1519.6 151.7 L1519.9 152.4 L1520.2 153.3 L1520.5 154.1 L1520.8 155.0 L1521.0 156.0 L1521.3 156.9 L1521.5 157.8 L1521.7 158.6 L1522.0 159.6 L1522.3 160.7 L1522.5 161.6 L1522.7 162.1 L1522.8 162.5 L1523.1 163.3 L1523.4 164.0 L1523.7 164.9 L1524.0 166.0 L1524.3 166.5 L1524.7 167.3 L1525.0 168.3 L1525.3 169.2 L1525.6 170.0 L1525.9 170.6 L1526.2 171.5 L1526.5 172.4 L1526.9 173.2 L1527.2 174.3 L1527.5 175.0 L1527.8 175.7 L1528.1 176.7 L1528.4 177.7 L1528.7 178.6 L1529.0 179.3 L1529.3 180.1 L1529.5 181.0 L1529.8 181.9 L1530.0 182.4 L1530.1 182.8 L1530.4 183.5 L1530.6 184.3 L1530.9 185.3 L1531.2 186.2 L1531.4 186.8 L1531.7 187.7 L1531.9 188.5 L1532.2 189.5 L1532.4 190.4 L1532.7 191.2 L1532.9 192.2 L1533.2 193.0 L1533.4 193.8 L1533.7 194.7 L1533.9 195.7 L1534.2 196.5 L1534.4 197.4 L1534.6 198.3 L1534.9 199.1 L1535.1 199.8 L1535.3 200.8 L1535.6 201.6 L1535.8 202.6 L1536.0 203.6 L1536.2 204.5 L1536.4 205.2 L1536.7 206.0 L1536.9 206.9 L1537.1 207.8 L1537.2 208.6 L1537.3 208.9 L1537.5 209.7 L1537.7 210.5 L1537.9 211.2 L1538.1 212.2 L1538.3 213.2 L1538.5 214.2 L1538.7 215.0 L1538.9 215.8 L1539.1 216.5 L1539.3 217.4 L1539.5 218.3 L1539.7 219.5 L1539.8 220.4 L1540.0 221.2 L1540.2 222.1 L1540.4 222.9 L1540.6 223.7 L1540.8 224.4 L1540.9 225.4 L1541.1 226.3 L1541.3 227.3 L1541.5 228.2 L1541.6 229.0 L1541.8 230.0 L1542.0 230.8 L1542.2 231.6 L1542.3 232.4 L1542.5 233.3 L1542.7 234.2 L1542.9 235.1 L1543.0 236.0 L1543.2 236.9 L1543.4 237.9 L1543.6 238.8 L1543.7 239.6 L1543.9 240.5 L1544.1 241.3 L1544.3 242.2 L1544.5 243.0 L1544.5 243.4 L1544.6 244.1 L1544.8 245.0 L1545.0 245.9 L1545.2 246.7 L1545.4 247.4 L1545.6 248.4 L1545.8 249.2 L1546.0 250.3 L1546.1 251.2 L1546.3 251.8 L1546.5 252.7 L1546.7 253.8 L1546.9 254.7 L1547.1 255.6 L1547.3 256.3 L1547.5 257.1 L1547.7 258.2 L1547.8 259.1 L1548.0 259.8 L1548.2 260.7 L1548.4 261.7 L1548.6 262.4 L1548.7 263.1 L1548.9 264.1 L1549.1 265.2 L1549.3 266.2 L1549.4 267.0 L1549.6 267.7 L1549.7 268.6 L1549.9 269.3 L1550.0 270.3 L1550.2 271.1 L1550.3 272.2 L1550.3 272.4 L1550.4 273.0 L1550.6 274.0 L1550.7 274.9 L1550.8 275.8 L1550.9 276.6 L1551.0 277.6 L1551.1 278.6 L1551.3 279.5 L1551.4 280.2 L1551.5 281.2 L1551.6 282.0 L1551.7 283.0 L1551.8 283.8 L1551.8 284.5 L1551.9 285.5 L1552.0 286.4 L1552.1 287.3 L1552.2 288.3 L1552.3 289.2 L1552.4 290.2 L1552.5 291.1 L1552.5 292.0 L1552.6 292.9 L1552.7 293.7 L1552.8 294.5 L1552.9 295.3 L1552.9 296.3 L1553.0 297.4 L1553.1 298.4 L1553.2 299.3 L1553.3 300.3 L1553.4 301.1 L1553.4 301.9 L1553.5 302.9 L1553.6 303.8 L1553.7 304.5 L1553.8 305.3 L1553.9 306.3 L1554.0 307.2 L1554.1 308.1 L1554.2 309.0 L1554.3 309.8 L1554.4 310.7 L1554.5 311.5 L1554.6 312.4 L1554.7 313.5 L1554.8 314.6 L1554.9 315.5 L1555.0 316.3 L1555.2 317.0 L1555.3 318.0 L1555.4 319.0 L1555.6 319.9 L1555.7 320.7 L1555.8 321.5 L1556.0 322.4 L1556.1 323.2 L1556.1 323.1 L1556.3 324.1 L1556.5 325.1 L1556.6 325.9 L1556.8 326.8 L1557.0 327.7 L1557.2 328.5 L1557.4 329.2 L1557.7 330.3 L1557.9 331.2 L1558.1 332.2 L1558.4 333.1 L1558.6 333.9 L1558.9 334.7 L1559.2 335.6 L1559.4 336.5 L1559.7 337.3 L1560.0 338.1 L1560.3 339.1 L1560.6 340.1 L1560.9 340.9 L1561.2 341.6 L1561.5 342.3 L1561.8 343.0 L1561.9 343.4 L1562.1 344.0 L1562.5 344.8 L1563.0 345.6 L1563.5 346.4 L1564.1 347.1 L1564.6 348.1 L1565.1 349.0 L1565.6 349.8 L1565.9 350.4 L1566.2 351.1 L1566.3 351.9 L1566.3 352.2 L1566.3 353.1 L1566.3 354.0 L1566.3 354.7 L1566.3 355.5 L1566.3 356.3 L1566.3 357.2 L1566.3 358.1 L1566.3 359.2 L1566.3 360.2 L1566.3 361.0 L1566.3 361.8 L1566.3 362.6 L1566.3 363.6 L1566.3 364.6 L1566.3 365.5 L1566.3 366.5 L1566.3 366.9 L1566.3 367.3 L1566.3 368.2 L1566.4 369.0 L1566.5 370.0 L1566.7 370.8 L1566.9 371.5 L1567.1 372.4 L1567.3 373.3 L1567.5 374.4 L1567.8 375.4 L1568.1 376.1 L1568.4 376.8 L1568.7 377.6 L1569.0 378.5 L1569.3 379.6 L1569.6 380.4 L1570.0 381.2 L1570.3 382.1 L1570.6 383.0 L1570.9 383.8 L1571.3 384.8 L1571.6 385.6 L1571.9 386.3 L1572.1 387.1 L1572.1 387.3 L1572.4 388.1 L1572.7 389.0 L1573.0 389.8 L1573.3 390.8 L1573.5 391.6 L1573.8 392.4 L1574.1 393.3 L1574.4 394.3 L1574.7 395.0 L1575.0 395.7 L1575.3 396.8 L1575.6 397.6 L1575.9 398.3 L1576.2 399.1 L1576.5 400.1 L1576.9 400.9 L1577.2 401.6 L1577.5 402.3 L1577.8 403.3 L1578.1 404.3 L1578.4 405.3 L1578.8 406.0 L1579.1 406.7 L1579.4 407.5 L1579.4 407.7 L1579.7 408.5 L1580.1 409.4 L1580.4 410.2 L1580.7 410.8 L1581.0 411.7 L1581.4 412.7 L1581.7 413.6 L1582.0 414.3 L1582.3 414.9 L1582.7 415.8 L1583.0 416.6 L1583.4 417.9 L1583.7 418.7 L1584.1 419.5 L1584.4 420.2 L1584.8 420.9 L1585.1 421.8 L1585.5 422.6 L1585.9 423.4 L1586.3 424.0 L1586.6 424.8 L1586.7 425.2 L1587.1 426.0 L1587.5 426.8 L1588.0 427.9 L1588.4 428.9 L1588.9 430.0 L1589.4 431.1 L1589.9 431.8 L1590.3 432.5 L1590.8 433.1 L1591.3 433.5 L1591.8 433.7 L1591.9 433.5 L1592.3 433.2 L1592.9 432.4 L1593.6 431.5 L1594.1 430.6 L1594.5 429.6 L1594.8 429.2 L1594.8 429.3 L1594.9 429.3 L1595.0 429.6 L1595.1 430.0 L1595.1 430.4 L1595.2 431.2 L1595.2 432.1 L1595.3 433.0 L1595.3 433.9 L1595.3 435.1 L1595.4 435.9 L1595.4 436.9 L1595.4 438.1 L1595.5 439.3 L1595.5 440.6 L1595.5 441.8 L1595.6 443.1 L1595.6 444.3 L1595.7 445.4 L1595.8 446.3 L1595.8 447.3 L1595.9 448.2 L1595.9 448.3 L1596.1 449.0 L1596.3 449.9 L1596.5 450.7 L1596.8 451.4 L1597.2 452.2 L1597.6 453.1 L1598.0 453.9 L1598.5 454.7 L1599.0 455.6 L1599.5 456.3 L1600.1 457.2 L1600.6 458.0 L1601.2 458.6 L1601.7 459.4 L1602.3 460.2 L1602.8 460.9 L1603.3 461.6 L1603.9 462.2 L1604.1 462.5 L1604.4 463.1 L1604.9 464.0 L1605.4 464.5 L1605.9 465.1 L1606.4 466.0 L1606.9 466.7 L1607.5 467.2 L1608.0 468.0 L1608.6 468.8 L1609.1 469.7 L1609.7 470.5 L1610.3 471.2 L1610.9 471.9 L1611.4 472.6 L1612.0 473.1 L1612.6 473.8 L1613.2 474.5 L1613.8 475.2 L1614.4 475.7 L1615.0 476.5 L1615.6 477.2 L1615.7 477.1 L1616.3 477.6 L1616.9 478.4 L1617.5 479.3 L1618.1 479.8 L1618.8 480.4 L1619.4 481.1 L1620.0 481.8 L1620.7 482.5 L1621.3 483.0 L1622.0 483.6 L1622.7 484.3 L1623.3 484.9 L1624.0 485.4 L1624.7 486.3 L1625.4 487.0 L1626.1 487.4 L1626.8 487.8 L1627.5 488.3 L1628.2 488.9 L1628.9 489.3 L1629.6 489.9 L1630.2 490.3 L1630.4 490.3 L1631.1 490.7 L1631.9 491.3 L1632.7 491.8 L1633.4 492.2 L1634.2 492.7 L1635.0 493.1 L1635.8 493.3 L1636.6 493.8 L1637.5 494.3 L1638.3 494.6 L1639.1 494.8 L1639.9 495.1 L1640.8 495.5 L1641.6 495.8 L1642.5 496.2 L1643.3 496.6 L1644.2 497.0 L1645.0 497.2 L1645.9 497.5 L1646.7 497.8 L1647.6 498.3 L1648.4 498.6 L1649.3 498.8 L1650.1 499.1 L1651.0 499.5 L1651.1 499.5 L1651.8 499.8 L1652.7 500.3 L1653.5 500.5 L1654.3 500.8 L1655.2 501.1 L1656.0 501.5 L1656.9 501.8 L1657.7 501.8 L1658.6 502.1 L1659.5 502.6 L1660.3 502.9 L1661.2 503.3 L1662.0 503.6 L1662.9 503.7 L1663.7 503.9 L1664.6 504.3 L1665.5 504.3 L1666.3 504.6 L1667.2 505.0 L1668.1 505.1 L1668.5 505.1 L1668.9 505.3 L1669.8 505.7 L1670.7 506.0 L1671.6 506.2 L1672.5 506.3 L1673.4 506.3 L1674.4 506.6 L1675.3 507.0 L1676.2 507.1 L1677.1 507.3 L1678.0 507.3 L1679.0 507.5 L1679.8 507.8 L1680.7 507.9 L1681.6 508.0 L1682.4 508.4 L1683.3 508.4 L1684.1 508.7 L1684.8 509.2 L1685.6 509.7 L1685.9 510.0 L1686.3 510.0 L1687.0 510.5 L1687.6 511.2 L1688.2 511.9 L1688.8 512.6 L1689.4 513.5 L1690.1 514.1 L1690.3 514.1 L1690.8 514.5 L1691.5 514.7 L1692.3 514.9 L1693.1 515.1 L1693.9 515.3 L1694.8 515.7 L1695.7 515.8 L1696.5 516.1 L1697.4 516.4 L1698.3 516.7 L1699.2 516.7 L1700.2 516.7 L1701.1 516.9 L1702.0 517.2 L1702.9 517.4 L1703.9 517.5 L1704.8 517.6 L1705.7 517.6 L1706.6 517.7 L1707.5 518.1 L1708.4 518.5 L1709.2 518.4 L1709.3 518.4 L1710.2 518.6 L1711.1 518.7 L1712.0 519.1 L1712.9 519.4 L1713.8 519.4 L1714.6 519.4 L1715.5 519.4 L1716.4 519.8 L1717.3 520.0 L1718.2 520.1 L1719.1 520.2 L1720.0 520.3 L1720.9 520.4 L1721.8 520.6 L1722.6 520.6 L1723.5 520.7 L1724.4 521.0 L1725.3 521.2 L1726.2 521.1 L1726.6 521.1 L1727.1 521.3 L1728.0 521.5 L1728.9 521.6 L1729.9 521.5 L1730.8 521.7 L1731.7 521.9 L1732.6 522.2 L1733.6 522.2 L1734.5 522.4 L1735.4 522.5 L1736.3 522.5 L1737.1 522.7 L1738.0 522.7 L1738.8 522.6 L1739.6 522.7 L1739.7 522.7 L1740.5 522.7 L1741.3 522.1 L1742.2 521.5 L1743.1 520.8 L1743.9 520.1 L1744.7 519.3 L1745.3 518.5 L1745.9 518.3 L1746.3 518.1 L1746.3 517.7 L1746.5 517.9 L1746.7 518.8 L1746.8 520.0 L1746.9 521.3 L1747.1 522.3 L1747.2 523.3 L1747.4 524.2 L1747.5 524.2 L1747.6 524.1 L1748.0 524.2 L1748.5 524.3 L1749.0 524.4 L1749.7 524.7 L1750.4 524.8 L1751.3 524.8 L1752.1 524.9 L1753.1 525.2 L1754.1 525.3 L1755.1 525.3 L1756.2 525.4 L1757.3 525.5 L1758.4 525.5 L1759.5 525.5 L1760.6 525.4 L1761.7 525.3 L1762.8 525.4 L1763.9 525.4 L1764.9 525.3 L1765.9 525.5 L1766.8 525.6 L1767.2 525.6 L1767.7 525.6 L1768.6 525.7 L1769.5 525.7 L1770.4 525.6 L1771.3 525.7 L1772.2 525.9 L1773.1 526.0 L1774.0 526.1 L1774.9 526.2 L1775.8 526.2 L1776.7 526.2 L1777.6 526.2 L1778.5 526.2 L1779.4 526.2 L1780.3 526.3 L1781.2 526.3 L1782.1 526.4 L1783.0 526.3 L1783.9 526.4 L1784.8 526.5 L1785.7 526.4 L1786.6 526.4 L1787.5 526.4 L1788.4 526.5 L1789.4 526.6 L1790.3 526.5 L1790.5 526.5 L1791.2 526.5 L1792.1 526.4 L1793.0 526.4 L1793.9 526.6 L1794.8 526.6 L1795.7 526.4 L1796.6 526.4 L1797.5 526.4 L1798.4 526.4 L1799.3 526.6 L1800.2 526.5 L1801.1 526.5 L1802.0 526.5 L1802.9 526.3 L1803.8 526.3 L1804.7 526.5 L1805.6 526.6 L1806.5 526.4 L1807.4 526.6 L1808.3 526.8 L1809.2 526.8 L1810.1 526.7 L1811.0 526.7 L1811.9 526.5 L1812.8 526.6 L1813.7 526.5 L1813.7 526.6 L1814.6 526.6 L1815.5 526.5 L1816.4 526.6 L1817.3 526.6 L1818.2 526.8 L1819.1 526.7 L1820.0 526.6 L1820.9 526.7 L1821.8 526.8 L1822.7 526.7 L1823.6 526.6 L1824.5 526.6 L1825.4 526.7 L1826.3 526.7 L1827.2 526.6 L1828.1 526.5 L1829.0 526.5 L1829.9 526.5 L1830.8 526.5 L1831.2 526.5 L1831.7 526.5 L1832.6 526.4 L1833.5 526.3 L1834.4 526.6 L1835.3 526.5 L1836.2 526.4 L1837.1 526.3 L1838.0 526.2 L1838.9 526.2 L1839.8 526.1 L1840.7 525.9 L1841.6 525.9 L1842.5 525.7 L1842.8 525.6 L1843.3 525.6 L1844.2 525.4 L1845.0 525.3 L1845.8 525.1 L1846.7 524.7 L1847.5 524.1 L1848.3 523.6 L1849.1 523.3 L1849.9 522.9 L1850.8 522.2 L1851.6 521.9 L1852.4 521.5 L1852.9 521.2 L1853.2 521.3 L1854.1 521.1 L1854.9 520.7 L1855.8 520.0 L1856.6 519.5 L1857.5 519.3 L1858.3 518.9 L1859.2 518.7 L1860.0 518.5 L1860.9 518.2 L1861.7 517.7 L1862.6 517.8 L1863.1 517.8 L1863.5 517.8 L1864.4 518.0 L1865.3 518.0 L1866.2 518.0 L1867.1 518.1 L1868.0 518.4 L1868.9 518.4 L1869.8 518.6 L1870.6 518.9 L1871.5 518.9 L1871.6 519.0 L1872.4 519.3 L1873.3 519.6 L1874.1 519.6 L1875.0 519.9 L1875.9 520.3 L1876.7 520.5 L1877.6 520.6 L1878.5 520.8 L1879.3 521.1 L1880.2 521.5 L1881.0 521.9 L1881.8 522.3 L1882.7 522.6 L1883.2 522.7 L1883.5 523.0 L1884.3 523.3 L1885.2 523.7 L1886.0 524.0 L1886.8 524.3 L1887.6 524.9 L1888.4 525.2 L1889.2 525.6 L1890.0 526.2 L1890.7 526.7 L1891.5 526.9 L1892.3 527.3 L1893.2 527.7 L1894.0 528.2 L1894.8 528.6 L1894.9 528.8 L1895.6 529.2 L1896.4 529.4 L1897.3 529.8 L1898.1 530.1 L1898.9 530.3 L1899.8 530.5 L1900.6 530.9 L1901.5 531.3 L1902.3 531.7 L1903.2 531.7 L1904.0 532.1 L1904.9 532.5 L1905.7 532.7 L1906.5 532.8 L1906.6 532.8 L1907.4 533.2 L1908.3 533.5 L1909.2 533.8 L1910.0 534.1 L1910.9 534.1 L1911.8 534.3 L1912.7 534.6 L1913.5 534.9 L1914.4 535.0 L1915.3 535.2 L1916.2 535.4 L1917.0 535.7 L1917.9 535.7 L1918.8 535.8 L1919.7 536.2 L1920.6 536.4 L1921.4 536.5 L1922.3 536.9 L1923.2 537.1 L1924.1 537.3 L1925.0 537.3 L1925.9 537.4 L1926.8 537.7 L1927.7 538.0 L1928.5 538.3 L1929.4 538.5 L1930.3 538.6 L1931.2 538.7 L1932.1 538.7 L1932.6 538.9 L1933.0 539.0 L1933.9 539.1 L1934.7 539.1 L1935.6 539.2 L1936.5 539.3 L1937.4 539.4 L1938.3 539.5 L1939.2 539.6 L1940.1 539.9 L1941.0 540.0 L1941.9 540.1 L1942.8 540.2 L1943.6 540.2 L1944.5 540.5 L1945.4 540.7 L1946.3 540.8 L1947.2 540.7 L1948.1 540.8 L1949.0 541.1 L1949.9 541.1 L1950.8 541.1 L1951.7 541.3 L1952.6 541.2 L1953.5 541.4 L1954.4 541.7 L1955.3 541.8 L1956.2 541.9 L1957.1 542.0 L1958.0 542.0 L1958.9 542.1 L1959.8 542.3 L1960.7 542.6 L1961.6 542.7 L1962.5 542.5 L1963.3 542.7 L1964.2 542.9 L1965.1 542.9 L1966.0 543.1 L1966.9 543.1 L1967.8 543.2 L1968.7 543.4 L1969.6 543.6 L1970.5 543.5 L1971.4 543.3 L1972.3 543.5 L1973.2 543.6 L1974.1 543.8 L1975.0 543.9 L1975.9 544.0 L1976.2 544.2 L1976.8 544.2 L1977.7 544.3 L1978.6 544.2 L1979.5 544.4 L1980.4 544.5 L1981.3 544.5 L1982.2 544.6 L1983.1 544.7 L1984.0 544.8 L1984.9 545.0 L1985.8 545.1 L1986.6 545.1 L1987.5 545.1 L1988.4 545.1 L1989.3 545.3 L1990.2 545.4 L1991.1 545.6 L1992.0 546.0 L1992.9 545.8 L1993.8 545.9 L1994.7 545.9 L1995.6 546.0 L1996.5 546.2 L1997.4 546.2 L1998.3 546.3 L1999.2 546.3 L2000.1 546.3 L2001.0 546.4 L2001.9 546.8 L2002.8 546.7 L2003.7 546.8 L2004.6 547.1 L2005.5 547.2 L2006.4 547.2 L2007.3 547.2 L2008.2 547.3 L2009.1 547.5 L2009.9 547.6 L2010.8 547.6 L2011.7 547.7 L2012.6 547.7 L2013.5 547.6 L2014.4 547.7 L2015.3 548.0 L2016.2 548.2 L2017.1 548.2 L2018.0 548.2 L2018.9 548.3 L2019.8 548.4 L2020.7 548.5 L2021.6 548.7 L2022.5 548.9 L2023.4 549.0 L2024.3 548.7 L2025.2 548.7 L2026.1 548.8 L2027.0 548.9 L2027.9 549.1 L2028.8 549.0 L2029.7 549.0 L2030.6 549.3 L2031.5 549.6 L2032.4 549.5 L2033.3 549.6 L2034.2 549.5 L2034.3 549.4 L2035.1 549.6 L2036.0 549.6 L2036.9 549.6 L2037.8 549.7 L2038.7 549.8 L2039.6 549.9 L2040.5 550.0 L2041.4 549.9 L2042.3 549.8 L2043.2 549.9 L2044.1 550.0 L2045.0 550.2 L2045.9 550.3 L2046.8 550.4 L2047.7 550.3 L2048.6 550.2 L2049.5 550.3 L2050.4 550.4 L2051.3 550.4 L2052.2 550.4 L2053.1 550.5 L2054.0 550.6 L2054.9 550.8 L2055.8 550.6 L2056.7 550.7 L2057.6 550.8 L2058.5 550.9 L2059.4 550.8 L2060.3 550.8 L2061.2 550.8 L2062.1 550.9 L2063.0 550.8 L2063.9 550.9 L2064.8 551.1 L2065.7 551.1 L2066.6 550.9 L2067.5 550.9 L2068.4 551.1 L2069.3 551.1 L2070.2 551.3 L2071.1 551.5 L2072.0 551.5 L2072.9 551.4 L2073.8 551.2 L2074.7 551.2 L2075.6 551.5 L2076.5 551.7 L2077.4 551.7 L2078.3 551.7 L2079.2 551.7 L2080.1 551.6 L2081.0 551.8 L2081.9 551.9 L2082.8 551.9 L2083.7 551.8 L2084.6 552.0 L2085.5 552.0 L2086.4 551.9 L2087.3 552.0 L2088.2 552.1 L2089.1 552.1 L2090.0 552.3 L2090.9 552.3 L2091.8 552.1 L2092.4 552.2 L2092.7 552.3 L2093.6 552.2 L2094.5 552.2 L2095.4 552.2 L2096.3 552.4 L2097.2 552.4 L2098.1 552.4 L2099.0 552.3 L2099.9 552.4 L2100.8 552.5 L2101.7 552.4 L2102.6 552.3 L2103.5 552.5 L2104.4 552.6 L2105.3 552.7 L2106.2 552.8 L2107.1 552.8 L2108.0 552.6 L2108.9 552.7 L2109.8 552.8 L2110.7 552.9 L2111.6 553.0 L2112.5 552.9 L2113.4 552.8 L2114.3 552.8 L2115.2 553.0 L2116.1 553.1 L2117.0 553.2 L2117.9 553.3 L2118.8 553.1 L2119.7 553.1 L2120.6 553.2 L2121.5 553.0 L2122.4 553.0 L2123.3 553.2 L2124.2 553.2 L2125.1 553.3 L2126.0 553.3 L2126.9 553.3 L2127.8 553.4 L2128.7 553.5 L2129.6 553.4 L2130.5 553.2 L2131.4 553.4 L2132.3 553.4 L2133.2 553.6 L2134.1 553.7 L2135.0 553.7 L2135.9 553.6 L2136.8 553.6 L2137.7 553.4 L2138.6 553.5 L2139.5 553.6 L2140.4 553.9 L2141.3 553.9 L2142.2 553.8 L2143.1 553.9 L2144.0 553.9 L2144.9 553.9 L2145.8 553.8 L2146.7 553.9 L2147.6 554.0 L2148.5 554.1 L2149.4 554.0 L2150.3 553.9 L2150.5 554.0 L2151.2 554.1 L2152.1 554.3 L2153.0 554.3 L2153.9 554.3 L2154.8 554.3 L2155.7 554.5 L2156.6 554.4 L2157.5 554.5 L2158.4 554.5 L2159.3 554.7 L2160.2 554.7 L2161.1 554.6 L2162.0 554.7 L2162.9 554.6 L2163.8 554.6 L2164.7 554.8 L2165.6 554.9 L2166.5 554.8 L2167.4 554.8 L2168.3 554.8 L2169.2 554.8 L2170.1 554.8 L2171.0 555.0 L2171.9 555.0 L2172.8 555.0 L2173.7 555.1 L2174.6 555.3 L2175.5 555.2 L2176.4 555.1 L2177.3 555.0 L2178.2 555.1 L2179.1 555.2 L2179.5 555.4 L2180.0 555.4 L2180.9 555.5 L2181.8 555.3 L2182.7 555.3 L2183.6 555.5 L2184.5 555.6 L2185.4 555.6 L2186.3 555.7 L2187.2 555.7 L2188.1 555.5 L2189.0 555.7 L2189.9 555.9 L2190.8 556.0 L2191.7 556.0 L2192.6 556.2 L2193.5 556.1 L2194.1 556.2 L2194.4 556.4 L2195.3 556.4 L2196.3 556.3 L2197.3 556.7 L2198.2 557.1 L2198.9 557.5 L2199.3 557.9 L2199.4 558.0 L2199.9 558.7 L2200.2 559.7 L2200.5 560.7 L2200.8 561.8 L2201.1 562.4 L2201.3 562.6 L2201.4 562.6 L2201.7 561.8 L2202.0 560.9 L2202.3 559.9 L2202.5 558.7 L2202.8 557.6 L2203.2 556.7 L2203.4 556.8 L2203.6 557.0 L2204.0 556.7 L2204.5 556.7 L2205.1 556.8 L2205.7 556.7 L2206.3 556.6 L2207.0 556.7 L2207.7 556.8 L2208.4 556.6 L2209.2 556.5 L2210.1 556.7 L2210.9 556.8 L2211.8 556.8 L2212.8 556.8 L2213.8 556.6 L2214.8 556.5 L2215.9 556.7 L2217.0 556.8 L2218.2 556.8 L2219.4 556.8 L2220.6 556.8 L2221.9 556.7 L2223.2 556.7 L2224.6 556.8" fill="none" stroke="#0000ff" stroke-width="4.8" stroke-linejoin="round" stroke-linecap="butt"/>
<path d="M1289.8 98.1 L1290.2 96.6 L1290.6 95.4 L1291.1 94.0 L1291.6 93.0 L1292.1 92.4 L1292.7 91.9 L1293.2 91.2 L1293.8 90.7 L1294.3 90.0 L1294.9 89.6 L1295.5 89.6 L1296.1 89.5 L1296.1 89.4 L1296.8 89.4 L1297.5 89.8 L1298.3 90.3 L1299.0 90.7 L1299.8 91.4 L1300.6 92.2 L1301.3 93.3 L1301.9 93.9 L1302.0 93.8 L1302.5 94.5 L1303.0 95.1 L1303.6 95.7 L1304.1 96.4 L1304.6 97.4 L1305.0 98.5 L1305.5 98.7 L1306.0 99.2 L1306.4 100.3 L1306.9 100.9 L1307.4 101.7 L1307.8 102.6 L1307.9 102.5 L1308.5 103.1 L1309.2 104.0 L1309.8 104.7 L1310.5 105.6 L1311.2 106.2 L1311.8 107.0 L1312.3 108.1 L1312.7 108.8 L1312.9 108.9 L1313.0 109.5 L1313.0 110.0 L1313.1 110.9 L1313.1 111.6 L1313.1 112.4 L1313.2 113.6 L1313.2 114.5 L1313.2 115.0 L1313.2 115.5 L1313.2 116.6 L1313.3 117.6 L1313.3 118.9 L1313.3 119.8 L1313.3 120.6 L1313.3 121.6 L1313.3 122.4 L1313.3 123.1 L1313.3 124.2 L1313.3 125.1 L1313.3 125.7 L1313.4 127.1 L1313.4 128.1 L1313.4 128.9 L1313.4 129.8 L1313.4 130.7 L1313.4 131.8 L1313.5 132.5 L1313.5 133.3 L1313.5 134.7 L1313.5 135.6 L1313.6 135.9 L1313.6 136.3 L1313.6 137.3 L1313.7 138.3 L1313.8 139.1 L1313.9 140.0 L1314.1 140.5 L1314.2 141.3 L1314.4 142.4 L1314.6 143.3 L1314.8 144.1 L1315.0 144.8 L1315.2 145.8 L1315.4 147.0 L1315.7 147.8 L1315.9 148.4 L1316.1 149.5 L1316.4 150.5 L1316.6 151.3 L1316.9 152.3 L1317.1 153.1 L1317.3 154.1 L1317.5 154.6 L1317.8 155.4 L1317.9 156.2 L1318.0 156.5 L1318.2 157.2 L1318.4 158.2 L1318.6 159.1 L1318.8 159.7 L1319.1 160.7 L1319.3 161.9 L1319.5 162.7 L1319.7 163.3 L1319.9 164.4 L1320.2 165.4 L1320.4 166.4 L1320.6 167.0 L1320.9 167.8 L1321.1 168.5 L1321.3 169.6 L1321.6 170.4 L1321.8 171.1 L1322.1 172.0 L1322.3 172.9 L1322.6 173.8 L1322.8 174.8 L1323.1 175.5 L1323.3 176.5 L1323.6 177.7 L1323.9 178.4 L1324.1 179.1 L1324.4 180.0 L1324.7 180.8 L1324.9 181.5 L1325.2 182.1 L1325.2 182.5 L1325.5 183.4 L1325.8 184.1 L1326.1 184.9 L1326.4 185.9 L1326.7 186.5 L1327.0 187.4 L1327.3 188.2 L1327.6 189.0 L1327.9 190.4 L1328.2 191.4 L1328.5 192.1 L1328.8 192.7 L1329.1 193.3 L1329.5 194.3 L1329.8 195.0 L1330.1 195.7 L1330.5 197.0 L1330.8 197.9 L1331.1 198.4 L1331.5 199.1 L1331.8 200.1 L1332.2 201.2 L1332.5 202.3 L1332.9 202.8 L1333.2 203.4 L1333.6 204.3 L1334.0 204.9 L1334.3 205.8 L1334.7 206.8 L1335.1 207.5 L1335.4 208.1 L1335.8 209.0 L1336.2 209.9 L1336.6 210.6 L1336.8 211.2 L1337.0 211.7 L1337.4 212.4 L1337.8 213.2 L1338.2 214.3 L1338.6 215.3 L1339.0 215.9 L1339.4 216.3 L1339.9 217.1 L1340.3 218.0 L1340.8 218.8 L1341.2 219.5 L1341.7 220.4 L1342.1 221.1 L1342.6 221.6 L1343.1 222.3 L1343.5 223.3 L1344.0 224.3 L1344.5 225.3 L1344.9 225.7 L1345.4 226.6 L1345.9 227.8 L1346.3 228.1 L1346.8 229.0 L1347.2 229.8 L1347.7 230.4 L1348.2 231.0 L1348.4 231.8 L1348.6 232.4 L1349.0 233.1 L1349.5 233.7 L1349.9 234.6 L1350.3 235.2 L1350.8 236.1 L1351.2 237.1 L1351.6 237.8 L1352.0 238.6 L1352.4 239.3 L1352.9 240.0 L1353.3 241.0 L1353.7 241.7 L1354.1 242.8 L1354.5 243.6 L1355.0 244.5 L1355.4 245.1 L1355.9 245.6 L1356.3 246.2 L1356.8 247.0 L1357.2 247.9 L1357.7 248.8 L1358.2 249.3 L1358.7 250.3 L1359.2 251.0 L1359.7 251.7 L1360.1 252.3 L1360.3 252.6 L1360.8 253.2 L1361.4 253.6 L1362.0 254.2 L1362.6 254.8 L1363.2 255.6 L1363.8 256.3 L1364.5 257.1 L1365.2 257.8 L1365.8 258.6 L1366.5 259.1 L1367.2 259.4 L1367.9 259.9 L1368.6 260.5 L1368.8 260.8 L1369.3 261.5 L1370.0 262.2 L1370.7 262.7 L1371.4 263.2 L1372.1 263.6 L1372.8 264.3 L1373.6 264.8 L1374.4 265.1 L1375.1 265.9 L1375.9 266.4 L1376.7 266.8 L1377.5 266.6 L1377.5 266.3 L1378.4 266.5 L1379.3 266.5 L1380.2 266.4 L1381.1 266.1 L1382.1 266.0 L1383.0 265.8 L1383.9 266.0 L1384.7 265.9 L1384.7 265.6 L1385.5 266.2 L1386.3 266.9 L1387.1 267.5 L1387.9 268.1 L1388.7 268.5 L1389.4 269.0 L1390.2 269.6 L1390.6 269.9 L1390.9 269.9 L1391.6 269.4 L1392.4 268.6 L1393.1 268.3 L1393.8 268.0 L1394.5 267.4 L1395.2 266.6 L1395.9 265.6 L1396.6 264.9 L1397.3 264.4 L1397.8 263.8 L1397.9 263.7 L1398.5 262.9 L1399.2 262.2 L1399.8 261.8 L1400.4 261.2 L1401.0 260.2 L1401.6 259.7 L1402.2 259.2 L1402.8 258.4 L1403.4 257.7 L1404.0 256.9 L1404.6 256.1 L1405.2 255.6 L1405.7 254.6 L1406.2 253.9 L1406.8 253.1 L1407.3 252.4 L1407.8 251.7 L1408.3 250.9 L1408.7 250.3 L1409.2 249.8 L1409.4 249.4 L1409.6 248.8 L1410.1 248.0 L1410.5 247.1 L1410.9 246.2 L1411.3 245.6 L1411.6 245.1 L1412.0 243.9 L1412.4 243.0 L1412.7 242.3 L1413.0 241.7 L1413.4 240.7 L1413.7 239.7 L1414.0 238.8 L1414.4 238.1 L1414.7 237.2 L1415.0 236.1 L1415.3 235.5 L1415.7 234.8 L1416.0 233.9 L1416.3 233.0 L1416.7 232.2 L1417.0 231.2 L1417.4 230.7 L1417.7 230.1 L1418.1 229.1 L1418.1 228.7 L1418.5 228.2 L1418.9 227.5 L1419.2 226.6 L1419.6 225.5 L1420.0 224.7 L1420.3 224.1 L1420.7 223.4 L1421.1 222.0 L1421.5 221.2 L1421.9 220.5 L1422.3 219.7 L1422.8 219.1 L1423.2 218.4 L1423.7 217.4 L1424.0 217.0 L1424.2 216.7 L1424.8 216.3 L1425.4 215.6 L1426.0 214.4 L1426.7 213.6 L1427.4 212.9 L1428.1 212.3 L1428.9 212.0 L1429.6 211.9 L1429.8 211.8 L1430.5 212.0 L1431.5 211.7 L1432.5 211.5 L1433.5 211.8 L1434.4 212.0 L1435.0 212.1 L1435.0 212.0 L1435.5 212.2 L1435.9 212.4 L1436.3 212.7 L1436.6 213.7 L1437.0 214.5 L1437.3 215.2 L1437.6 215.9 L1437.8 217.0 L1438.1 218.0 L1438.3 219.0 L1438.6 220.4 L1438.8 221.6 L1439.0 222.7 L1439.3 223.7 L1439.5 224.9 L1439.8 225.7 L1439.9 226.1 L1440.1 226.6 L1440.4 227.3 L1440.8 228.1 L1441.1 229.1 L1441.4 229.9 L1441.8 230.6 L1442.1 231.3 L1442.5 232.2 L1442.8 232.9 L1443.1 233.8 L1443.4 235.0 L1443.6 236.2 L1443.9 236.8 L1444.1 237.6 L1444.2 238.3 L1444.3 238.8 L1444.3 239.0 L1444.4 240.2 L1444.5 241.2 L1444.6 242.1 L1444.7 242.9 L1444.7 243.7 L1444.8 244.7 L1444.8 245.6 L1444.9 246.7 L1444.9 247.4 L1445.0 248.1 L1445.0 248.8 L1445.1 249.8 L1445.1 250.7 L1445.1 251.8 L1445.2 252.6 L1445.2 253.4 L1445.3 254.6 L1445.3 255.3 L1445.4 256.0 L1445.4 257.4 L1445.5 258.1 L1445.6 258.9 L1445.7 259.8 L1445.7 260.7 L1445.7 260.7 L1445.9 261.5 L1446.0 262.5 L1446.1 263.5 L1446.3 264.3 L1446.4 265.0 L1446.6 265.9 L1446.8 266.7 L1447.0 267.6 L1447.2 268.6 L1447.5 269.7 L1447.7 270.5 L1448.0 271.4 L1448.2 272.3 L1448.5 272.9 L1448.7 273.7 L1449.0 274.6 L1449.3 275.8 L1449.6 276.7 L1449.8 277.9 L1450.1 278.5 L1450.1 278.4 L1450.4 279.2 L1450.7 279.9 L1451.0 280.8 L1451.4 281.7 L1451.7 282.6 L1452.1 283.1 L1452.4 283.9 L1452.8 285.1 L1453.2 286.1 L1453.6 287.0 L1454.0 287.6 L1454.4 288.3 L1454.8 288.9 L1455.3 290.0 L1455.7 290.8 L1456.2 291.5 L1456.6 292.3 L1457.1 293.1 L1457.6 293.9 L1458.1 294.7 L1458.6 295.6 L1458.8 296.1 L1459.1 296.0 L1459.6 296.6 L1460.1 297.1 L1460.7 298.0 L1461.3 298.9 L1461.9 299.2 L1462.5 299.9 L1463.1 300.8 L1463.8 301.1 L1464.5 302.1 L1465.1 302.7 L1465.8 303.2 L1466.5 303.7 L1467.2 304.5 L1467.9 305.2 L1468.5 305.5 L1469.2 306.5 L1469.9 307.0 L1470.4 307.2 L1470.6 307.4 L1471.3 308.1 L1471.9 308.4 L1472.6 309.0 L1473.3 309.7 L1474.0 310.6 L1474.6 311.6 L1475.3 312.4 L1476.0 312.8 L1476.7 313.4 L1477.4 314.3 L1478.1 314.9 L1478.8 315.5 L1479.6 316.1 L1480.3 316.7 L1481.1 317.0 L1481.8 317.3 L1482.6 317.4 L1483.4 317.6 L1483.5 317.5 L1484.2 317.8 L1485.1 317.5 L1486.0 317.2 L1486.9 316.9 L1487.9 316.4 L1488.8 316.3 L1489.8 316.2 L1490.7 316.0 L1491.6 315.6 L1492.4 315.2 L1493.2 314.9 L1493.7 315.0 L1493.8 315.4 L1494.5 315.6 L1495.0 315.7 L1495.6 316.3 L1496.1 317.0 L1496.6 317.8 L1497.1 318.8 L1497.6 320.0 L1498.1 320.8 L1498.6 321.7 L1499.1 322.7 L1499.5 323.1 L1499.6 323.4 L1500.1 324.1 L1500.5 324.6 L1501.0 325.2 L1501.5 326.0 L1502.0 327.0 L1502.4 327.7 L1502.9 328.4 L1503.4 329.3 L1503.9 330.1 L1504.4 330.9 L1505.0 331.5 L1505.3 331.8 L1505.6 332.1 L1506.2 333.0 L1506.9 333.7 L1507.6 334.6 L1508.4 335.1 L1509.1 335.6 L1509.9 336.4 L1510.7 336.5 L1511.1 336.5 L1511.5 336.3 L1512.5 336.0 L1513.5 336.2 L1514.7 336.0 L1515.7 335.5 L1516.7 335.4 L1517.6 335.6 L1518.1 335.4 L1518.4 335.4 L1518.4 335.7 L1518.6 336.0 L1518.8 336.2 L1519.0 336.7 L1519.1 337.0 L1519.2 337.8 L1519.3 338.5 L1519.4 339.2 L1519.5 340.4 L1519.6 341.5 L1519.7 342.8 L1519.8 344.3 L1519.8 344.9 L1519.9 346.1 L1520.0 347.2 L1520.1 348.6 L1520.2 349.8 L1520.2 351.0 L1520.3 352.0 L1520.4 352.3 L1520.5 352.6 L1520.6 353.6 L1520.7 354.8 L1520.8 355.6 L1520.9 356.1 L1521.0 357.1 L1521.2 358.3 L1521.3 359.3 L1521.4 360.3 L1521.5 360.8 L1521.6 361.7 L1521.8 362.6 L1521.9 363.5 L1522.0 364.4 L1522.1 365.5 L1522.2 366.4 L1522.4 366.8 L1522.5 367.5 L1522.6 368.8 L1522.7 369.7 L1522.8 370.6 L1522.9 371.8 L1523.0 372.8 L1523.1 373.5 L1523.2 374.1 L1523.3 374.9 L1523.3 375.4 L1523.3 375.7 L1523.4 376.7 L1523.5 377.6 L1523.6 378.5 L1523.6 379.5 L1523.7 380.4 L1523.8 381.3 L1523.8 382.0 L1523.9 383.0 L1524.0 384.0 L1524.0 384.7 L1524.1 385.7 L1524.2 386.6 L1524.2 387.5 L1524.3 388.5 L1524.3 389.3 L1524.4 390.1 L1524.5 391.4 L1524.5 392.2 L1524.6 392.7 L1524.6 393.9 L1524.7 395.2 L1524.7 396.2 L1524.8 396.9 L1524.8 397.3 L1524.9 398.2 L1524.9 399.1 L1525.0 399.9 L1525.1 400.8 L1525.1 402.0 L1525.2 402.9 L1525.2 403.8 L1525.3 404.7 L1525.3 405.6 L1525.4 406.7 L1525.4 407.6 L1525.5 408.4 L1525.6 409.1 L1525.6 409.7 L1525.6 410.2 L1525.7 410.9 L1525.7 411.5 L1525.8 412.7 L1525.9 414.0 L1525.9 414.5 L1526.0 415.4 L1526.0 416.7 L1526.1 417.6 L1526.2 418.3 L1526.2 419.4 L1526.3 420.1 L1526.3 420.8 L1526.4 421.7 L1526.5 422.7 L1526.5 423.7 L1526.6 424.3 L1526.6 425.2 L1526.7 426.0 L1526.8 427.0 L1526.8 428.1 L1526.9 429.0 L1526.9 429.8 L1527.0 430.8 L1527.1 431.7 L1527.1 432.6 L1527.2 433.1 L1527.3 434.1 L1527.3 435.4 L1527.4 435.9 L1527.4 436.6 L1527.5 437.5 L1527.5 438.8 L1527.6 440.0 L1527.7 441.1 L1527.7 442.0 L1527.8 442.6 L1527.8 443.6 L1527.9 444.4 L1527.9 445.3 L1528.0 445.5 L1528.0 446.4 L1528.1 447.1 L1528.1 448.1 L1528.2 449.0 L1528.2 449.7 L1528.3 450.5 L1528.3 451.6 L1528.4 452.6 L1528.4 453.4 L1528.5 454.2 L1528.5 455.3 L1528.6 456.0 L1528.6 456.8 L1528.7 457.8 L1528.7 458.2 L1528.8 459.1 L1528.8 460.1 L1528.9 461.4 L1528.9 462.3 L1529.0 463.2 L1529.0 464.0 L1529.1 464.6 L1529.1 465.7 L1529.2 467.0 L1529.2 467.8 L1529.3 468.4 L1529.3 469.2 L1529.4 470.4 L1529.4 471.4 L1529.5 472.3 L1529.5 473.1 L1529.6 473.9 L1529.6 474.4 L1529.7 475.7 L1529.8 476.7 L1529.8 477.5 L1529.9 478.7 L1529.9 479.3 L1530.0 480.0 L1530.0 480.2 L1530.1 481.0 L1530.1 481.8 L1530.2 482.7 L1530.3 483.6 L1530.3 484.6 L1530.4 485.6 L1530.5 486.5 L1530.5 487.2 L1530.6 488.3 L1530.7 489.4 L1530.7 490.4 L1530.8 491.2 L1530.9 491.8 L1531.0 492.7 L1531.0 493.6 L1531.1 494.5 L1531.2 495.4 L1531.3 496.4 L1531.4 497.3 L1531.4 498.1 L1531.5 498.7 L1531.6 499.5 L1531.7 500.8 L1531.8 501.7 L1531.8 502.3 L1531.9 503.3 L1532.0 504.3 L1532.1 505.3 L1532.1 506.2 L1532.2 507.1 L1532.3 507.9 L1532.4 508.8 L1532.5 509.8 L1532.5 510.8 L1532.6 511.7 L1532.7 512.4 L1532.8 513.1 L1532.8 514.1 L1532.9 514.6 L1532.9 515.0 L1533.0 516.0 L1533.1 517.1 L1533.1 518.4 L1533.2 519.3 L1533.3 520.1 L1533.3 520.8 L1533.4 521.2 L1533.4 521.6 L1533.5 522.4 L1533.6 523.2 L1533.7 523.9 L1533.8 525.0 L1533.8 526.0 L1533.9 526.6 L1534.0 527.8 L1534.1 528.6 L1534.2 529.5 L1534.3 530.7 L1534.4 531.4 L1534.5 532.4 L1534.6 533.3 L1534.6 534.1 L1534.7 535.0 L1534.8 535.9 L1534.9 537.1 L1535.0 537.9 L1535.1 538.4 L1535.2 539.3 L1535.4 540.4 L1535.5 541.4 L1535.6 542.3 L1535.7 542.9 L1535.8 543.7 L1535.9 544.8 L1536.1 545.8 L1536.2 546.9 L1536.3 547.9 L1536.4 548.3 L1536.6 549.0 L1536.7 550.0 L1536.9 551.3 L1537.0 552.2 L1537.2 552.9 L1537.3 553.7 L1537.5 554.5 L1537.6 555.5 L1537.8 556.2 L1537.8 556.3 L1538.0 557.2 L1538.2 558.1 L1538.4 558.8 L1538.6 559.4 L1538.9 560.6 L1539.1 561.3 L1539.4 562.2 L1539.7 563.2 L1540.0 564.0 L1540.3 564.8 L1540.6 565.9 L1540.9 566.8 L1541.2 567.4 L1541.5 568.2 L1541.9 568.9 L1542.2 570.1 L1542.5 571.4 L1542.9 572.0 L1543.2 572.6 L1543.5 573.4 L1543.6 573.6 L1543.8 574.3 L1544.2 575.3 L1544.5 576.2 L1544.8 576.9 L1545.2 577.7 L1545.5 578.5 L1545.9 579.2 L1546.2 579.9 L1546.6 580.7 L1547.0 581.8 L1547.3 582.7 L1547.7 583.5 L1548.1 584.3 L1548.5 585.3 L1548.9 586.1 L1549.3 586.9 L1549.7 587.7 L1550.1 588.4 L1550.5 589.2 L1550.9 589.9 L1551.3 590.8 L1551.7 591.3 L1552.1 592.1 L1552.5 593.1 L1552.9 594.1 L1553.4 594.7 L1553.7 595.2 L1553.8 595.4 L1554.2 595.9 L1554.7 596.9 L1555.2 597.8 L1555.7 598.6 L1556.2 599.4 L1556.8 600.1 L1557.3 600.8 L1557.9 601.4 L1558.5 602.2 L1559.0 603.0 L1559.6 603.5 L1560.1 604.2 L1560.6 605.1 L1561.1 606.0 L1561.6 606.9 L1562.1 607.7 L1562.5 608.2 L1562.9 609.0 L1563.3 609.9 L1563.6 610.5 L1563.9 611.5 L1563.9 611.8 L1564.2 612.4 L1564.4 613.3 L1564.6 614.1 L1564.8 614.8 L1564.9 615.7 L1565.1 616.9 L1565.3 617.6 L1565.5 618.2 L1565.6 619.0 L1565.9 620.1 L1566.1 621.2 L1566.2 621.6 L1566.4 621.9 L1566.7 622.5 L1567.0 623.3 L1567.4 624.3 L1567.8 625.3 L1568.3 626.1 L1568.7 627.1 L1569.2 628.0 L1569.7 628.7 L1570.3 629.4 L1570.8 630.0 L1571.2 630.2 L1571.4 630.4 L1572.0 631.3 L1572.7 631.9 L1573.5 632.6 L1574.2 633.2 L1575.1 633.6 L1575.9 634.1 L1576.7 634.6 L1577.6 634.7 L1578.5 634.8 L1579.3 635.3 L1579.9 635.4 L1580.1 635.1 L1581.0 635.0 L1581.9 634.9 L1582.8 634.3 L1583.8 633.8 L1584.7 633.6 L1585.5 633.0 L1586.3 632.4 L1586.8 632.1 L1587.1 631.5 L1587.3 631.2 L1587.6 630.9 L1587.9 630.5 L1588.2 630.0 L1588.5 629.0 L1588.8 627.9 L1589.0 627.0 L1589.2 626.2 L1589.5 625.5 L1589.7 624.5 L1589.8 623.6 L1590.0 622.5 L1590.2 621.2 L1590.4 620.2 L1590.5 619.3 L1590.7 618.4 L1590.9 617.6 L1591.0 616.9 L1591.2 615.9 L1591.4 614.7 L1591.5 614.2 L1591.6 613.7 L1591.8 613.1 L1592.0 611.9 L1592.2 610.6 L1592.4 609.8 L1592.6 608.7 L1592.8 607.5 L1593.0 606.2 L1593.2 605.1 L1593.4 604.1 L1593.5 602.9 L1593.7 602.0 L1593.9 601.2 L1594.0 600.9 L1594.1 600.1 L1594.3 599.6 L1594.4 599.5 L1594.4 599.3 L1594.4 599.3 L1594.5 599.4 L1594.6 599.8 L1594.6 600.1 L1594.7 600.5 L1594.7 601.1 L1594.7 601.7 L1594.8 602.6 L1594.8 603.2 L1594.8 604.1 L1594.9 605.6 L1594.9 607.0 L1594.9 608.2 L1595.0 609.1 L1595.0 610.1 L1595.0 611.5 L1595.0 613.0 L1595.0 614.5 L1595.1 615.8 L1595.1 617.3 L1595.1 618.5 L1595.1 619.7 L1595.1 620.9 L1595.2 622.1 L1595.2 623.3 L1595.2 624.6 L1595.3 625.8 L1595.3 627.0 L1595.3 627.7 L1595.4 628.7 L1595.4 629.5 L1595.5 630.2 L1595.5 631.2 L1595.6 631.7 L1595.7 632.0 L1595.7 632.0 L1595.8 632.1 L1595.9 632.0 L1595.9 632.0 L1596.2 632.5 L1596.6 632.3 L1597.1 631.8 L1597.7 631.1 L1598.5 630.6 L1599.3 630.2 L1600.2 629.6 L1601.1 629.0 L1602.1 628.2 L1603.0 627.5 L1604.0 626.9 L1604.9 626.2 L1605.8 625.5 L1606.7 625.1 L1607.4 624.3 L1607.5 624.0 L1608.1 623.5 L1608.8 623.2 L1609.5 622.6 L1610.2 621.9 L1610.9 621.3 L1611.6 621.0 L1612.2 620.5 L1612.9 619.8 L1613.6 619.1 L1614.2 618.6 L1614.9 618.2 L1615.6 617.6 L1616.2 616.9 L1616.9 616.2 L1617.5 615.5 L1618.2 614.9 L1618.9 614.5 L1619.5 613.8 L1620.2 612.8 L1620.9 612.6 L1621.5 612.3 L1622.2 611.5 L1622.9 610.8 L1623.6 610.2 L1624.3 609.6 L1624.9 609.3 L1625.0 609.2 L1625.7 608.4 L1626.4 607.9 L1627.1 607.5 L1627.8 606.7 L1628.6 606.2 L1629.3 605.9 L1630.0 605.2 L1630.7 604.8 L1631.5 604.5 L1632.2 603.9 L1633.0 603.3 L1633.7 602.6 L1634.4 602.0 L1635.2 601.2 L1635.9 601.0 L1636.7 600.5 L1637.4 600.1 L1638.2 599.6 L1638.9 598.8 L1639.7 598.6 L1640.4 598.3 L1641.2 597.7 L1641.9 596.8 L1642.3 596.9 L1642.7 596.8 L1643.5 596.1 L1644.2 595.7 L1645.0 595.2 L1645.7 594.6 L1646.5 594.1 L1647.2 593.8 L1648.0 593.2 L1648.7 592.5 L1649.5 591.9 L1650.3 591.8 L1651.0 591.5 L1651.8 590.8 L1652.6 589.7 L1653.4 589.4 L1654.2 589.3 L1655.0 589.0 L1655.8 588.4 L1656.6 587.8 L1656.9 587.9 L1657.4 587.9 L1658.3 587.4 L1659.1 587.0 L1660.0 586.9 L1660.9 586.8 L1661.8 586.5 L1662.7 586.0 L1663.5 585.7 L1664.4 585.8 L1665.3 585.9 L1665.6 586.0 L1666.1 585.7 L1667.0 585.7 L1667.9 585.7 L1668.7 586.0 L1669.6 586.8 L1670.5 587.1 L1671.3 587.5 L1672.2 587.7 L1673.0 588.0 L1673.9 588.8 L1674.7 589.3 L1675.5 589.7 L1676.3 590.2 L1677.0 590.5 L1677.2 590.5 L1677.8 590.9 L1678.5 591.6 L1679.3 591.9 L1680.1 592.6 L1680.9 593.2 L1681.6 593.7 L1682.4 594.5 L1683.1 594.8 L1683.7 595.3 L1684.3 596.2 L1684.9 596.8 L1685.4 597.5 L1685.8 598.1 L1685.9 598.1 L1686.2 598.9 L1686.5 599.7 L1686.7 600.6 L1687.0 601.4 L1687.2 602.2 L1687.4 603.3 L1687.6 604.4 L1687.8 605.2 L1688.0 605.8 L1688.2 606.5 L1688.5 607.7 L1688.8 608.6 L1688.8 608.6 L1689.2 609.2 L1689.6 609.9 L1690.1 610.6 L1690.7 611.3 L1691.3 611.9 L1691.9 612.6 L1692.6 613.5 L1693.2 613.8 L1693.9 614.5 L1694.7 615.1 L1695.4 615.5 L1696.1 616.5 L1696.9 616.9 L1697.6 617.3 L1698.3 618.1 L1699.0 618.7 L1699.7 619.2 L1700.3 619.9 L1700.4 619.9 L1700.9 620.3 L1701.5 621.5 L1702.1 622.2 L1702.7 622.6 L1703.3 623.1 L1703.9 624.0 L1704.5 624.9 L1705.1 625.6 L1705.7 626.1 L1706.3 626.7 L1706.9 627.4 L1707.4 628.1 L1708.0 628.8 L1708.6 629.6 L1709.2 630.4 L1709.8 631.2 L1710.3 631.8 L1710.9 632.3 L1711.4 632.9 L1712.0 633.6 L1712.6 634.4 L1713.1 635.1 L1713.7 636.0 L1714.2 636.4 L1714.7 637.3 L1715.0 637.7 L1715.3 638.3 L1715.8 639.1 L1716.3 639.5 L1716.8 640.1 L1717.3 640.9 L1717.8 641.6 L1718.3 642.6 L1718.7 643.7 L1719.2 644.2 L1719.7 644.8 L1720.2 645.6 L1720.7 646.3 L1721.2 646.8 L1721.6 647.6 L1722.2 648.8 L1722.7 649.4 L1723.2 650.0 L1723.7 650.4 L1723.7 650.6 L1724.3 651.5 L1724.9 652.1 L1725.4 653.1 L1726.0 653.7 L1726.6 654.3 L1727.1 655.3 L1727.7 655.9 L1728.3 656.5 L1728.9 656.9 L1729.6 657.7 L1730.2 658.6 L1730.9 659.0 L1731.5 659.5 L1732.2 660.2 L1732.4 660.6 L1732.9 660.7 L1733.7 661.1 L1734.5 661.5 L1735.3 662.1 L1736.2 662.8 L1737.1 663.2 L1737.9 663.2 L1738.7 663.6 L1739.5 663.7 L1739.7 663.7 L1740.3 663.5 L1741.1 663.0 L1741.9 662.6 L1742.6 661.8 L1743.2 661.0 L1743.4 660.6 L1743.6 660.1 L1744.0 659.3 L1744.4 658.2 L1744.8 657.2 L1745.1 656.2 L1745.4 655.1 L1745.7 654.0 L1745.9 653.1 L1746.1 652.6 L1746.2 652.3 L1746.3 652.1 L1746.4 652.1 L1746.5 652.0 L1746.6 652.7 L1746.6 653.3 L1746.7 654.0 L1746.7 655.2 L1746.8 656.2 L1746.8 657.1 L1746.9 658.2 L1746.9 659.5 L1746.9 660.7 L1747.0 661.8 L1747.0 662.9 L1747.1 664.3 L1747.2 665.3 L1747.2 666.2 L1747.3 667.2 L1747.4 667.8 L1747.5 668.2 L1747.6 668.2 L1747.9 668.5 L1748.4 669.3 L1749.1 669.7 L1749.9 670.0 L1750.8 670.4 L1751.7 670.8 L1752.8 671.3 L1753.8 671.6 L1754.9 671.8 L1756.0 671.9 L1757.0 671.9 L1758.0 672.1 L1758.5 672.0 L1758.8 672.4 L1759.7 672.9 L1760.6 673.1 L1761.5 672.9 L1762.4 672.7 L1763.2 672.8 L1764.1 673.1 L1765.0 672.9 L1765.9 673.0 L1766.8 673.1 L1767.8 673.2 L1768.7 673.4 L1769.6 673.5 L1770.5 673.6 L1771.4 673.8 L1772.3 673.8 L1773.2 673.6 L1774.1 673.7 L1775.0 674.0 L1775.9 673.7 L1776.0 673.7 L1776.8 673.8 L1777.7 673.7 L1778.6 674.0 L1779.5 674.1 L1780.4 674.4 L1781.3 674.3 L1782.2 674.4 L1783.1 674.4 L1784.0 674.3 L1784.9 674.3 L1785.8 674.4 L1786.7 674.7 L1787.6 674.8 L1788.5 674.6 L1789.4 674.6 L1790.3 674.6 L1790.5 674.6 L1791.2 674.6 L1792.1 674.8 L1793.0 675.3 L1793.9 675.0 L1794.8 674.8 L1795.7 675.2 L1796.6 675.1 L1797.5 675.2 L1798.4 675.1 L1799.3 675.1 L1800.2 675.1 L1801.1 675.3 L1802.0 675.6 L1802.9 675.7 L1803.8 675.7 L1804.7 675.4 L1805.0 675.3 L1805.6 675.2 L1806.5 675.3 L1807.4 675.5 L1808.3 675.1 L1809.2 674.5 L1810.1 674.6 L1811.0 674.7 L1811.9 674.5 L1812.8 674.1 L1813.7 673.7 L1814.6 673.5 L1815.5 673.7 L1816.3 673.5 L1817.2 673.2 L1818.1 673.5 L1819.0 673.6 L1819.5 673.3 L1819.8 673.4 L1820.7 673.3 L1821.6 673.6 L1822.4 673.9 L1823.2 674.4 L1824.1 674.8 L1824.9 675.4 L1825.8 675.6 L1826.6 675.8 L1827.4 676.5 L1828.3 677.0 L1829.1 677.5 L1829.9 677.6 L1830.8 678.0 L1831.6 677.9 L1832.5 677.8 L1832.6 678.0 L1833.3 678.3 L1834.2 678.5 L1835.1 678.1 L1835.9 677.8 L1836.8 677.9 L1837.7 677.8 L1838.5 677.3 L1839.4 676.6 L1840.3 676.4 L1841.2 676.3 L1842.0 675.7 L1842.9 675.5 L1843.8 675.3 L1844.7 675.0 L1845.5 674.8 L1845.7 674.8 L1846.4 674.5 L1847.3 674.4 L1848.1 674.0 L1849.0 673.8 L1849.9 673.5 L1850.8 673.2 L1851.7 672.8 L1852.5 672.4 L1853.4 671.8 L1854.3 671.4 L1855.1 671.1 L1856.0 670.8 L1856.8 670.6 L1857.7 670.4 L1858.5 670.2 L1859.3 670.0 L1860.1 669.9 L1860.2 670.2 L1860.9 670.5 L1861.6 670.7 L1862.4 671.3 L1863.1 672.0 L1863.8 672.7 L1864.6 673.4 L1865.3 673.6 L1865.8 673.7 L1866.1 673.7 L1867.0 673.8 L1867.8 674.1 L1868.7 674.4 L1869.6 674.5 L1870.5 674.4 L1871.4 674.8 L1872.3 675.2 L1873.2 675.5 L1874.1 675.4 L1875.1 675.2 L1876.0 675.3 L1876.9 675.0 L1877.4 675.3 L1877.8 675.5 L1878.7 675.5 L1879.6 675.3 L1880.6 675.1 L1881.6 675.4 L1882.6 675.4 L1883.6 675.1 L1884.6 674.7 L1885.6 674.6 L1886.5 674.6 L1887.5 674.4 L1888.4 674.3 L1889.3 674.3 L1890.2 674.5 L1891.0 674.6 L1891.8 674.7 L1892.5 674.6 L1893.2 674.8 L1893.4 674.8 L1893.8 674.6 L1894.3 675.3 L1894.7 676.4 L1895.2 677.4 L1895.7 678.4 L1896.2 678.9 L1896.3 678.8 L1896.8 678.8 L1897.5 678.8 L1898.2 678.8 L1898.9 678.9 L1899.7 678.7 L1900.6 678.9 L1901.4 678.7 L1902.3 678.4 L1903.2 678.6 L1904.1 678.7 L1905.1 678.5 L1906.0 678.7 L1907.0 678.7 L1908.0 678.7 L1909.0 678.9 L1910.0 678.9 L1911.0 678.7 L1912.0 678.7 L1913.0 678.9 L1914.0 678.9 L1914.9 678.9 L1915.9 678.7 L1916.8 678.7 L1917.8 678.9 L1918.1 678.9 L1918.7 679.0 L1919.5 679.2 L1920.4 679.0 L1921.3 678.8 L1922.2 678.7 L1923.1 679.1 L1924.0 679.3 L1924.9 679.4 L1925.8 679.8 L1926.7 679.9 L1927.6 679.8 L1928.5 679.7 L1929.4 679.9 L1930.3 680.3 L1931.2 680.6 L1932.1 680.7 L1932.9 680.9 L1933.8 680.9 L1934.7 681.3 L1935.6 681.4 L1936.5 681.4 L1937.4 681.7 L1938.3 682.0 L1939.2 682.1 L1940.1 682.3 L1941.0 682.3 L1941.9 682.5 L1942.8 682.6 L1943.7 682.5 L1944.5 682.6 L1945.4 682.7 L1946.3 682.7 L1947.1 682.4 L1947.2 682.3 L1948.1 682.3 L1949.0 682.3 L1949.9 682.3 L1950.8 682.3 L1951.7 681.9 L1952.6 681.8 L1953.5 681.8 L1954.4 681.5 L1955.3 681.7 L1955.9 681.7 L1956.2 681.7 L1957.1 681.9 L1958.0 682.2 L1958.9 681.9 L1959.8 681.8 L1960.7 682.0 L1961.5 682.0 L1962.4 682.3 L1963.3 682.4 L1964.2 682.2 L1965.1 682.6 L1966.0 683.2 L1966.9 683.3 L1967.8 683.4 L1968.7 683.6 L1969.6 683.3 L1970.4 683.6 L1971.3 684.0 L1972.2 684.2 L1973.1 684.3 L1974.0 684.2 L1974.9 684.4 L1975.8 684.9 L1976.2 684.8 L1976.7 684.8 L1977.6 684.6 L1978.5 684.6 L1979.4 684.8 L1980.3 685.2 L1981.2 685.2 L1982.1 685.0 L1983.0 685.2 L1983.9 685.5 L1984.8 685.5 L1985.7 685.6 L1986.6 685.8 L1987.5 685.9 L1988.4 685.7 L1989.3 685.8 L1990.2 685.8 L1991.1 686.2 L1992.0 686.1 L1992.9 686.0 L1993.8 686.0 L1994.7 686.0 L1995.6 686.2 L1996.5 686.3 L1997.4 686.4 L1998.2 686.4 L1999.1 686.4 L2000.0 686.6 L2000.9 687.0 L2001.8 687.0 L2002.7 686.8 L2003.6 686.8 L2004.5 686.8 L2005.2 687.1 L2005.4 687.2 L2006.3 686.8 L2007.2 686.9 L2008.1 687.5 L2009.0 687.7 L2009.9 687.5 L2010.8 687.3 L2011.7 687.5 L2012.6 687.8 L2013.5 688.3 L2014.4 688.4 L2015.3 688.6 L2016.2 688.8 L2017.1 688.4 L2018.0 688.6 L2018.9 688.8 L2019.7 689.1 L2020.6 689.1 L2021.5 689.1 L2022.4 689.4 L2023.3 689.4 L2024.2 689.3 L2025.1 689.4 L2026.0 689.4 L2026.9 689.7 L2027.8 689.5 L2028.7 689.7 L2029.6 690.0 L2030.5 690.1 L2031.4 690.0 L2031.4 690.0 L2032.3 689.8 L2033.2 689.6 L2034.1 689.5 L2035.0 689.6 L2035.9 689.9 L2036.8 690.0 L2037.7 690.1 L2038.6 690.1 L2039.5 689.8 L2040.4 689.7 L2041.3 689.7 L2042.2 689.6 L2043.1 689.8 L2044.0 689.8 L2044.9 689.7 L2045.8 689.8 L2046.7 689.4 L2047.6 689.2 L2048.5 689.4 L2049.4 689.6 L2050.3 689.5 L2051.2 689.2 L2052.1 689.2 L2053.0 689.5 L2053.9 689.3 L2054.8 688.9 L2055.7 689.1 L2056.6 689.2 L2057.5 689.2 L2058.4 689.4 L2059.3 689.4 L2060.2 689.3 L2061.1 689.2 L2062.0 688.9 L2062.9 688.9 L2063.3 689.0 L2063.8 688.7 L2064.7 688.8 L2065.6 688.8 L2066.5 688.8 L2067.4 688.8 L2068.3 688.7 L2069.2 688.8 L2070.1 688.6 L2071.0 688.7 L2071.9 688.6 L2072.8 688.4 L2073.7 688.6 L2074.6 688.6 L2075.5 688.7 L2076.4 688.6 L2077.3 688.7 L2078.2 688.9 L2079.1 688.6 L2080.0 688.5 L2080.9 688.6 L2081.8 688.6 L2082.7 688.3 L2083.6 688.1 L2084.5 687.9 L2085.4 688.0 L2086.3 688.0 L2087.2 687.9 L2088.1 688.0 L2089.0 688.0 L2089.9 687.9 L2090.8 688.2 L2091.7 688.2 L2092.4 688.0 L2092.6 687.9 L2093.5 687.5 L2094.4 687.5 L2095.3 687.6 L2096.2 687.6 L2097.1 687.4 L2098.0 687.4 L2098.9 687.5 L2099.8 687.7 L2100.7 687.5 L2101.6 687.2 L2102.5 687.1 L2103.4 687.0 L2104.3 686.9 L2105.2 686.7 L2106.1 686.9 L2107.0 687.0 L2107.9 686.4 L2108.8 686.1 L2109.7 686.4 L2109.8 686.1 L2110.5 685.9 L2111.4 685.9 L2112.3 685.6 L2113.1 685.4 L2114.0 685.4 L2114.8 685.1 L2115.7 684.8 L2116.5 684.4 L2117.4 684.2 L2118.2 683.8 L2119.1 683.4 L2119.9 683.3 L2120.8 682.8 L2121.4 682.5 L2121.7 682.4 L2122.5 682.2 L2123.4 681.9 L2124.2 681.4 L2125.1 680.8 L2126.0 681.0 L2126.9 680.8 L2127.7 680.4 L2128.6 680.1 L2129.5 680.3 L2130.3 680.1 L2131.2 679.5 L2131.6 679.3 L2132.0 679.4 L2132.9 679.9 L2133.8 680.1 L2134.6 680.4 L2135.5 680.8 L2136.3 680.5 L2137.2 680.8 L2138.0 681.8 L2138.9 682.4 L2139.7 682.7 L2140.6 683.1 L2141.4 683.2 L2142.3 682.9 L2143.2 683.1 L2143.2 683.2 L2144.1 683.3 L2144.9 683.4 L2145.8 683.8 L2146.7 683.8 L2147.6 683.7 L2148.5 683.6 L2149.4 683.8 L2150.3 684.1 L2151.2 684.2 L2152.1 684.3 L2153.0 684.2 L2153.9 684.1 L2154.8 684.1 L2155.7 683.9 L2156.6 684.1 L2157.5 684.5 L2158.4 684.5 L2159.3 684.6 L2160.2 684.4 L2161.2 684.4 L2162.1 684.9 L2163.0 684.5 L2163.9 684.6 L2164.8 685.0 L2165.0 684.5 L2165.7 684.3 L2166.6 684.6 L2167.5 684.8 L2168.4 684.6 L2169.3 684.5 L2170.2 684.8 L2171.1 684.9 L2172.0 685.1 L2172.9 685.1 L2173.8 685.0 L2174.6 685.4 L2175.5 685.3 L2176.4 685.3 L2177.3 685.6 L2178.2 685.7 L2179.1 685.8 L2180.0 686.0 L2180.9 686.0 L2181.8 685.9 L2182.7 685.8 L2183.6 685.9 L2184.5 686.1 L2185.3 686.4 L2185.4 686.5 L2186.3 686.6 L2187.2 686.6 L2188.1 686.5 L2189.1 686.6 L2190.0 686.6 L2190.9 686.8 L2191.8 686.9 L2192.6 687.1 L2193.5 687.2 L2194.1 687.5 L2194.3 687.8 L2195.1 688.4 L2195.9 688.7 L2196.8 689.4 L2197.5 690.3 L2198.1 691.0 L2198.4 691.3 L2198.4 691.0 L2198.7 691.9 L2198.9 693.0 L2199.1 693.9 L2199.3 694.9 L2199.5 695.8 L2199.7 697.0 L2199.8 698.2 L2200.0 699.2 L2200.1 700.6 L2200.2 701.8 L2200.3 702.9 L2200.4 704.3 L2200.5 705.6 L2200.6 706.5 L2200.7 707.2 L2200.8 708.0 L2200.9 708.8 L2201.0 709.5 L2201.1 709.7 L2201.2 710.2 L2201.3 710.2 L2201.3 710.1 L2201.4 710.1 L2201.5 710.1 L2201.6 709.4 L2201.7 708.8 L2201.7 707.9 L2201.8 706.8 L2201.9 705.9 L2201.9 705.0 L2202.0 703.8 L2202.1 702.3 L2202.1 700.9 L2202.2 699.6 L2202.2 698.6 L2202.3 697.2 L2202.4 695.5 L2202.4 694.4 L2202.5 693.3 L2202.6 691.9 L2202.7 691.0 L2202.8 690.2 L2202.9 689.6 L2203.0 689.0 L2203.1 688.5 L2203.3 688.2 L2203.4 688.4 L2203.5 688.4 L2203.7 688.3 L2204.0 688.2 L2204.5 688.1 L2205.0 688.1 L2205.5 688.4 L2206.2 688.2 L2206.9 688.1 L2207.7 688.1 L2208.5 688.5 L2209.4 688.7 L2210.4 688.6 L2211.4 688.4 L2212.4 688.5 L2213.5 688.7 L2214.6 688.4 L2215.8 688.4 L2217.0 688.7 L2218.2 688.4 L2219.4 688.3 L2220.7 688.3 L2222.0 688.4 L2223.3 688.6 L2224.6 688.8" fill="none" stroke="#7d0000" stroke-width="4.8" stroke-linejoin="round" stroke-linecap="butt"/>
<g stroke="#141414" stroke-width="3.1" fill="none" stroke-linecap="butt">
<path d="M1289.4 12.7 V769.8"/>
<path d="M1287.9 768.3 H2226.5"/>
<path d="M1289.4 768.5 H1280.8"/>
<path d="M1289.4 714.9 H1280.8"/>
<path d="M1289.4 676.9 H1280.8"/>
<path d="M1289.4 647.4 H1280.8"/>
<path d="M1289.4 623.3 H1280.8"/>
<path d="M1289.4 602.9 H1280.8"/>
<path d="M1289.4 585.2 H1280.8"/>
<path d="M1289.4 569.6 H1280.8"/>
<path d="M1289.4 555.7 H1273.2"/>
<path d="M1289.4 464.0 H1280.8"/>
<path d="M1289.4 410.4 H1280.8"/>
<path d="M1289.4 372.4 H1280.8"/>
<path d="M1289.4 342.9 H1280.8"/>
<path d="M1289.4 318.8 H1280.8"/>
<path d="M1289.4 298.4 H1280.8"/>
<path d="M1289.4 280.7 H1280.8"/>
<path d="M1289.4 265.1 H1280.8"/>
<path d="M1289.4 251.2 H1273.2"/>
<path d="M1289.4 159.5 H1280.8"/>
<path d="M1289.4 105.9 H1280.8"/>
<path d="M1289.4 67.9 H1280.8"/>
<path d="M1289.4 38.4 H1280.8"/>
<path d="M1289.4 14.3 H1280.8"/>
<path d="M1304.3 768.3 V784.5"/>
<path d="M1457.7 768.3 V776.9"/>
<path d="M1611.2 768.3 V784.5"/>
<path d="M1764.6 768.3 V776.9"/>
<path d="M1918.0 768.3 V784.5"/>
<path d="M2071.4 768.3 V776.9"/>
<path d="M2224.9 768.3 V784.5"/>
</g>
<rect x="1724" y="80.7" width="130" height="220.7" fill="#ffffff" stroke="#333" stroke-width="1.4"/>
<path d="M1730 112.0 H1815.2" stroke="#ff0000" stroke-width="5" stroke-linecap="round"/>
<text x="1837" y="125.3" text-anchor="middle" class="b" font-size="43">4</text>
<path d="M1730 166.0 H1815.2" stroke="#ff00ff" stroke-width="5" stroke-linecap="round"/>
<text x="1837" y="179.3" text-anchor="middle" class="b" font-size="43">3</text>
<path d="M1730 219.5 H1815.2" stroke="#0000ff" stroke-width="5" stroke-linecap="round"/>
<text x="1837" y="232.8" text-anchor="middle" class="b" font-size="43">2</text>
<path d="M1730 273.2 H1815.2" stroke="#7d0000" stroke-width="5" stroke-linecap="round"/>
<text x="1837" y="286.5" text-anchor="middle" class="b" font-size="43">1</text>
<text x="1304.3" y="832.3" text-anchor="middle" class="b" font-size="50">200</text>
<text x="1611.2" y="832.3" text-anchor="middle" class="b" font-size="50">400</text>
<text x="1918.0" y="832.3" text-anchor="middle" class="b" font-size="50">600</text>
<text x="2224.9" y="832.3" text-anchor="middle" class="b" font-size="50">800</text>
<text x="1263" y="263.5" text-anchor="end" class="b" font-size="43.5">1</text>
<text x="1263" y="568.0" text-anchor="end" class="b" font-size="43.5">0.1</text>
<text x="1748" y="922.5" text-anchor="middle" class="b" font-size="59.5">λ, nm</text>
<text transform="translate(1162.5 359.5) rotate(-90)" text-anchor="middle" class="b" font-size="56">Optical density</text>
</g>
<text x="1683.5" y="1003" text-anchor="middle" class="r" font-size="48" letter-spacing="1.6">(b)</text>
</svg>
</body>
</html>
